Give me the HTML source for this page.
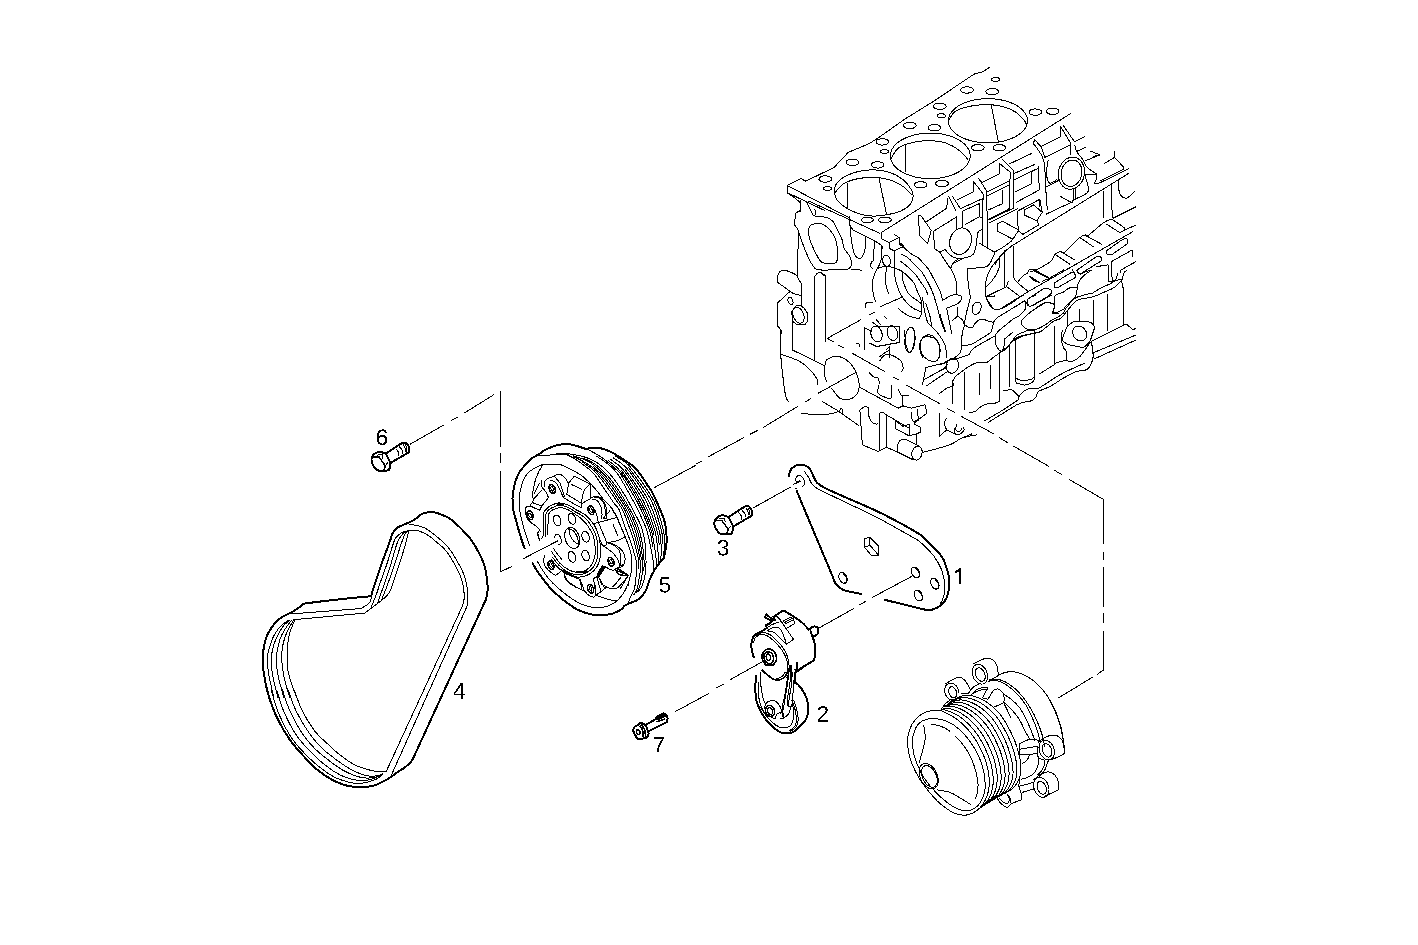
<!DOCTYPE html>
<html><head><meta charset="utf-8"><title>Diagram</title>
<style>html,body{margin:0;padding:0;background:#fff}body{width:1418px;height:945px;overflow:hidden}svg{display:block}text{font-family:"Liberation Sans",sans-serif;fill:#000}</style>
</head><body>
<svg width="1418" height="945" viewBox="0 0 1418 945" shape-rendering="crispEdges">
<rect width="1418" height="945" fill="#fff"/>
<g fill="none" stroke="#000" stroke-width="1" stroke-linecap="round" stroke-linejoin="round">
<path d="M410.1 444.2L443.7 425.1"/>
<path d="M451.1 420.6L457.8 417.1"/>
<path d="M464.8 412.7L493.7 394.8"/>
<path d="M500.5 391.2L500.5 446.2"/>
<path d="M500.5 453.7L500.5 462.4"/>
<path d="M500.5 471.1L500.5 571.8L511.2 566.8"/>
<path d="M523.7 558.5L557.4 541"/>
<path d="M753.4 507.8L790.9 486.9"/>
<path d="M795.1 483.6L800.8 481.1"/>
<path d="M912.1 576.2L872.2 597.5"/>
<path d="M865.9 601.2L859.7 604.9"/>
<path d="M853.4 608.7L819.2 627.9"/>
<path d="M763.5 661.1L729.8 679.9"/>
<path d="M723.6 684.1L716.1 688.1"/>
<path d="M708.6 693.6L674.9 711.8"/>
<path d="M1103.6 499.4L1103.6 543.5"/>
<path d="M1103.6 552.3L1103.6 559.8"/>
<path d="M1103.6 567.3L1103.6 606.2"/>
<path d="M1103.6 613.7L1103.6 622.5"/>
<path d="M1103.6 631.2L1103.6 669.9L1097.2 674.4"/>
<path d="M1092.2 677.4L1058.5 697.9"/>
<path d="M1103.4 499.4L1069.2 479.4"/>
<path d="M1062.2 474.9L1054.7 470.4"/>
<path d="M1048.4 466.1L1013.5 446.2"/>
<path d="M1007.2 442.4L999.8 437.9"/>
<path d="M993.5 433.7L961 416.2"/>
<path d="M954.8 412.5L947.3 408.7"/>
<path d="M939.8 403.7L906.1 385"/>
<path d="M899 379.9L893.2 377.4"/>
<path d="M884.8 371.6L852.4 353.3"/>
<path d="M844.1 348L838.2 345"/>
<path d="M833.2 341.7L827.4 338.3L860.7 319.8"/>
<path d="M869 314.8L874.9 312.3"/>
<path d="M880.7 306.5L901.5 297.4"/>
<path d="M654.8 487.4L695.2 465.6"/>
<path d="M696.7 463.9L702.2 460.9"/>
<path d="M708.5 456.7L743.4 437.9"/>
<path d="M750.2 434.2L757.2 430.7"/>
<path d="M763.4 427.4L797.5 406.6"/>
<path d="M805.8 401.6L810.8 398.6"/>
<path d="M818.3 393.2L854.9 372.9"/>
<path d="M409.3 524.3C410.6 524.6 414.8 525 417.4 525.6C420 526.2 422.4 526.8 424.9 528.1C427.4 529.3 429.9 531.2 432.4 533.1C434.9 535 437.6 537.3 439.9 539.3C442.2 541.3 444 542.7 446.1 544.9C448.2 547.2 450.3 549.9 452.4 553.1C454.4 556.2 456.7 560.2 458.6 563.7C460.5 567.1 462.3 570.5 463.6 573.7C464.8 576.8 465.4 579.5 466.1 582.4C466.8 585.3 467.3 588.2 467.6 591.1C467.9 594 468 597.4 468 599.9C467.9 602.4 467.2 605.1 467.1 606.1"/>
<path d="M408 530.6C409.2 530.5 412.7 530 414.9 530.2C417.1 530.4 418.9 530.9 421.1 531.8C423.4 532.7 426.1 533.9 428.6 535.6C431.1 537.2 433.6 539.7 436.1 541.8C438.6 543.9 441.3 545.7 443.6 548.1C445.9 550.5 448 553.4 449.9 556.2C451.7 559 453.2 561.8 454.9 564.9C456.5 568 458.5 571.6 459.9 574.9C461.2 578.2 462.2 581.6 463 584.9C463.7 588.2 464.1 592.2 464.2 594.9C464.4 597.6 464.2 599.3 463.8 601.1C463.5 603 462.6 605.3 462.3 606.1"/>
<path d="M404.9 531.2C404.3 531.5 402.6 532 401.2 533.1C399.7 534.1 397.4 535.9 396.2 537.5C394.9 539 395.1 538.3 393.7 542.4C392.2 546.6 389.5 556.2 387.4 562.4C385.4 568.7 383.1 574.5 381.2 579.9C379.3 585.3 377.5 591.3 376.2 594.9C375 598.4 374.5 599 373.7 601.1C372.9 603.2 371.6 606.3 371.2 607.4"/>
<path d="M406.2 531.2C405.6 531.6 404.5 531.6 403 533.5C401.6 535.3 399.6 536.8 397.4 542.4C395.2 548.1 392.3 559.9 389.9 567.4C387.5 574.9 385.2 581.4 383.1 587.4C381 593.4 378.4 600.9 377.5 603.6"/>
<path d="M407.4 531C407 531.4 406.2 531.6 405.2 533.7C404.1 535.8 403.1 538.1 401.2 543.7C399.3 549.3 396 560.5 393.7 567.4C391.4 574.3 389.5 579.3 387.4 584.9C385.4 590.5 382.2 598.4 381.2 601.1"/>
<path d="M408.7 531.2C408 533.7 406.6 540.4 404.9 546.2C403.3 552 400.8 559.7 398.7 566.2C396.6 572.6 394 580.5 392.4 584.9C390.9 589.3 390.8 590.1 389.3 592.4C387.9 594.7 385.7 596.8 383.7 598.6C381.7 600.5 379.3 602.2 377.5 603.6C375.6 605.1 374.5 605.8 372.5 607.4C370.4 608.9 366.2 612 365 613"/>
<path d="M371.2 596.4C371.2 596.8 371.6 597.4 371.2 598.6C370.8 599.8 370.2 602.1 368.7 603.6C367.3 605.1 363.5 606.9 362.5 607.6"/>
<path d="M289.9 614L361.7 608.5"/>
<path d="M293.7 619.7L364.8 613.1"/>
<path d="M288.1 620.6C286.9 621.4 283.4 623.4 281.2 625.6C279 627.8 276.7 630.7 275 633.7C273.2 636.7 271.8 640.1 270.6 643.7C269.4 647.2 268.2 651.2 267.7 654.9C267.2 658.7 267.4 662.4 267.7 666.1C268 669.9 268.7 673.6 269.3 677.4C270 681.1 271.1 685.2 271.8 688.6C272.6 692 273.4 696.4 273.7 698"/>
<path d="M289.9 620.2C288.9 621.1 285.7 623.1 283.7 625.6C281.7 628 279.7 631.7 278.1 634.9C276.4 638.2 274.8 641.4 273.7 644.9C272.6 648.5 271.8 652.6 271.5 656.2C271.1 659.7 271.2 662.6 271.5 666.1C271.7 669.7 272.4 673.6 273.1 677.4C273.8 681.1 274.7 685.2 275.6 688.6C276.4 692 277.7 696.4 278.1 698"/>
<path d="M291.8 620C290.9 621.2 288 624.7 286.2 627.4C284.4 630.1 282.6 633.1 281.2 636.2C279.8 639.3 278.8 642.8 278.1 646.2C277.3 649.5 276.8 652.6 276.6 656.2C276.4 659.7 276.5 663.6 276.8 667.4C277.2 671.1 277.9 674.9 278.7 678.6C279.5 682.4 281 686.6 281.8 689.9C282.7 693.1 283.4 696.6 283.7 698"/>
<path d="M293.7 620C292.9 621.4 290.1 625.8 288.7 628.7C287.2 631.6 286 634.3 284.9 637.4C283.9 640.5 283 644.1 282.4 647.4C281.9 650.7 281.8 654.1 281.8 657.4C281.8 660.7 282 663.9 282.4 667.4C282.9 670.9 283.5 674.9 284.3 678.6C285.2 682.4 286.5 686.6 287.4 689.9C288.4 693.1 289.5 696.6 289.9 698"/>
<path d="M294.9 620.2C294.3 621.6 292.2 625.8 291.2 628.7C290.1 631.6 289.3 634.3 288.7 637.4C288.1 640.5 287.7 644.1 287.4 647.4C287.2 650.7 287.2 654.1 287.2 657.4C287.2 660.7 287 663.9 287.4 667.4C287.9 670.9 288.9 674.9 289.9 678.6C291 682.4 292.5 686.6 293.7 689.9C294.8 693.1 296.3 696.6 296.8 698"/>
<path d="M271.2 690C272.5 694 275.4 705.8 278.7 713.7C282 721.6 286.8 730.8 291.2 737.4C295.6 744.1 300.1 748.7 304.9 753.7C309.7 758.7 314.9 763.4 319.9 767.4C324.9 771.4 330.3 775 334.9 777.4C339.5 779.8 343.4 780.7 347.4 781.8C351.3 782.8 355.1 783.6 358.6 783.6C362.2 783.6 365.7 782.5 368.6 781.8C371.5 781 373.8 780.4 376.1 779.3C378.4 778.1 381.3 775.6 382.3 774.9"/>
<path d="M276.8 690C278 693.5 280.5 703.7 283.7 711.2C286.9 718.7 291.8 728.3 296.2 734.9C300.6 741.6 305.1 746.2 309.9 751.2C314.7 756.2 319.9 761 324.9 764.9C329.9 768.9 335.3 772.5 339.9 774.9C344.5 777.3 348.6 778.3 352.4 779.3C356.1 780.2 359.2 780.5 362.4 780.5C365.5 780.5 368.4 780 371.1 779.3C373.8 778.5 377.3 776.7 378.6 776.1"/>
<path d="M282.5 690C283.7 693.5 286.6 703.9 290 711.2C293.3 718.5 298.3 727.5 302.4 733.7C306.6 739.9 310.3 744.1 314.9 748.7C319.5 753.3 325.3 757.6 329.9 761.2C334.5 764.7 338 767.4 342.4 769.9C346.8 772.4 352.2 774.8 356.1 776.1C360.1 777.5 363 777.8 366.1 778C369.2 778.2 372.3 777.9 374.8 777.4C377.3 776.9 380 775.3 381.1 774.9"/>
<path d="M288.1 690C289.4 693.5 292.8 704.1 296.2 711.2C299.6 718.3 304.5 726.4 308.7 732.4C312.8 738.5 316.8 743.1 321.2 747.4C325.5 751.8 330.5 755.3 334.9 758.7C339.3 762 343.2 764.9 347.4 767.4C351.5 769.9 356.1 772.2 359.9 773.6C363.6 775.1 366.7 775.8 369.9 776.1C373 776.5 376.4 775.9 378.6 775.5C380.8 775.1 382.2 774 383 773.6"/>
<path d="M294.3 690C295.7 693.5 299 704.4 302.4 711.2C305.9 718.1 310.8 725.8 314.9 731.2C319.1 736.6 323.2 739.7 327.4 743.7C331.6 747.6 335.5 751.5 339.9 754.9C344.3 758.4 349.5 762 353.6 764.3C357.8 766.6 361.3 767.5 364.9 768.7C368.4 769.8 371.4 770.7 374.8 771.1C378.3 771.6 383.7 771.4 385.5 771.4"/>
<path d="M462.4 606.1L386.3 771.3"/>
<path d="M467.1 606.1L391 776"/>
<path d="M529.6 545.5C529 543.8 527.1 538.8 525.9 535.1C524.7 531.4 523.6 527.5 522.5 523.4C521.5 519.2 520.2 513 519.6 510C519.1 507 519.3 507.4 519.2 505.2C519.1 503 518.9 499.6 519.2 496.8C519.5 494 520.2 491.2 520.9 488.4C521.6 485.7 522.3 482.6 523.4 480.1C524.5 477.6 525.7 475.4 527.5 473.4C529.3 471.5 531.7 469.9 534.2 468.4C536.8 466.9 541.5 465.1 543 464.4C545.7 464.4 555 463.7 559.3 464.4C563.5 465.1 564.9 466.6 568.5 468.4C572.1 470.2 577.4 472.6 581 475.1C584.6 477.6 587.4 480.7 590.2 483.4C593 486.2 595.6 489.3 597.7 491.8C599.8 494.3 600.4 495.7 602.7 498.5C605.1 501.2 609.4 505.3 611.8 508.3C614.1 511.4 615.2 513.6 616.8 516.7C618.3 519.7 619.6 523.4 621 526.7C622.4 530.1 623.6 532.8 625.1 536.7C626.7 540.6 629 546.2 630.1 550.1C631.3 554 631.5 557.1 631.8 560.1C632.1 563.2 632.1 565.7 631.8 568.5C631.5 571.3 630.8 574 630.1 576.8C629.5 579.6 628.3 584.2 628.1 585.2C627.8 586.2 629.2 581.5 628.6 582.6C628 583.7 626.1 589 624.4 591.8C622.7 594.6 620.6 597.2 618.5 599.3C616.5 601.4 614.4 603 611.9 604.3C609.4 605.6 606.3 606.7 603.5 607.2C600.7 607.8 597.9 607.7 595.2 607.5C592.4 607.3 589.9 606.9 586.8 606C583.7 605 580.1 603.6 576.8 601.8C573.4 600 570 597.5 566.8 595.1C563.6 592.8 560.5 590.3 557.6 587.6C554.6 585 551.7 582.2 549.2 579.2C546.7 576.3 544.5 573.1 542.5 570.1C540.5 567 538 562.4 537.1 560.9"/>
<path d="M566 454.5C567.2 455.1 570.7 456.3 573.5 458C576.3 459.7 579.7 461.9 583 464.5C586.3 467.1 590.5 470.1 593.5 473.4C596.5 476.6 598.5 480.4 601 484C603.5 487.6 606.1 491.6 608.4 494.9C610.6 498.2 612.7 501.4 614.5 503.9C616.3 506.4 617.5 506.1 619.3 510C621.1 513.9 623.1 521.5 625.1 527C627.1 532.5 629.2 537.5 631 543C632.8 548.5 635 555.8 636 560C637 564.2 636.8 565.7 636.8 568.5C636.8 571.3 636.4 573.6 636 577C635.6 580.4 635.3 585.5 634.3 589C633.3 592.5 631 595.7 630 598C629 600.3 628.8 602.2 628.5 603"/>
<path d="M583 462.5C584.8 463.8 590.4 467.3 593.5 470.2C596.6 473.1 599.1 476.6 601.8 480C604.5 483.4 607.3 487.3 609.8 490.9C612.3 494.5 614.9 498.4 617 501.6C619.1 504.8 620.7 505.8 622.7 510C624.7 514.2 627.2 521.5 629.2 527C631.2 532.5 633 537.5 634.5 543C636 548.5 637.8 555.7 638.5 560C639.2 564.3 638.9 567.5 639 569"/>
<path d="M573.5 456.6C575.1 457.4 579.7 459.4 583 461.3C586.3 463.2 590.3 465.5 593.5 468.2C596.7 470.9 599.4 474.2 602.2 477.6C605.1 481 607.9 484.7 610.6 488.5C613.3 492.3 616.1 496.7 618.5 500.3C620.9 503.9 622.6 505.6 624.8 510C627 514.5 629.6 521.5 631.6 527C633.6 532.5 635.2 537.5 636.6 543C638 548.5 639.4 555.6 640 560C640.6 564.4 640.5 566.4 640.4 569.4C640.3 572.4 639.7 574.9 639.2 578C638.7 581.1 638.2 585.2 637.3 588C636.4 590.8 634.4 593.7 633.8 594.8"/>
<path d="M593.5 466.4C595 467.9 599.6 472.1 602.6 475.4C605.6 478.7 608.5 482.4 611.4 486.3C614.3 490.2 617.5 495.1 620 499C622.5 502.9 624.4 505.3 626.7 510C629 514.7 631.9 521.5 633.9 527C635.9 532.5 637.4 537.5 638.6 543C639.9 548.5 640.9 557.2 641.4 560"/>
<path d="M573.5 455.7C575.1 456.3 579.7 457.6 583 459.1C586.3 460.6 590.2 462.4 593.5 464.8C596.8 467.2 599.9 470.1 603 473.3C606.1 476.5 609.2 480.1 612.2 484.2C615.2 488.3 618.6 493.6 621.3 497.9C624 502.2 626 505.1 628.5 510C631 514.9 634 521.5 636 527C638 532.5 639.3 537.5 640.4 543C641.5 548.5 642.3 555.5 642.7 560C643.1 564.5 643 566.9 642.8 570C642.6 573.1 642 575.7 641.4 578.6C640.8 581.5 640.1 585.1 639.3 587.4C638.5 589.7 636.9 591.7 636.4 592.6"/>
<path d="M583 458.1C584.8 458.9 590.1 460.9 593.5 463.1C596.9 465.3 600.2 468 603.4 471.2C606.6 474.4 609.7 477.9 612.9 482.2C616.1 486.4 619.7 492.1 622.6 496.7C625.5 501.3 627.7 504.9 630.3 510C632.9 515 636.1 521.5 638.1 527C640.1 532.5 641.2 537.5 642.2 543C643.2 548.5 643.7 555.5 644 560C644.3 564.5 643.9 568.6 643.9 570.3"/>
<path d="M566 453.5C567.2 453.7 570.7 454.1 573.5 454.6C576.3 455.1 579.7 455.5 583 456.5C586.3 457.5 590 458.6 593.5 460.5C597 462.4 600.6 464.9 604 468C607.4 471.1 610.6 474.5 614 479C617.4 483.5 621.4 489.7 624.6 494.9C627.8 500.1 630.2 504.6 633 510C635.8 515.4 639.4 521.5 641.4 527C643.4 532.5 644.2 537.5 645 543C645.8 548.5 645.9 555.4 646 560C646.1 564.6 646 567.5 645.7 570.7C645.4 573.9 644.8 576.8 644.1 579.4C643.4 582 642.5 584.8 641.7 586.6C640.9 588.4 640.1 589.1 639.5 590C638.9 590.9 638.1 591.8 637.8 592.1"/>
<path d="M596 456C597.7 457.1 602.5 459.7 606 462.5C609.5 465.3 613 467.6 617 473C621 478.4 626.4 488.7 629.9 494.9C633.4 501.1 635.4 504.6 638 510C640.6 515.4 643.9 522.8 645.6 527C647.3 531.2 647.3 531.7 648.1 535C648.9 538.3 649.7 542.9 650.5 546.9C651.3 550.9 652.3 555 652.9 558.8C653.5 562.6 653.8 568 654 569.9"/>
<path d="M619.1 471.9C621.5 475.7 629.6 488.5 633.3 494.9C637 501.2 638.7 504.6 641.2 510C643.7 515.4 646.8 522.8 648.4 527C650 531.2 650.1 531.8 650.8 535C651.5 538.2 652.5 544.4 652.8 546.3"/>
<path d="M608.7 460.9C610.7 462.6 616 465.6 620.5 471.3C625 477 631.6 488.4 635.4 494.9C639.2 501.3 640.8 504.6 643.2 510C645.7 515.4 648.6 522.8 650.1 527C651.6 531.2 651.7 531.9 652.4 535C653.1 538.1 653.7 542.3 654.3 545.9C654.9 549.5 655.5 553.3 655.9 556.7C656.3 560.1 656.4 564.7 656.5 566.3"/>
<path d="M621.8 470.6C624.4 474.7 633.6 488.3 637.5 494.9C641.4 501.5 642.8 504.6 645.2 510C647.6 515.4 650.3 522.8 651.8 527C653.3 531.2 653.6 533.7 654 535"/>
<path d="M610.9 459.6C613 461.3 618.5 463.9 623.3 469.8C628.1 475.7 635.9 488.2 639.9 494.9C643.9 501.6 645.2 504.6 647.5 510C649.8 515.4 652.4 522.8 653.8 527C655.2 531.2 655.3 532 655.9 535C656.5 538 656.9 541.7 657.3 545C657.7 548.3 658.1 551.9 658.3 555C658.5 558.1 658.5 562 658.5 563.4"/>
<path d="M625 469C627.9 473.3 638.4 488.1 642.6 494.9C646.8 501.7 647.8 504.6 650 510C652.2 515.4 654.7 522.8 656 527C657.3 531.2 657.5 532.1 658 535C658.5 537.9 659 542.9 659.2 544.5"/>
<path d="M613.4 458C615.6 459.7 621.4 462.1 626.7 468.2C632 474.3 640.9 487.9 645.2 494.9C649.5 501.9 650.3 504.6 652.5 510C654.7 515.4 656.9 522.8 658.2 527C659.5 531.2 659.6 532.2 660.1 535C660.6 537.8 660.8 541 661 544C661.2 547 661.1 550.2 661.1 552.9C661.1 555.5 660.9 558.7 660.9 559.9"/>
<path d="M628.5 467.3C631.8 471.9 643.6 487.8 648.1 494.9C652.6 502 653.1 504.6 655.2 510C657.3 515.4 659.3 522.8 660.5 527C661.7 531.2 661.9 532.2 662.3 535C662.7 537.8 662.9 542.1 663 543.5"/>
<path d="M616 456.5C618.3 458.2 624.2 460.1 630 466.5C635.8 472.9 645.9 487.6 650.5 494.9C655.1 502.1 655.5 504.6 657.5 510C659.5 515.4 661.4 522.8 662.5 527C663.6 531.2 663.9 532.3 664.2 535C664.6 537.7 664.6 540.4 664.6 543C664.6 545.6 664.2 548.7 664 550.9C663.8 553.1 663.4 555.5 663.3 556.4"/>
<path d="M538.4 455C539.2 455 541.5 455 543.4 455C545.4 455 547.9 455.1 550.1 455C552.3 454.9 554.8 454.6 556.8 454.4C558.7 454.1 559.8 453.6 561.8 453.5C563.7 453.4 566.5 453.5 568.5 453.8C570.4 454 572.7 454.8 573.5 455"/>
<path d="M543 464.6C542.4 465.7 540.4 468.6 539.2 470.9C538.1 473.2 536.8 475.8 535.9 478.4C535 481.1 534.4 484 533.8 486.8C533.3 489.6 532.6 492.9 532.6 495.1C532.5 497.4 533.3 499.3 533.4 500.2"/>
<path d="M587.3 449.2C588.3 449.7 591.1 451.1 593.5 452.5C596 453.9 599.1 455.6 601.9 457.5C604.7 459.5 607.5 461.9 610.3 464.2C613 466.6 615.7 469.1 618.6 471.7C621.6 474.4 626.4 478.7 628 480.1"/>
<path d="M541.7 480.9L541.7 486.8L543.8 489.3"/>
<path d="M539.7 483L534.2 493.5"/>
<path d="M534.2 498.5L541.7 490.1"/>
<path d="M543.8 489.3C544.3 490 546 492.1 546.8 493.5C547.5 494.9 548.2 496.9 548.4 497.6C547.5 498.9 544 503.1 542.6 505.2C541.1 507.3 540.1 509.3 539.7 510.2C538.2 509.5 532.1 507.3 530.9 506C529.7 504.7 532.3 503.2 532.6 502.7"/>
<path d="M532.6 502.7L533.4 500.2L534.2 498.5"/>
<path d="M532.6 502.7L541.7 506"/>
<path d="M530.9 506C530.2 506.1 527.6 506.3 526.7 506.8C525.8 507.4 525.5 507.9 525.5 509.3C525.4 510.7 525.8 513.6 526.3 515.2C526.8 516.8 528 518.3 528.4 518.9"/>
<path d="M544.3 486.8C544.3 486.2 544.2 484.3 544.3 483.4C544.3 482.5 544.2 482.1 544.7 481.4C545.2 480.6 546.8 479.3 547.2 478.8C548.4 478.4 552.5 476.7 554.3 475.9C556.1 475.2 556.8 474.4 558 474.3C559.3 474.1 560.6 474.5 561.8 475.1C563 475.7 564.2 476.9 565.1 478C566.1 479.1 567.1 480.9 567.6 481.8C568.2 482.7 568.3 483.2 568.5 483.4"/>
<path d="M554.3 475.9C554.7 476.5 555.8 478 556.8 479.3C557.8 480.5 559.3 481.9 560.1 483.4C561 485 561.2 486.8 561.8 488.5C562.4 490.1 563 492.1 563.5 493.5C564 494.9 564.5 496.3 564.7 496.8"/>
<path d="M550.1 480.1C550.9 480.4 553.7 480.7 555.1 481.8C556.5 482.9 557.5 485.1 558.5 486.8C559.4 488.5 560.3 490.3 561 491.8C561.7 493.3 562.1 494.9 562.6 496C563.2 497 564 497.7 564.3 498.1C566.8 499.5 576.4 505.4 579.3 506.8C582.3 508.3 581.4 506.8 581.8 506.8"/>
<path d="M568.5 483.4L574.3 476.3L590.2 483.9L590.6 498.5L581.8 503.5L581.8 506.8"/>
<path d="M568.5 483.4L566.8 494.3L581.8 503.5"/>
<path d="M590.2 483.9C589.2 484.9 585.7 488 584.4 490.1C583 492.3 582.7 494.6 582.3 496.8C581.8 499 581.9 502.4 581.8 503.5"/>
<path d="M571 484.3L581.8 489.3"/>
<path d="M590.6 498.5C591.1 498.2 592.2 497.1 593.5 496.8C594.9 496.5 597 496.3 598.6 496.8C600.1 497.4 601.5 498.5 602.7 500.2C604 501.8 605.4 504.6 606.1 506.8C606.8 509.1 606.9 511.5 606.9 513.5C606.9 515.5 606.2 518 606.1 518.9"/>
<path d="M592.3 499.3C593.1 499.5 595.6 499.2 596.9 500.2C598.2 501.1 599.4 503.2 600.2 505.2C601.1 507.1 601.6 509.5 601.9 511.8C602.2 514.1 601.9 517.8 601.9 518.9"/>
<path d="M594 497.6C595 497.8 598.5 497.2 600.2 498.5C602 499.7 603.6 502.7 604.4 505.2C605.2 507.7 605.2 511.2 605.2 513.5C605.2 515.8 604.5 518 604.4 518.9"/>
<path d="M543.4 518.9C543.4 518 542.9 515.3 543.4 513.5C544 511.8 545.4 509.9 546.8 508.5C548.2 507.1 550 506.1 551.8 505.2C553.6 504.3 555.7 503.4 557.6 503.1C559.6 502.8 561.4 503 563.5 503.5C565.6 504 567.9 504.9 570.2 506C572.4 507.1 575.7 509.5 576.8 510.2"/>
<path d="M545.8 518.9C545.8 518.1 545.4 515.5 545.9 513.9C546.4 512.4 547.6 510.9 548.8 509.8C550.1 508.6 551.8 507.8 553.4 507.1C555 506.4 556.8 505.6 558.5 505.4C560.1 505.2 561.7 505.4 563.5 505.8C565.3 506.3 567.4 507.1 569.3 508.1C571.3 509.1 574.2 511.2 575.2 511.8"/>
<path d="M548.1 518.9C548.2 518.3 548 516.1 548.4 514.8C548.9 513.4 549.8 512 550.9 511C552 510 553.7 509.5 555.1 508.9C556.5 508.4 557.9 507.8 559.3 507.7C560.7 507.5 561.9 507.7 563.5 508.1C565 508.5 566.7 509.1 568.5 510C570.2 510.9 573 512.9 573.9 513.5"/>
<path d="M553.3 488.5C553.3 488.6 553.4 488.7 553.4 488.9C553.4 489 553.5 489.1 553.5 489.2C553.5 489.4 553.5 489.5 553.5 489.6C553.5 489.7 553.6 489.9 553.5 490C553.5 490.1 553.5 490.2 553.5 490.3C553.5 490.4 553.5 490.5 553.4 490.6C553.4 490.7 553.4 490.7 553.3 490.8C553.3 490.9 553.2 490.9 553.2 491C553.1 491 553.1 491 553 491.1C552.9 491.1 552.9 491.1 552.8 491.1C552.7 491.1 552.6 491.1 552.6 491.1C552.5 491.1 552.4 491 552.3 491C552.3 490.9 552.2 490.9 552.1 490.8C552 490.7 551.9 490.7 551.9 490.6C551.8 490.5 551.7 490.4 551.6 490.3C551.6 490.2 551.5 490.1 551.4 490C551.4 489.9 551.3 489.8 551.2 489.6C551.2 489.5 551.1 489.4 551.1 489.3C551 489.1 551 489 551 488.9C550.9 488.8 550.9 488.6 550.9 488.5C550.9 488.4 550.8 488.2 550.8 488.1C550.8 488 550.8 487.9 550.8 487.8C550.8 487.7 550.9 487.5 550.9 487.4C550.9 487.3 550.9 487.3 550.9 487.2C551 487.1 551 487 551.1 486.9C551.1 486.9 551.2 486.8 551.2 486.8C551.3 486.7 551.3 486.7 551.4 486.7C551.5 486.7 551.5 486.6 551.6 486.6C551.7 486.6 551.7 486.6 551.8 486.7C551.9 486.7 552 486.7 552 486.8C552.1 486.8 552.2 486.9 552.3 486.9C552.4 487 552.4 487.1 552.5 487.2C552.6 487.2 552.7 487.3 552.7 487.4C552.8 487.5 552.9 487.6 552.9 487.7C553 487.9 553.1 488 553.1 488.1C553.2 488.2 553.2 488.3 553.3 488.5Z"/>
<path d="M531.1 514.8C531.2 514.9 531.2 515 531.3 515.2C531.3 515.3 531.3 515.4 531.4 515.6C531.4 515.7 531.4 515.8 531.4 515.9C531.4 516.1 531.4 516.2 531.4 516.3C531.4 516.4 531.4 516.5 531.4 516.6C531.4 516.7 531.3 516.8 531.3 516.9C531.3 517 531.2 517.1 531.2 517.1C531.1 517.2 531.1 517.2 531 517.3C531 517.3 530.9 517.4 530.9 517.4C530.8 517.4 530.7 517.4 530.6 517.4C530.6 517.4 530.5 517.4 530.4 517.4C530.4 517.4 530.3 517.3 530.2 517.3C530.1 517.2 530 517.2 530 517.1C529.9 517.1 529.8 517 529.7 516.9C529.6 516.8 529.6 516.7 529.5 516.6C529.4 516.5 529.4 516.4 529.3 516.3C529.2 516.2 529.2 516.1 529.1 516C529.1 515.8 529 515.7 529 515.6C528.9 515.5 528.9 515.3 528.8 515.2C528.8 515.1 528.8 514.9 528.7 514.8C528.7 514.7 528.7 514.6 528.7 514.4C528.7 514.3 528.7 514.2 528.7 514.1C528.7 514 528.7 513.9 528.7 513.8C528.7 513.7 528.8 513.6 528.8 513.5C528.8 513.4 528.9 513.3 528.9 513.3C529 513.2 529 513.1 529.1 513.1C529.1 513 529.2 513 529.3 513C529.3 513 529.4 513 529.5 513C529.5 513 529.6 513 529.7 513C529.7 513 529.8 513 529.9 513.1C530 513.1 530.1 513.2 530.1 513.2C530.2 513.3 530.3 513.4 530.4 513.5C530.5 513.6 530.5 513.6 530.6 513.7C530.7 513.8 530.7 513.9 530.8 514.1C530.9 514.2 530.9 514.3 531 514.4C531.1 514.5 531.1 514.7 531.1 514.8Z"/>
<path d="M592.1 509.8C592.2 509.9 592.2 510 592.3 510.2C592.3 510.3 592.3 510.4 592.3 510.6C592.4 510.7 592.4 510.8 592.4 510.9C592.4 511 592.4 511.2 592.4 511.3C592.4 511.4 592.4 511.5 592.4 511.6C592.3 511.7 592.3 511.8 592.3 511.9C592.2 512 592.2 512 592.2 512.1C592.1 512.2 592.1 512.2 592 512.3C592 512.3 591.9 512.4 591.8 512.4C591.8 512.4 591.7 512.4 591.6 512.4C591.6 512.4 591.5 512.4 591.4 512.4C591.3 512.4 591.3 512.3 591.2 512.3C591.1 512.2 591 512.2 590.9 512.1C590.9 512.1 590.8 512 590.7 511.9C590.6 511.8 590.6 511.7 590.5 511.6C590.4 511.5 590.3 511.4 590.3 511.3C590.2 511.2 590.1 511.1 590.1 511C590 510.8 590 510.7 589.9 510.6C589.9 510.4 589.8 510.3 589.8 510.2C589.8 510.1 589.8 509.9 589.7 509.8C589.7 509.7 589.7 509.5 589.7 509.4C589.7 509.3 589.7 509.2 589.7 509.1C589.7 509 589.7 508.8 589.7 508.7C589.7 508.6 589.8 508.6 589.8 508.5C589.8 508.4 589.9 508.3 589.9 508.2C590 508.2 590 508.1 590.1 508.1C590.1 508 590.2 508 590.2 508C590.3 508 590.4 507.9 590.4 507.9C590.5 507.9 590.6 508 590.7 508C590.7 508 590.8 508 590.9 508.1C591 508.1 591.1 508.2 591.1 508.2C591.2 508.3 591.3 508.4 591.4 508.5C591.4 508.5 591.5 508.6 591.6 508.7C591.7 508.8 591.7 508.9 591.8 509C591.9 509.2 591.9 509.3 592 509.4C592 509.5 592.1 509.6 592.1 509.8Z"/>
<path d="M612.2 561.4C612.2 561.5 612.3 561.7 612.3 561.8C612.3 561.9 612.4 562 612.4 562.2C612.4 562.3 612.4 562.4 612.4 562.5C612.4 562.7 612.4 562.8 612.4 562.9C612.4 563 612.4 563.1 612.4 563.2C612.4 563.3 612.4 563.4 612.3 563.5C612.3 563.6 612.3 563.7 612.2 563.7C612.2 563.8 612.1 563.8 612.1 563.9C612 563.9 611.9 564 611.9 564C611.8 564 611.8 564 611.7 564C611.6 564 611.5 564 611.5 564C611.4 564 611.3 563.9 611.2 563.9C611.2 563.9 611.1 563.8 611 563.7C610.9 563.7 610.8 563.6 610.8 563.5C610.7 563.4 610.6 563.3 610.5 563.2C610.5 563.1 610.4 563 610.3 562.9C610.3 562.8 610.2 562.7 610.1 562.6C610.1 562.5 610 562.3 610 562.2C609.9 562.1 609.9 561.9 609.9 561.8C609.8 561.7 609.8 561.5 609.8 561.4C609.8 561.3 609.7 561.2 609.7 561C609.7 560.9 609.7 560.8 609.7 560.7C609.7 560.6 609.7 560.5 609.8 560.4C609.8 560.3 609.8 560.2 609.8 560.1C609.9 560 609.9 559.9 610 559.9C610 559.8 610.1 559.7 610.1 559.7C610.2 559.7 610.2 559.6 610.3 559.6C610.3 559.6 610.4 559.6 610.5 559.6C610.6 559.6 610.6 559.6 610.7 559.6C610.8 559.6 610.9 559.6 610.9 559.7C611 559.7 611.1 559.8 611.2 559.9C611.3 559.9 611.3 560 611.4 560.1C611.5 560.2 611.6 560.3 611.6 560.4C611.7 560.4 611.8 560.6 611.8 560.7C611.9 560.8 612 560.9 612 561C612.1 561.1 612.1 561.3 612.2 561.4Z"/>
<path d="M552 564.7C552.1 564.9 552.1 565 552.2 565.1C552.2 565.3 552.2 565.4 552.2 565.5C552.3 565.6 552.3 565.8 552.3 565.9C552.3 566 552.3 566.1 552.3 566.2C552.3 566.4 552.3 566.5 552.3 566.6C552.2 566.7 552.2 566.8 552.2 566.8C552.1 566.9 552.1 567 552.1 567.1C552 567.1 552 567.2 551.9 567.2C551.9 567.3 551.8 567.3 551.7 567.3C551.7 567.4 551.6 567.4 551.5 567.4C551.5 567.4 551.4 567.4 551.3 567.3C551.2 567.3 551.2 567.3 551.1 567.2C551 567.2 550.9 567.1 550.8 567.1C550.8 567 550.7 566.9 550.6 566.9C550.5 566.8 550.5 566.7 550.4 566.6C550.3 566.5 550.2 566.4 550.2 566.3C550.1 566.2 550 566 550 565.9C549.9 565.8 549.9 565.7 549.8 565.5C549.8 565.4 549.7 565.3 549.7 565.2C549.7 565 549.7 564.9 549.6 564.8C549.6 564.6 549.6 564.5 549.6 564.4C549.6 564.3 549.6 564.1 549.6 564C549.6 563.9 549.6 563.8 549.6 563.7C549.6 563.6 549.7 563.5 549.7 563.4C549.7 563.4 549.8 563.3 549.8 563.2C549.9 563.1 549.9 563.1 550 563C550 563 550.1 563 550.1 562.9C550.2 562.9 550.3 562.9 550.3 562.9C550.4 562.9 550.5 562.9 550.6 562.9C550.6 563 550.7 563 550.8 563C550.9 563.1 551 563.1 551 563.2C551.1 563.3 551.2 563.3 551.3 563.4C551.3 563.5 551.4 563.6 551.5 563.7C551.6 563.8 551.6 563.9 551.7 564C551.8 564.1 551.8 564.2 551.9 564.4C551.9 564.5 552 564.6 552 564.7Z"/>
<path d="M591.7 588.5C591.7 588.6 591.8 588.7 591.8 588.8C591.8 589 591.9 589.1 591.9 589.2C591.9 589.4 591.9 589.5 591.9 589.6C591.9 589.7 591.9 589.9 591.9 590C591.9 590.1 591.9 590.2 591.9 590.3C591.9 590.4 591.8 590.5 591.8 590.6C591.8 590.6 591.7 590.7 591.7 590.8C591.7 590.9 591.6 590.9 591.5 591C591.5 591 591.4 591 591.4 591.1C591.3 591.1 591.2 591.1 591.2 591.1C591.1 591.1 591 591.1 590.9 591.1C590.9 591 590.8 591 590.7 591C590.6 590.9 590.6 590.9 590.5 590.8C590.4 590.7 590.3 590.7 590.2 590.6C590.2 590.5 590.1 590.4 590 590.3C589.9 590.2 589.9 590.1 589.8 590C589.7 589.9 589.7 589.8 589.6 589.6C589.6 589.5 589.5 589.4 589.5 589.3C589.4 589.1 589.4 589 589.3 588.9C589.3 588.7 589.3 588.6 589.3 588.5C589.2 588.4 589.2 588.2 589.2 588.1C589.2 588 589.2 587.9 589.2 587.8C589.2 587.6 589.2 587.5 589.2 587.4C589.3 587.3 589.3 587.2 589.3 587.2C589.4 587.1 589.4 587 589.4 586.9C589.5 586.9 589.5 586.8 589.6 586.8C589.6 586.7 589.7 586.7 589.8 586.7C589.8 586.6 589.9 586.6 590 586.6C590 586.6 590.1 586.6 590.2 586.7C590.3 586.7 590.3 586.7 590.4 586.8C590.5 586.8 590.6 586.9 590.7 586.9C590.7 587 590.8 587.1 590.9 587.1C591 587.2 591 587.3 591.1 587.4C591.2 587.5 591.3 587.6 591.3 587.7C591.4 587.8 591.5 588 591.5 588.1C591.6 588.2 591.6 588.3 591.7 588.5Z"/>
<path d="M560.5 519.4C560.6 519.7 560.7 520 560.8 520.3C560.8 520.6 560.9 520.9 560.9 521.2C560.9 521.5 561 521.8 560.9 522.1C560.9 522.4 560.9 522.7 560.9 523C560.8 523.3 560.7 523.5 560.7 523.8C560.6 524 560.5 524.2 560.3 524.4C560.2 524.6 560.1 524.8 559.9 525C559.8 525.2 559.6 525.3 559.5 525.4C559.3 525.5 559.1 525.6 558.9 525.7C558.7 525.7 558.5 525.8 558.3 525.8C558.1 525.8 557.9 525.8 557.7 525.7C557.4 525.7 557.2 525.6 557 525.5C556.8 525.4 556.6 525.3 556.4 525.2C556.2 525 555.9 524.8 555.7 524.6C555.5 524.5 555.3 524.2 555.2 524C555 523.8 554.8 523.5 554.6 523.3C554.5 523 554.3 522.7 554.2 522.4C554.1 522.1 554 521.8 553.9 521.5C553.8 521.2 553.7 520.9 553.6 520.6C553.6 520.3 553.5 520 553.5 519.7C553.5 519.4 553.4 519.1 553.5 518.8C553.5 518.5 553.5 518.2 553.5 517.9C553.6 517.6 553.7 517.4 553.8 517.1C553.8 516.9 553.9 516.6 554.1 516.4C554.2 516.2 554.3 516 554.5 515.9C554.6 515.7 554.8 515.6 554.9 515.5C555.1 515.4 555.3 515.3 555.5 515.2C555.7 515.1 555.9 515.1 556.1 515.1C556.3 515.1 556.5 515.1 556.7 515.1C557 515.2 557.2 515.3 557.4 515.4C557.6 515.5 557.8 515.6 558 515.7C558.3 515.9 558.5 516 558.7 516.2C558.9 516.4 559.1 516.7 559.2 516.9C559.4 517.1 559.6 517.4 559.8 517.6C559.9 517.9 560.1 518.2 560.2 518.5C560.3 518.8 560.4 519.1 560.5 519.4Z"/>
<path d="M575.2 517.7C575.3 518 575.3 518.3 575.4 518.6C575.5 518.9 575.5 519.2 575.5 519.5C575.6 519.9 575.6 520.2 575.6 520.5C575.6 520.7 575.5 521 575.5 521.3C575.4 521.6 575.4 521.8 575.3 522.1C575.2 522.3 575.1 522.6 575 522.8C574.8 523 574.7 523.2 574.6 523.3C574.4 523.5 574.3 523.6 574.1 523.7C573.9 523.9 573.7 524 573.5 524C573.3 524.1 573.1 524.1 572.9 524.1C572.7 524.1 572.5 524.1 572.3 524.1C572.1 524 571.8 524 571.6 523.9C571.4 523.8 571.2 523.6 571 523.5C570.8 523.3 570.6 523.2 570.4 523C570.2 522.8 570 522.6 569.8 522.3C569.6 522.1 569.4 521.8 569.3 521.6C569.1 521.3 569 521 568.8 520.8C568.7 520.5 568.6 520.2 568.5 519.9C568.4 519.6 568.3 519.2 568.2 518.9C568.2 518.6 568.1 518.3 568.1 518C568.1 517.7 568.1 517.4 568.1 517.1C568.1 516.8 568.1 516.5 568.2 516.2C568.2 516 568.3 515.7 568.4 515.5C568.5 515.2 568.6 515 568.7 514.8C568.8 514.6 568.9 514.4 569.1 514.2C569.2 514.1 569.4 513.9 569.6 513.8C569.7 513.7 569.9 513.6 570.1 513.5C570.3 513.5 570.5 513.4 570.7 513.4C570.9 513.4 571.1 513.4 571.4 513.5C571.6 513.5 571.8 513.6 572 513.7C572.2 513.8 572.4 513.9 572.7 514.1C572.9 514.2 573.1 514.4 573.3 514.6C573.5 514.8 573.7 515 573.9 515.2C574 515.4 574.2 515.7 574.4 516C574.5 516.2 574.7 516.5 574.8 516.8C574.9 517.1 575.1 517.4 575.2 517.7Z"/>
<path d="M588.9 535.6C589 536 589.1 536.3 589.2 536.6C589.3 536.9 589.3 537.2 589.3 537.5C589.4 537.8 589.4 538.1 589.3 538.4C589.3 538.7 589.3 539 589.3 539.3C589.2 539.5 589.1 539.8 589.1 540.1C589 540.3 588.9 540.5 588.7 540.7C588.6 540.9 588.5 541.1 588.3 541.3C588.2 541.5 588 541.6 587.9 541.7C587.7 541.8 587.5 541.9 587.3 542C587.1 542 586.9 542.1 586.7 542.1C586.5 542.1 586.3 542.1 586.1 542C585.9 542 585.6 541.9 585.4 541.8C585.2 541.7 585 541.6 584.8 541.4C584.6 541.3 584.3 541.1 584.1 540.9C583.9 540.7 583.7 540.5 583.6 540.3C583.4 540.1 583.2 539.8 583.1 539.5C582.9 539.3 582.7 539 582.6 538.7C582.5 538.4 582.4 538.1 582.3 537.8C582.2 537.5 582.1 537.2 582 536.9C582 536.6 581.9 536.3 581.9 536C581.9 535.7 581.9 535.3 581.9 535.1C581.9 534.8 581.9 534.5 582 534.2C582 533.9 582.1 533.7 582.2 533.4C582.2 533.2 582.3 532.9 582.5 532.7C582.6 532.5 582.7 532.3 582.9 532.2C583 532 583.2 531.9 583.3 531.8C583.5 531.6 583.7 531.6 583.9 531.5C584.1 531.4 584.3 531.4 584.5 531.4C584.7 531.4 584.9 531.4 585.1 531.4C585.4 531.5 585.6 531.6 585.8 531.6C586 531.7 586.2 531.9 586.4 532C586.7 532.2 586.9 532.3 587.1 532.5C587.3 532.7 587.5 532.9 587.6 533.2C587.8 533.4 588 533.7 588.2 533.9C588.3 534.2 588.5 534.5 588.6 534.8C588.7 535 588.8 535.3 588.9 535.6Z"/>
<path d="M588.9 554.4C589 554.7 589.1 555.1 589.2 555.4C589.3 555.7 589.3 556 589.3 556.3C589.4 556.6 589.4 556.9 589.3 557.2C589.3 557.5 589.3 557.8 589.3 558.1C589.2 558.3 589.1 558.6 589.1 558.9C589 559.1 588.9 559.3 588.7 559.5C588.6 559.7 588.5 559.9 588.3 560.1C588.2 560.3 588 560.4 587.9 560.5C587.7 560.6 587.5 560.7 587.3 560.8C587.1 560.8 586.9 560.9 586.7 560.9C586.5 560.9 586.3 560.9 586.1 560.8C585.9 560.8 585.6 560.7 585.4 560.6C585.2 560.5 585 560.4 584.8 560.2C584.6 560.1 584.3 559.9 584.1 559.7C583.9 559.5 583.7 559.3 583.6 559.1C583.4 558.9 583.2 558.6 583.1 558.3C582.9 558.1 582.7 557.8 582.6 557.5C582.5 557.2 582.4 556.9 582.3 556.6C582.2 556.3 582.1 556 582 555.7C582 555.4 581.9 555.1 581.9 554.8C581.9 554.4 581.9 554.1 581.9 553.8C581.9 553.6 581.9 553.3 582 553C582 552.7 582.1 552.5 582.2 552.2C582.2 552 582.3 551.7 582.5 551.5C582.6 551.3 582.7 551.1 582.9 551C583 550.8 583.2 550.7 583.3 550.6C583.5 550.4 583.7 550.3 583.9 550.3C584.1 550.2 584.3 550.2 584.5 550.2C584.7 550.2 584.9 550.2 585.1 550.2C585.4 550.3 585.6 550.3 585.8 550.4C586 550.5 586.2 550.7 586.4 550.8C586.7 551 586.9 551.1 587.1 551.3C587.3 551.5 587.5 551.7 587.6 552C587.8 552.2 588 552.5 588.2 552.7C588.3 553 588.5 553.3 588.6 553.6C588.7 553.8 588.8 554.1 588.9 554.4Z"/>
<path d="M575.2 555.7C575.3 556 575.3 556.3 575.4 556.6C575.5 556.9 575.5 557.3 575.5 557.6C575.6 557.9 575.6 558.2 575.6 558.5C575.6 558.8 575.5 559.1 575.5 559.3C575.4 559.6 575.4 559.9 575.3 560.1C575.2 560.3 575.1 560.6 575 560.8C574.8 561 574.7 561.2 574.6 561.3C574.4 561.5 574.3 561.6 574.1 561.8C573.9 561.9 573.7 562 573.5 562C573.3 562.1 573.1 562.1 572.9 562.1C572.7 562.1 572.5 562.1 572.3 562.1C572.1 562 571.8 562 571.6 561.9C571.4 561.8 571.2 561.6 571 561.5C570.8 561.4 570.6 561.2 570.4 561C570.2 560.8 570 560.6 569.8 560.3C569.6 560.1 569.4 559.9 569.3 559.6C569.1 559.3 569 559.1 568.8 558.8C568.7 558.5 568.6 558.2 568.5 557.9C568.4 557.6 568.3 557.3 568.2 556.9C568.2 556.6 568.1 556.3 568.1 556C568.1 555.7 568.1 555.4 568.1 555.1C568.1 554.8 568.1 554.5 568.2 554.2C568.2 554 568.3 553.7 568.4 553.5C568.5 553.2 568.6 553 568.7 552.8C568.8 552.6 568.9 552.4 569.1 552.2C569.2 552.1 569.4 551.9 569.6 551.8C569.7 551.7 569.9 551.6 570.1 551.5C570.3 551.5 570.5 551.4 570.7 551.4C570.9 551.4 571.1 551.4 571.4 551.5C571.6 551.5 571.8 551.6 572 551.7C572.2 551.8 572.4 551.9 572.7 552.1C572.9 552.2 573.1 552.4 573.3 552.6C573.5 552.8 573.7 553 573.9 553.2C574 553.5 574.2 553.7 574.4 554C574.5 554.2 574.7 554.5 574.8 554.8C574.9 555.1 575.1 555.4 575.2 555.7Z"/>
<path d="M554.8 537.6C554.8 537.4 554.8 537 554.9 536.8C554.9 536.5 555 536.3 555 536C555.1 535.8 555.2 535.6 555.3 535.4C555.4 535.2 555.5 535.1 555.6 534.9C555.7 534.8 555.8 534.6 556 534.5C556.1 534.4 556.3 534.4 556.4 534.3C556.6 534.3 556.8 534.2 556.9 534.2C557.1 534.2 557.3 534.3 557.5 534.3C557.7 534.4 557.9 534.4 558 534.5C558.2 534.6 558.4 534.7 558.6 534.9C558.8 535 559 535.2 559.1 535.4C559.3 535.6 559.5 535.8 559.6 536C559.8 536.2 560 536.5 560.1 536.7C560.2 537 560.4 537.2 560.5 537.5C560.6 537.8 560.7 538.1 560.8 538.3C560.9 538.6 561 538.9 561.1 539.2C561.1 539.5 561.2 539.8 561.2 540.1C561.2 540.4 561.2 540.6 561.2 540.9C561.2 541.2 561.2 541.5 561.2 541.7C561.2 542 561.1 542.2 561.1 542.4C561 542.7 560.9 542.9 560.8 543.1C560.7 543.2 560.6 543.4 560.5 543.6C560.4 543.7 560.2 543.8 560.1 543.9C560 544 559.8 544.1 559.6 544.2C559.5 544.2 559.3 544.2 559.1 544.2C559 544.2 558.8 544.2 558.6 544.2C558.4 544.1 558.1 544 558 544"/>
<path d="M579 535.8C579.2 536.4 579.3 537 579.5 537.6C579.6 538.2 579.7 538.9 579.7 539.5C579.8 540.1 579.8 540.7 579.8 541.3C579.7 541.8 579.7 542.4 579.6 542.9C579.5 543.5 579.3 544 579.2 544.5C579 545 578.8 545.4 578.5 545.8C578.3 546.2 578 546.6 577.7 546.9C577.4 547.3 577.1 547.5 576.7 547.8C576.4 548 576 548.2 575.6 548.3C575.2 548.4 574.8 548.5 574.4 548.5C574 548.6 573.5 548.5 573.1 548.4C572.6 548.4 572.2 548.2 571.8 548C571.3 547.8 570.9 547.6 570.5 547.3C570 547 569.6 546.7 569.2 546.3C568.8 545.9 568.4 545.5 568.1 545.1C567.7 544.6 567.4 544.1 567 543.6C566.7 543.1 566.4 542.5 566.2 541.9C565.9 541.4 565.7 540.8 565.5 540.2C565.3 539.6 565.1 539 565 538.4C564.9 537.7 564.8 537.1 564.7 536.5C564.7 535.9 564.7 535.3 564.7 534.7C564.7 534.1 564.8 533.6 564.9 533C565 532.5 565.2 532 565.3 531.5C565.5 531 565.7 530.5 566 530.1C566.2 529.7 566.5 529.4 566.8 529C567.1 528.7 567.4 528.4 567.8 528.2C568.1 528 568.5 527.8 568.9 527.7C569.3 527.5 569.7 527.5 570.1 527.4C570.5 527.4 571 527.4 571.4 527.5C571.8 527.6 572.3 527.8 572.7 527.9C573.1 528.1 573.6 528.4 574 528.7C574.4 529 574.9 529.3 575.3 529.7C575.7 530 576 530.5 576.4 530.9C576.8 531.4 577.1 531.9 577.4 532.4C577.8 532.9 578 533.5 578.3 534C578.6 534.6 578.8 535.2 579 535.8Z"/>
<path d="M568.9 528.8C569 529.7 569.2 532.5 569.7 534.2C570.3 536 571.2 537.8 572.2 539.2C573.3 540.7 574.9 542.2 576 543C577.1 543.8 578.4 544 578.9 544.3"/>
<path d="M568.9 528.8C569.7 529.1 572.2 529.7 573.5 530.9C574.8 532.1 575.9 533.7 576.8 535.9C577.7 538.1 578.6 542.9 578.9 544.3"/>
<path d="M543.4 518.9C543.4 520.2 543.2 524 543.2 526.7C543.2 529.4 543.4 533.7 543.4 535.1"/>
<path d="M545.8 518.9L545.5 535.9"/>
<path d="M548.1 518.9L547.8 535.1"/>
<path d="M543.4 535.1L541.7 538.4"/>
<path d="M539.2 530.9C539 531.4 537.5 532.7 537.6 534.2C537.6 535.8 539.3 539.1 539.7 540.1"/>
<path d="M545.5 535.9L545.8 536.7"/>
<path d="M525.5 510C525.7 511.3 525.8 515.4 526.7 517.5C527.6 519.6 529.4 521.1 530.9 522.5C532.4 523.9 534.5 524.8 535.9 525.9C537.3 527 538.5 528.2 539.2 529.2C539.9 530.2 539.9 531.3 540.1 531.7"/>
<path d="M537.6 532.6L538.8 537.6"/>
<path d="M573.9 513.5C574.8 514.1 577.5 515.6 579.3 517.1C581.2 518.6 583.5 520.7 585.2 522.5C586.9 524.4 588 526.3 589.4 528.4C590.7 530.5 592.2 532.6 593.1 535.1C594 537.6 594.4 540.4 594.8 543.4C595.1 546.5 595.4 550.5 595.2 553.4C595 556.4 594.5 558.6 593.5 561C592.6 563.3 591 565.9 589.4 567.6C587.7 569.4 585.6 570.6 583.5 571.4C581.4 572.2 579.3 572.8 576.8 572.5C574.3 572.2 571.3 571.2 568.5 569.7C565.7 568.2 562.5 565.8 560.1 563.5C557.8 561.1 555.7 557.5 554.3 555.5C552.9 553.6 552.2 552.4 551.8 551.8"/>
<path d="M575.2 511.8C576.3 512.4 579.8 513.9 581.8 515.4C583.9 516.9 586 518.9 587.7 520.9C589.4 522.8 590.5 524.9 591.9 527.1C593.2 529.4 594.7 531.5 595.6 534.2C596.6 536.9 597.1 540.1 597.5 543.4C597.8 546.7 598.1 550.7 597.9 553.9C597.6 557 597.1 559.6 596 562.2C595 564.8 593.3 567.4 591.5 569.3C589.6 571.2 587.2 572.6 584.8 573.5C582.3 574.4 579.7 575 576.8 574.7C574 574.5 570.6 573.6 567.6 572C564.7 570.4 561.4 567.8 558.9 565.3C556.4 562.8 553.7 558.6 552.6 557.2"/>
<path d="M576.8 510.2C578.1 510.8 582.1 512.6 584.4 514.2C586.6 515.8 588.5 517.7 590.2 519.6C591.9 521.6 593.1 523.5 594.4 525.9C595.7 528.2 597.2 530.9 598.1 533.8C599.1 536.7 599.7 540 600.1 543.4C600.4 546.8 600.7 550.9 600.5 554.3C600.2 557.6 599.7 560.7 598.6 563.5C597.4 566.3 595.6 568.9 593.5 571C591.5 573 588.8 574.7 586 575.7C583.2 576.8 580 577.3 576.8 577.1C573.6 576.8 570 575.8 566.8 574.2C563.6 572.5 560.2 569.7 557.6 567.2C555 564.7 552.4 560.6 551.4 559.3"/>
<path d="M553.4 548.4C554 549.3 555.4 551.6 556.8 553.4C558.2 555.3 561 558.3 561.8 559.3"/>
<path d="M544.7 555.9C544.5 556.6 543.3 558.5 543.4 560.1C543.5 561.8 544.3 564.3 545.1 566C545.9 567.6 547 568.8 548.4 570.2C549.8 571.5 552.3 573.5 553.4 574.3C554.6 575.2 555.2 575 555.5 575.2C556.2 574.7 558.2 573.6 559.3 572.7C560.3 571.8 561.4 570.2 561.8 569.7L563.5 571"/>
<path d="M564.3 571.4C564.4 572.3 564.4 575.1 565.1 576.8C565.8 578.6 567.1 580.5 568.5 581.8C569.9 583.2 571.7 584 573.5 585.2C575.3 586.4 578.4 588.3 579.3 588.9"/>
<path d="M564.3 571.4C565 571.8 566.5 572.6 568.5 573.5C570.4 574.4 574.2 575.9 576 576.8C577.8 577.8 578.4 577.3 579.3 579.3C580.3 581.4 581.4 587.3 581.8 588.9"/>
<path d="M606.8 542.6C607.6 542.7 610.1 542.9 611.8 543.4C613.4 544 615.1 544.8 616.8 545.9C618.5 547 620.5 548.7 621.8 550.1C623 551.5 623.7 552.9 624.3 554.3C624.9 555.7 625.1 556.9 625.1 558.5C625.1 560 625.1 562.2 624.3 563.5C623.5 564.7 620.8 565.6 620.1 566"/>
<path d="M603.4 545.9C604.3 546.5 606.8 548 608.4 549.3C610.1 550.5 611.9 551.8 613.4 553.4C615 555.1 616.5 557.2 617.6 559.3C618.7 561.4 619.7 564.9 620.1 566C619.6 566.4 617.9 567.8 616.8 568.5C615.7 569.2 614.7 570 613.4 570.2C612.2 570.3 610.4 569.7 609.3 569.3C608.2 568.9 607.6 568.1 606.8 567.6C605.9 567.2 604.7 566.9 604.3 566.8"/>
<path d="M606.8 542.6C607.9 543 611.5 544 613.4 545.1C615.4 546.2 617.3 547.9 618.5 549.3C619.6 550.7 619.7 551.8 620.1 553.4C620.5 555.1 621 557.2 621 559.3C621 561.4 620.3 564.9 620.1 566"/>
<path d="M603.4 545.9C603.8 545.8 605.4 545.6 605.9 545.1C606.5 544.5 606.6 543 606.8 542.6"/>
<path d="M594.2 523.4L598.4 522.5L616.8 517.5"/>
<path d="M603.4 518.4C604.5 518.5 607.9 519.3 610.1 519.2C612.3 519.1 615.7 517.8 616.8 517.5"/>
<path d="M603.4 518.4L605.9 515L609.3 511.7L610.1 510"/>
<path d="M616.8 517.5L612.6 510"/>
<path d="M594.2 523.4L601.7 544.3L603.4 545.9"/>
<path d="M598.4 522.5L606.8 542.6"/>
<path d="M606.8 542.6C608.4 542.3 613.7 541.9 616.8 540.9C619.8 539.9 623.7 537.4 625.1 536.7"/>
<path d="M613 524.2L618 536.3"/>
<path d="M616.8 517.5L625.1 536.7"/>
<path d="M595.1 510L596.7 515L598.4 522.5"/>
<path d="M604.3 566.8L597.6 575.2L593.4 579.3L595.9 588.9"/>
<path d="M597.6 575.2L605.1 588.9"/>
<path d="M615.9 568.5L628.5 575.2L620.1 588.9"/>
<path d="M615.9 571C616.6 571.7 618 574.5 620.1 575.2C622.2 575.9 627.1 575.2 628.5 575.2"/>
<path d="M621 576.8L613.4 586.9"/>
<path d="M616.8 568.5C617.3 568.3 619 568.2 620.1 567.6C621.2 567.1 622.9 565.6 623.5 565.1"/>
<path d="M593.5 578.4L596 595.1"/>
<path d="M596.8 576.7L601 591.8"/>
<path d="M598.5 576.7L601.8 584.3L606.9 586.8"/>
<path d="M606.9 586.8C607.7 587.1 610.1 588.7 611.9 588.9C613.7 589 616.2 588.4 617.7 587.6C619.3 586.8 619.3 586.3 621.1 584.3C622.9 582.2 627.3 577 628.6 575.5"/>
<path d="M621.1 577.2L612.7 586.8"/>
<path d="M601 591.8L606.9 586.8"/>
<path d="M596 595.1L601 591.8"/>
<path d="M596 595.1C597.5 595.7 602.3 597.6 605.2 598.5C608.1 599.4 611.5 600.3 613.5 600.6C615.6 600.8 617 600.2 617.7 600.1"/>
<path d="M615.2 570.1L628.6 575.5L618.6 568.8"/>
<path d="M616 570.9C616.5 571.5 616.5 573.5 618.6 574.2C620.6 575 626.9 575.3 628.6 575.5"/>
<path d="M563.8 571.7C564 572.8 564.2 576.5 565.1 578.4C566 580.4 567.3 581.9 569.3 583.4C571.2 585 574.4 586.4 576.8 587.6C579.2 588.8 582.4 590 583.5 590.5"/>
<path d="M563.8 571.7C564.9 572.3 567.9 574 570.1 575.1C572.3 576.2 575.7 577.9 576.8 578.4L580.1 579.3C580.5 580.2 581.5 583.2 582.2 585.1C582.9 587 584 589.6 584.3 590.5"/>
<path d="M584.3 590.5C585 591.3 586.9 594 588.5 595.1C590 596.2 592.2 597.2 593.5 597.2C594.7 597.2 595.6 595.5 596 595.1"/>
<path d="M804.2 471.2C805 472.3 807.4 475.4 808.6 477.5C809.9 479.6 810.3 481.8 811.7 483.7C813.2 485.6 815.2 487.3 817.4 488.7C819.5 490.2 823.6 491.8 824.8 492.4C829 494.4 841.1 500.1 849.8 504.3C858.5 508.5 865.6 511.4 877 517.4C888.5 523.5 911.7 536.7 918.6 540.6C920 541.9 924.6 545.9 927.3 548.7C930 551.5 932.5 554.1 934.8 557.4C937.1 560.8 939.5 564.9 941.1 568.7C942.6 572.4 943.6 576.4 944.2 579.9C944.8 583.4 945 586.8 944.8 589.9C944.6 593 943.7 596.3 942.9 598.6C942.2 600.9 940.9 602.8 940.4 603.6"/>
<path d="M796.3 481.7C796.2 481.6 796.1 481.1 796 480.8C796 480.4 795.9 480.1 795.9 479.8C795.9 479.5 795.9 479.2 795.9 478.9C796 478.6 796 478.3 796.1 478C796.2 477.7 796.3 477.5 796.4 477.2C796.5 477 796.6 476.8 796.8 476.6C796.9 476.4 797.1 476.2 797.3 476.1C797.5 475.9 797.7 475.8 797.9 475.7C798.1 475.6 798.4 475.6 798.6 475.5C798.8 475.5 799.1 475.5 799.4 475.5C799.6 475.5 799.9 475.6 800.1 475.7C800.4 475.7 800.6 475.8 800.9 476C801.1 476.1 801.4 476.3 801.6 476.5C801.9 476.6 802.1 476.9 802.4 477.1C802.6 477.3 802.8 477.6 803 477.8C803.2 478.1 803.4 478.4 803.6 478.7C803.7 479 803.9 479.3 804 479.6C804.1 479.9 804.2 480.2 804.3 480.5C804.4 480.9 804.5 481.2 804.5 481.5C804.6 481.8 804.6 482.2 804.6 482.5C804.6 482.8 804.6 483.1 804.5 483.4C804.5 483.7 804.4 483.9 804.3 484.2C804.2 484.5 804.1 484.7 804 484.9C803.9 485.2 803.7 485.4 803.6 485.5C803.4 485.7 803.2 485.9 803 486C802.8 486.1 802.5 486.2 802.4 486.3"/>
<path d="M793.6 484.3L799.9 480.6"/>
<path d="M795.9 488.5L796.4 489"/>
<path d="M846.5 576.4C846.6 576.7 846.7 577.1 846.8 577.4C846.9 577.7 847 578 847.1 578.3C847.1 578.6 847.2 579 847.2 579.3C847.2 579.6 847.2 579.9 847.2 580.2C847.2 580.5 847.2 580.7 847.1 581C847 581.3 847 581.5 846.9 581.7C846.8 582 846.6 582.2 846.5 582.4C846.4 582.6 846.2 582.7 846 582.9C845.9 583 845.7 583.1 845.5 583.2C845.3 583.3 845.1 583.4 844.9 583.4C844.6 583.5 844.4 583.5 844.2 583.5C843.9 583.4 843.7 583.4 843.5 583.3C843.2 583.3 843 583.2 842.7 583C842.5 582.9 842.3 582.8 842 582.6C841.8 582.4 841.6 582.2 841.3 582C841.1 581.8 840.9 581.5 840.7 581.3C840.5 581 840.3 580.8 840.1 580.5C840 580.2 839.8 579.9 839.7 579.6C839.5 579.3 839.4 579 839.3 578.7C839.2 578.4 839.1 578 839 577.7C839 577.4 838.9 577.1 838.9 576.8C838.9 576.5 838.9 576.2 838.9 575.9C838.9 575.6 839 575.3 839 575.1C839.1 574.8 839.2 574.5 839.3 574.3C839.4 574.1 839.5 573.9 839.6 573.7C839.8 573.5 839.9 573.3 840.1 573.2C840.2 573 840.4 572.9 840.6 572.8C840.8 572.7 841 572.7 841.3 572.6C841.5 572.6 841.7 572.6 841.9 572.6C842.2 572.6 842.4 572.7 842.7 572.7C842.9 572.8 843.1 572.9 843.4 573C843.6 573.1 843.9 573.3 844.1 573.5C844.3 573.6 844.6 573.8 844.8 574.1C845 574.3 845.2 574.5 845.4 574.8C845.6 575 845.8 575.3 846 575.6C846.2 575.8 846.3 576.1 846.5 576.4Z"/>
<path d="M843.3 574.2C843.4 574.3 843.7 574.4 843.9 574.5C844.1 574.6 844.2 574.7 844.4 574.9C844.6 575 844.8 575.2 845 575.4C845.1 575.6 845.3 575.8 845.5 576C845.6 576.2 845.8 576.4 845.9 576.6C846.1 576.9 846.2 577.1 846.3 577.4C846.4 577.6 846.5 577.9 846.6 578.1C846.7 578.4 846.8 578.6 846.8 578.9C846.9 579.2 846.9 579.4 847 579.7C847 579.9 847 580.2 847 580.4C847 580.6 847 580.9 846.9 581.1C846.9 581.3 846.9 581.5 846.8 581.7C846.7 581.9 846.6 582 846.5 582.2C846.4 582.3 846.3 582.5 846.2 582.6C846.1 582.7 846 582.8 845.8 582.8C845.7 582.9 845.5 582.9 845.3 583C845.2 583 845 583 844.8 583C844.7 582.9 844.4 582.9 844.3 582.8"/>
<path d="M918.9 570.8C919 571.1 919.1 571.4 919.2 571.8C919.3 572.1 919.4 572.4 919.5 572.7C919.6 573 919.6 573.3 919.6 573.6C919.6 573.9 919.6 574.3 919.6 574.5C919.6 574.8 919.6 575.1 919.5 575.4C919.4 575.6 919.4 575.9 919.3 576.1C919.2 576.4 919 576.6 918.9 576.8C918.8 576.9 918.6 577.1 918.4 577.3C918.3 577.4 918.1 577.5 917.9 577.6C917.7 577.7 917.5 577.8 917.3 577.8C917.1 577.8 916.8 577.9 916.6 577.8C916.4 577.8 916.1 577.8 915.9 577.7C915.6 577.6 915.4 577.5 915.1 577.4C914.9 577.3 914.7 577.1 914.4 577C914.2 576.8 914 576.6 913.7 576.4C913.5 576.2 913.3 575.9 913.1 575.7C912.9 575.4 912.7 575.2 912.5 574.9C912.4 574.6 912.2 574.3 912.1 574C911.9 573.7 911.8 573.4 911.7 573.1C911.6 572.8 911.5 572.4 911.4 572.1C911.4 571.8 911.3 571.5 911.3 571.2C911.3 570.9 911.3 570.6 911.3 570.3C911.3 570 911.4 569.7 911.4 569.4C911.5 569.2 911.6 568.9 911.7 568.7C911.8 568.5 911.9 568.2 912 568.1C912.2 567.9 912.3 567.7 912.5 567.6C912.7 567.4 912.8 567.3 913 567.2C913.2 567.1 913.4 567 913.7 567C913.9 567 914.1 567 914.3 567C914.6 567 914.8 567 915.1 567.1C915.3 567.2 915.6 567.3 915.8 567.4C916 567.5 916.3 567.7 916.5 567.9C916.7 568 917 568.2 917.2 568.4C917.4 568.7 917.6 568.9 917.8 569.1C918 569.4 918.2 569.7 918.4 569.9C918.6 570.2 918.7 570.5 918.9 570.8Z"/>
<path d="M915.7 568.6C915.8 568.6 916.1 568.8 916.3 568.9C916.5 569 916.7 569.1 916.8 569.3C917 569.4 917.2 569.6 917.4 569.8C917.5 569.9 917.7 570.1 917.9 570.3C918 570.6 918.2 570.8 918.3 571C918.5 571.3 918.6 571.5 918.7 571.7C918.8 572 918.9 572.3 919 572.5C919.1 572.8 919.2 573 919.2 573.3C919.3 573.5 919.3 573.8 919.4 574.1C919.4 574.3 919.4 574.5 919.4 574.8C919.4 575 919.4 575.2 919.4 575.5C919.3 575.7 919.3 575.9 919.2 576.1C919.1 576.2 919 576.4 919 576.6C918.9 576.7 918.7 576.8 918.6 576.9C918.5 577.1 918.4 577.1 918.2 577.2C918.1 577.3 917.9 577.3 917.8 577.3C917.6 577.4 917.4 577.4 917.2 577.3C917.1 577.3 916.8 577.2 916.7 577.2"/>
<path d="M938.2 582.1C938.4 582.4 938.5 582.7 938.6 583C938.7 583.3 938.8 583.6 938.8 583.9C938.9 584.3 938.9 584.6 939 584.9C939 585.2 939 585.5 939 585.8C939 586.1 938.9 586.4 938.9 586.6C938.8 586.9 938.7 587.1 938.6 587.4C938.5 587.6 938.4 587.8 938.3 588C938.1 588.2 938 588.4 937.8 588.5C937.6 588.6 937.4 588.8 937.2 588.9C937 588.9 936.8 589 936.6 589C936.4 589.1 936.2 589.1 935.9 589.1C935.7 589.1 935.5 589 935.2 588.9C935 588.9 934.7 588.8 934.5 588.6C934.3 588.5 934 588.4 933.8 588.2C933.5 588 933.3 587.8 933.1 587.6C932.9 587.4 932.7 587.2 932.5 586.9C932.3 586.7 932.1 586.4 931.9 586.1C931.7 585.8 931.6 585.5 931.4 585.2C931.3 584.9 931.2 584.6 931.1 584.3C931 584 930.9 583.7 930.8 583.4C930.7 583 930.7 582.7 930.7 582.4C930.6 582.1 930.6 581.8 930.7 581.5C930.7 581.2 930.7 580.9 930.8 580.7C930.8 580.4 930.9 580.2 931 579.9C931.1 579.7 931.2 579.5 931.4 579.3C931.5 579.1 931.7 578.9 931.8 578.8C932 578.7 932.2 578.5 932.4 578.4C932.6 578.3 932.8 578.3 933 578.2C933.2 578.2 933.5 578.2 933.7 578.2C933.9 578.2 934.2 578.3 934.4 578.3C934.7 578.4 934.9 578.5 935.1 578.6C935.4 578.8 935.6 578.9 935.9 579.1C936.1 579.3 936.3 579.5 936.5 579.7C936.8 579.9 937 580.1 937.2 580.4C937.4 580.6 937.6 580.9 937.7 581.2C937.9 581.5 938.1 581.8 938.2 582.1Z"/>
<path d="M935.1 579.8C935.2 579.9 935.4 580 935.6 580.1C935.8 580.2 936 580.3 936.2 580.5C936.4 580.6 936.5 580.8 936.7 581C936.9 581.2 937.1 581.4 937.2 581.6C937.4 581.8 937.5 582 937.7 582.3C937.8 582.5 937.9 582.7 938.1 583C938.2 583.2 938.3 583.5 938.4 583.7C938.5 584 938.5 584.3 938.6 584.5C938.7 584.8 938.7 585 938.7 585.3C938.8 585.5 938.8 585.8 938.8 586C938.8 586.3 938.7 586.5 938.7 586.7C938.7 586.9 938.6 587.1 938.5 587.3C938.5 587.5 938.4 587.6 938.3 587.8C938.2 587.9 938.1 588.1 938 588.2C937.9 588.3 937.7 588.4 937.6 588.4C937.4 588.5 937.3 588.6 937.1 588.6C936.9 588.6 936.8 588.6 936.6 588.6C936.4 588.6 936.1 588.5 936.1 588.4"/>
<path d="M921.7 593.9C921.9 594.2 922 594.5 922.1 594.9C922.2 595.2 922.3 595.5 922.4 595.8C922.4 596.1 922.5 596.4 922.5 596.7C922.5 597 922.5 597.3 922.5 597.6C922.5 597.9 922.4 598.2 922.4 598.5C922.3 598.7 922.2 599 922.1 599.2C922 599.5 921.9 599.7 921.8 599.9C921.6 600 921.5 600.2 921.3 600.4C921.2 600.5 921 600.6 920.8 600.7C920.6 600.8 920.4 600.9 920.1 600.9C919.9 600.9 919.7 601 919.5 600.9C919.2 600.9 919 600.9 918.7 600.8C918.5 600.7 918.3 600.6 918 600.5C917.8 600.4 917.5 600.2 917.3 600.1C917.1 599.9 916.8 599.7 916.6 599.5C916.4 599.3 916.2 599 916 598.8C915.8 598.5 915.6 598.2 915.4 598C915.2 597.7 915.1 597.4 914.9 597.1C914.8 596.8 914.7 596.5 914.6 596.2C914.5 595.8 914.4 595.5 914.3 595.2C914.3 594.9 914.2 594.6 914.2 594.3C914.2 594 914.2 593.7 914.2 593.4C914.2 593.1 914.2 592.8 914.3 592.5C914.4 592.3 914.4 592 914.5 591.8C914.6 591.6 914.8 591.3 914.9 591.2C915 591 915.2 590.8 915.4 590.7C915.5 590.5 915.7 590.4 915.9 590.3C916.1 590.2 916.3 590.1 916.5 590.1C916.8 590.1 917 590.1 917.2 590.1C917.5 590.1 917.7 590.1 917.9 590.2C918.2 590.3 918.4 590.4 918.7 590.5C918.9 590.6 919.1 590.8 919.4 590.9C919.6 591.1 919.8 591.3 920.1 591.5C920.3 591.7 920.5 592 920.7 592.2C920.9 592.5 921.1 592.8 921.3 593C921.4 593.3 921.6 593.6 921.7 593.9Z"/>
<path d="M918.6 591.7C918.7 591.7 919 591.9 919.2 592C919.3 592.1 919.5 592.2 919.7 592.4C919.9 592.5 920.1 592.7 920.2 592.8C920.4 593 920.6 593.2 920.7 593.4C920.9 593.7 921.1 593.9 921.2 594.1C921.3 594.3 921.5 594.6 921.6 594.8C921.7 595.1 921.8 595.4 921.9 595.6C922 595.9 922.1 596.1 922.1 596.4C922.2 596.6 922.2 596.9 922.2 597.1C922.3 597.4 922.3 597.6 922.3 597.9C922.3 598.1 922.3 598.3 922.2 598.6C922.2 598.8 922.1 599 922.1 599.1C922 599.3 921.9 599.5 921.8 599.6C921.7 599.8 921.6 599.9 921.5 600C921.4 600.1 921.2 600.2 921.1 600.3C920.9 600.4 920.8 600.4 920.6 600.4C920.5 600.5 920.3 600.5 920.1 600.4C919.9 600.4 919.7 600.3 919.6 600.3"/>
<path d="M864.5 538.7L869.9 537.2L878.9 546.4L878.9 555.6L871.8 555.8L864.5 547.2Z"/>
<path d="M864.5 547.2L869.9 545.2L878.9 555.6"/>
<path d="M869.9 537.2L869.9 545.2"/>
<path d="M719.8 518.6L724.9 518.2"/>
<path d="M724.9 518.6L725.1 522"/>
<path d="M730.4 526.2L728.7 528.8L727 533"/>
<path d="M738.9 512.7C739.3 513.3 741 515 741.4 516.1C741.9 517.2 741.4 518.9 741.4 519.5"/>
<path d="M741.9 510.2C742.3 510.7 744.3 512.4 744.8 513.5C745.4 514.7 745.2 516.4 745.2 516.9"/>
<path d="M746.1 508C746.4 508.5 747.4 509.9 747.8 511C748.1 512.1 748.1 514.2 748.2 514.8"/>
<path d="M747.8 508C748.1 508.6 749.4 510.3 749.7 511.4C750 512.6 749.7 514.2 749.7 514.8"/>
<path d="M377 455.1L382.1 454.7"/>
<path d="M382.1 455.1L382.3 458.5"/>
<path d="M387.6 462.7L385.9 465.3L384.2 469.5"/>
<path d="M396.1 449.2C396.5 449.8 398.2 451.5 398.6 452.6C399.1 453.7 398.6 455.4 398.6 456"/>
<path d="M399.1 446.7C399.5 447.2 401.5 448.9 402 450C402.6 451.2 402.4 452.9 402.4 453.4"/>
<path d="M403.3 444.5C403.6 445 404.6 446.4 405 447.5C405.3 448.6 405.3 450.7 405.4 451.3"/>
<path d="M405 444.5C405.3 445.1 406.6 446.8 406.9 447.9C407.2 449.1 406.9 450.7 406.9 451.3"/>
<path d="M753.8 642.3C753.9 641.7 754.1 639.9 754.6 638.9C755.1 637.9 755.5 637.2 756.7 636.4C757.9 635.7 759.9 634.4 761.7 634.3C763.5 634.3 765.8 635.1 767.6 636C769.4 636.9 770.9 638.3 772.6 639.8C774.3 641.2 776.1 643.1 777.6 644.8C779.1 646.4 780.5 648 781.8 649.8C783 651.6 784.2 653.7 785.1 655.6C786 657.6 786.8 659.4 787.2 661.5C787.6 663.6 787.7 666.1 787.6 668.2C787.6 670.3 787.4 672.5 786.8 674C786.2 675.5 785.4 676.4 784.3 677.4C783.2 678.3 780.8 679.1 780.1 679.4"/>
<path d="M756.7 635.2C757.7 634.7 760.5 632.8 762.6 632.7C764.7 632.5 767.3 633.4 769.3 634.3C771.2 635.2 772.6 636.6 774.3 638.1C775.9 639.5 777.7 641.4 779.3 643.1C780.8 644.8 782.2 646.6 783.5 648.5C784.7 650.5 786 652.6 786.8 654.8C787.6 657 788 659.3 788.5 661.5C788.9 663.7 789.3 666.1 789.3 668.2C789.3 670.3 789 672.3 788.5 674C787.9 675.7 786.4 677.5 786 678.2"/>
<path d="M767.6 630.6C768.3 630.2 770.2 628.6 771.8 628.1C773.3 627.5 775.4 627.1 776.8 627.2C778.2 627.4 779.1 627.9 780.1 628.9C781.1 629.9 781.8 631.3 782.6 633.1C783.5 634.9 784.5 637.9 785.1 639.8C785.8 641.6 786.2 643.6 786.4 644.4"/>
<path d="M768.4 631C769.4 631.3 772.3 631.5 774.3 632.7C776.2 633.8 778.1 636.1 780.1 638.1C782.1 640 785.3 643.3 786.4 644.4"/>
<path d="M778.4 618L781.8 622.2L793.5 639.3L786.4 644.4"/>
<path d="M783.5 621L790.1 617.2L793.5 618.9L794.7 623.5L787.2 628.1"/>
<path d="M784.3 622.6L791.8 618.5"/>
<path d="M785.1 623.9L792.6 620.1"/>
<path d="M766.7 628.1L771.8 624.7L778.4 622.2"/>
<path d="M790.1 665.2L789.7 669.8L790.6 674.8L790.1 681.9"/>
<path d="M791.8 665.2L791.4 674.8L791.8 681.9"/>
<path d="M760.1 672.5C760.3 675.3 760.7 684.5 761.3 689.2C761.9 694 763.1 698.4 763.8 700.9C764.6 703.4 765.6 703.7 765.9 704.3"/>
<path d="M758 681.7C758 683.7 758 689.8 758.4 693.4C758.7 697 759.2 700.4 760.1 703.4C761 706.5 762.2 709 763.8 711.8C765.5 714.6 767.7 717.6 770.1 720.2C772.5 722.7 775.9 725.6 778.4 726.8C780.9 728.1 783.2 727.8 785.1 727.7C787.1 727.5 788.9 727 790.1 726C791.4 725 792.1 723.8 792.6 721.8C793.2 719.9 793.5 717.4 793.5 714.3C793.5 711.2 792.9 705.8 792.6 703.4C792.4 701.1 791.9 700.7 791.8 700.1"/>
<path d="M760.9 707.6C761.6 708.7 763.3 711.9 765.1 714.3C766.9 716.7 769.5 719.8 771.8 721.8C774 723.8 777.3 725.7 778.4 726.4"/>
<path d="M789.3 665C789.2 667 789 672 788.5 676.7C787.9 681.4 786.7 689 786 693.4C785.3 697.9 784.7 700.8 784.3 703.4C783.9 706.1 783.6 708.3 783.5 709.3"/>
<path d="M791 665C790.8 667.7 790.7 675.5 790.1 680.9C789.6 686.3 788.1 693.6 787.6 697.6C787.1 701.6 787.3 703.9 787.2 705.1C787.7 705.4 789.4 706.8 790.1 706.8C790.9 706.8 791.4 706.2 791.8 705.1C792.2 704 792.4 703.4 792.6 700.1C792.9 696.8 793.1 689.9 793.5 685.1C793.9 680.2 794.9 673.2 795.2 670.9"/>
<path d="M787.6 676.7C787.2 679.5 785.9 689 785.1 693.4C784.4 697.9 783.5 700.7 783 703.4C782.6 706.2 782.6 707.9 782.6 710.1C782.6 712.4 783 715.7 783 716.8"/>
<path d="M792.2 672.5C792.1 674.6 791.9 680.9 791.4 685.1C790.9 689.2 789.8 694.3 789.3 697.6C788.8 700.9 788.6 703.9 788.5 705.1"/>
<path d="M785.1 672.5C784.6 673.2 783.2 675.7 781.8 676.7C780.4 677.8 777.6 678.4 776.8 678.8"/>
<path d="M764.7 708.5C764.9 707.6 764.9 704.8 765.9 703.4C767 702.1 769.3 700.9 770.9 700.5C772.6 700.2 774.5 700.6 775.9 701.4C777.3 702.1 778.4 703.7 779.3 705.1C780.2 706.6 781.1 708.7 781.4 710.1C781.6 711.5 781 712.9 780.9 713.5"/>
<path d="M775.1 718.5C775.4 717.8 775.8 715.3 776.8 714.3C777.7 713.3 779.8 712.8 780.9 712.6C782.1 712.5 783.1 712.5 783.5 713.5C783.8 714.4 783.6 717.6 783 718.5C782.5 719.3 780.6 718.5 780.1 718.5"/>
<path d="M775.1 718.5C774.5 718.3 772.9 718.3 771.8 717.6C770.6 716.9 769 714.9 768.4 714.3"/>
<path d="M783.5 717.6C784.2 717.2 786.5 716.4 787.6 715.1C788.7 713.9 789.7 711.5 790.1 710.1C790.6 708.7 790.5 707.3 790.6 706.8"/>
<path d="M793.5 700.1C793.9 701.2 795.3 704.4 796 706.8C796.7 709.2 797.3 712.1 797.7 714.3C798 716.5 798.2 718.2 798.1 720.2C797.9 722.1 797.6 724.5 796.8 726C796.1 727.5 794.6 728.4 793.5 729.3C792.4 730.2 790.7 731.1 790.1 731.4"/>
<path d="M792.6 701.8C793.1 703.2 794.5 707.3 795.2 710.1C795.8 712.9 796.3 716 796.4 718.5C796.5 721 796.2 723.5 795.6 725.2C794.9 726.8 793.6 727.6 792.6 728.5C791.7 729.4 790.2 730.2 789.7 730.6"/>
<path d="M997.4 676.1C998.4 675.6 1001.1 673.7 1003.6 673C1006.1 672.2 1009.2 671.5 1012.4 671.7C1015.5 671.9 1019 672.9 1022.3 674.2C1025.7 675.6 1029.2 677.5 1032.3 679.8C1035.4 682.1 1038.4 684.9 1041.1 688C1043.8 691 1046.3 694.2 1048.6 697.9C1050.8 701.7 1052.9 706.1 1054.8 710.4C1056.7 714.8 1058.4 719.6 1059.8 724.2C1061.1 728.7 1062.2 733.9 1062.9 737.9C1063.6 741.8 1063.6 746.2 1063.8 747.9"/>
<path d="M973 664.2C974.2 663.6 977.5 661.5 979.9 660.5C982.3 659.4 985.1 658 987.4 658C989.7 658 992 659 993.6 660.5C995.3 661.9 996.6 664.6 997.4 666.7C998.1 668.8 998 671.4 998 673C998 674.5 998.7 674.8 997.4 676.1C996 677.3 991.1 679.7 989.9 680.5"/>
<path d="M986.6 671.5C986.8 672.1 987 672.6 987.2 673.2C987.3 673.8 987.4 674.3 987.5 674.9C987.6 675.5 987.6 676.1 987.6 676.6C987.6 677.2 987.6 677.7 987.5 678.2C987.4 678.8 987.3 679.3 987.1 679.7C987 680.2 986.8 680.7 986.6 681.1C986.3 681.5 986.1 681.9 985.8 682.2C985.5 682.5 985.2 682.8 984.8 683.1C984.5 683.3 984.1 683.6 983.7 683.7C983.3 683.9 982.9 684 982.5 684C982.1 684.1 981.6 684.1 981.2 684.1C980.8 684 980.3 683.9 979.9 683.8C979.4 683.7 979 683.5 978.5 683.2C978.1 683 977.6 682.7 977.2 682.4C976.8 682.1 976.4 681.7 976 681.3C975.6 680.9 975.2 680.5 974.9 680C974.6 679.5 974.2 679.1 973.9 678.5C973.7 678 973.4 677.5 973.2 676.9C973 676.4 972.8 675.8 972.6 675.2C972.5 674.7 972.3 674.1 972.3 673.5C972.2 672.9 972.2 672.4 972.2 671.8C972.2 671.3 972.2 670.7 972.3 670.2C972.4 669.7 972.5 669.2 972.6 668.7C972.8 668.2 973 667.8 973.2 667.4C973.4 666.9 973.7 666.6 974 666.2C974.3 665.9 974.6 665.6 975 665.3C975.3 665.1 975.7 664.9 976.1 664.7C976.4 664.6 976.9 664.5 977.3 664.4C977.7 664.3 978.1 664.3 978.6 664.4C979 664.4 979.5 664.5 979.9 664.6C980.4 664.8 980.8 665 981.3 665.2C981.7 665.4 982.2 665.7 982.6 666C983 666.4 983.4 666.7 983.8 667.1C984.2 667.5 984.5 668 984.9 668.4C985.2 668.9 985.6 669.4 985.8 669.9C986.1 670.4 986.4 671 986.6 671.5Z"/>
<path d="M984.4 672.9C984.6 673.3 984.7 673.7 984.8 674.1C984.9 674.4 985 674.8 985.1 675.2C985.1 675.6 985.2 676 985.2 676.4C985.2 676.7 985.2 677.1 985.1 677.5C985.1 677.8 985 678.2 985 678.5C984.9 678.8 984.8 679.1 984.6 679.4C984.5 679.6 984.3 679.9 984.2 680.1C984 680.3 983.8 680.5 983.6 680.7C983.4 680.8 983.1 681 982.9 681.1C982.6 681.2 982.4 681.2 982.1 681.3C981.9 681.3 981.6 681.3 981.3 681.3C981 681.2 980.7 681.2 980.5 681C980.2 680.9 979.9 680.8 979.6 680.6C979.3 680.5 979 680.3 978.8 680C978.5 679.8 978.2 679.6 978 679.3C977.7 679 977.5 678.7 977.2 678.4C977 678.1 976.8 677.7 976.6 677.4C976.4 677 976.3 676.7 976.1 676.3C975.9 675.9 975.8 675.5 975.7 675.1C975.6 674.7 975.5 674.3 975.5 674C975.4 673.6 975.4 673.2 975.4 672.8C975.3 672.4 975.4 672.1 975.4 671.7C975.4 671.4 975.5 671 975.6 670.7C975.7 670.4 975.8 670.1 975.9 669.8C976 669.5 976.2 669.3 976.4 669.1C976.6 668.9 976.8 668.7 977 668.5C977.2 668.3 977.4 668.2 977.6 668.1C977.9 668 978.1 667.9 978.4 667.9C978.7 667.9 979 667.9 979.2 667.9C979.5 668 979.8 668 980.1 668.1C980.4 668.2 980.7 668.4 980.9 668.5C981.2 668.7 981.5 668.9 981.8 669.1C982 669.4 982.3 669.6 982.6 669.9C982.8 670.2 983.1 670.5 983.3 670.8C983.5 671.1 983.7 671.5 983.9 671.8C984.1 672.2 984.3 672.5 984.4 672.9Z"/>
<path d="M944.9 684.2C946 683.6 948.9 681.6 951.2 680.5C953.5 679.3 956.6 677.5 958.7 677.3C960.8 677.1 962.1 678 963.7 679.2C965.2 680.5 967 683.2 968 684.8C969.1 686.5 969.6 688.5 969.9 689.2"/>
<path d="M954.5 700C954.3 700 953.7 700.2 953.3 700.2C952.9 700.2 952.5 700.2 952.1 700.1C951.7 700.1 951.2 700 950.8 699.8C950.4 699.7 950 699.5 949.6 699.2C949.2 699 948.8 698.7 948.5 698.4C948.1 698.2 947.7 697.8 947.4 697.5C947.1 697.1 946.8 696.7 946.5 696.3C946.2 695.9 946 695.4 945.7 695C945.5 694.5 945.3 694 945.2 693.6C945 693.1 944.9 692.6 944.8 692.1C944.7 691.6 944.7 691.1 944.7 690.6C944.6 690.1 944.7 689.6 944.7 689.2C944.8 688.7 944.9 688.2 945 687.8C945.1 687.3 945.3 686.9 945.5 686.5C945.7 686.1 945.9 685.8 946.1 685.4C946.4 685.1 946.7 684.8 947 684.5C947.3 684.3 947.6 684 948 683.8C948.3 683.7 948.7 683.5 949.1 683.4C949.5 683.3 949.9 683.2 950.3 683.2C950.7 683.2 951.1 683.2 951.5 683.3C951.9 683.3 952.4 683.4 952.8 683.6C953.2 683.7 953.6 683.9 954 684.1C954.4 684.4 954.8 684.6 955.1 684.9C955.5 685.2 955.9 685.6 956.2 685.9C956.5 686.3 956.8 686.7 957.1 687.1C957.4 687.5 957.6 688 957.9 688.4C958.1 688.9 958.3 689.4 958.4 689.8C958.6 690.3 958.7 690.8 958.8 691.3C958.9 691.8 958.9 692.5 959 692.8"/>
<path d="M956.2 690.9C956.3 691.2 956.4 691.5 956.5 691.9C956.6 692.2 956.6 692.5 956.7 692.8C956.7 693.1 956.8 693.5 956.8 693.8C956.8 694.1 956.8 694.4 956.7 694.7C956.7 695 956.6 695.2 956.6 695.5C956.5 695.8 956.4 696 956.3 696.2C956.2 696.5 956 696.7 955.9 696.8C955.7 697 955.6 697.2 955.4 697.3C955.2 697.5 955 697.6 954.8 697.6C954.6 697.7 954.4 697.8 954.2 697.8C954 697.8 953.7 697.8 953.5 697.8C953.3 697.8 953 697.7 952.8 697.6C952.6 697.5 952.3 697.4 952.1 697.3C951.9 697.2 951.6 697 951.4 696.8C951.2 696.6 951 696.4 950.7 696.2C950.5 696 950.3 695.7 950.2 695.5C950 695.2 949.8 694.9 949.6 694.6C949.5 694.3 949.3 694 949.2 693.7C949.1 693.4 949 693.1 948.9 692.8C948.8 692.5 948.7 692.1 948.7 691.8C948.6 691.5 948.6 691.2 948.6 690.9C948.6 690.6 948.6 690.3 948.6 690C948.7 689.7 948.7 689.4 948.8 689.1C948.9 688.9 949 688.6 949.1 688.4C949.2 688.2 949.3 688 949.5 687.8C949.6 687.6 949.8 687.5 950 687.3C950.1 687.2 950.3 687.1 950.5 687C950.7 686.9 950.9 686.9 951.2 686.8C951.4 686.8 951.6 686.8 951.8 686.8C952.1 686.9 952.3 686.9 952.6 687C952.8 687.1 953 687.2 953.3 687.3C953.5 687.5 953.7 687.6 954 687.8C954.2 688 954.4 688.2 954.6 688.4C954.8 688.7 955 688.9 955.2 689.2C955.4 689.4 955.6 689.7 955.7 690C955.9 690.3 956 690.6 956.2 690.9Z"/>
<path d="M961.2 693.6L969.9 692.9"/>
<path d="M968.7 692.3C969.5 691.4 971.8 688.2 973.7 686.7C975.5 685.2 978.9 684.1 979.9 683.6"/>
<path d="M988 681.1C989.8 681.1 995.4 680.4 998.6 681.1C1001.8 681.8 1004.2 683.3 1007.4 685.5C1010.5 687.6 1014.2 690.9 1017.3 694.2C1020.5 697.5 1023.6 701.5 1026.1 705.4C1028.6 709.4 1030.5 713.8 1032.3 717.9C1034.2 722.1 1036 726.2 1037.3 730.4C1038.7 734.6 1039.9 740.8 1040.4 742.9"/>
<path d="M989.9 679.8C991.1 679.7 994.7 678.8 997.4 679.2C1000.1 679.6 1003.2 680.8 1006.1 682.3C1009 683.9 1011.9 686 1014.9 688.6C1017.8 691.2 1020.9 694.5 1023.6 697.9C1026.3 701.4 1028.8 705.2 1031.1 709.2C1033.4 713.1 1035.4 717.3 1037.3 721.7C1039.2 726 1041.1 731.2 1042.3 735.4C1043.6 739.6 1044.4 744.8 1044.8 746.6"/>
<path d="M1003.6 694.2C1004.9 695 1008.4 696.9 1011.1 699.2C1013.8 701.5 1017.3 704.6 1019.8 707.9C1022.3 711.3 1024.2 715.4 1026.1 719.2C1028 722.9 1029.6 726.9 1031.1 730.4C1032.5 733.9 1034.2 738.7 1034.8 740.4"/>
<path d="M1003.6 701.7C1005.1 703.1 1009.6 707.3 1012.4 710.4C1015.1 713.5 1017.8 717.1 1019.8 720.4C1021.9 723.7 1023.3 727.4 1024.8 730.4C1026.4 733.4 1028.5 737.2 1029.2 738.5"/>
<path d="M971.8 694.2C972.9 693.3 975.9 689.7 978.6 688.6C981.4 687.5 986.4 687.8 988 687.7L982.4 697.9"/>
<path d="M972.4 693.6C973.2 693.2 975.7 691.7 977.4 691.1C979.1 690.4 980.8 690.1 982.4 689.8C984 689.5 986 689.3 986.8 689.2"/>
<path d="M988 699.2C988.9 697.7 991.9 692.1 993.6 690.4C995.4 688.8 997 688.7 998.6 689.2C1000.3 689.7 1002.8 692.8 1003.6 693.6C1003.6 695 1005.1 700.1 1003.6 702.3C1002.2 704.5 996.3 705.9 994.9 706.7"/>
<path d="M1003.6 702.3C1004.2 703.7 1006.1 707.8 1007.4 710.4C1008.6 713 1010.5 716.7 1011.1 717.9"/>
<path d="M982.4 697.9L988 699.2"/>
<path d="M940.6 710.4C941.3 709.4 943.2 706.1 944.9 704.2C946.7 702.3 950.1 700 951.2 699.2"/>
<path d="M940.6 710.6C937.9 710.1 934.2 710.1 931.2 710.6C928.2 711.1 925.2 712.2 922.5 713.7C919.8 715.3 917.1 717.5 915 720C912.9 722.5 911.2 725.4 910 728.7C908.7 732 907.7 736 907.5 740C907.3 743.9 907.9 748.3 908.7 752.4C909.6 756.6 910.8 760.8 912.5 764.9C914.1 769.1 916.2 773.2 918.7 777.4C921.2 781.6 924.3 785.9 927.5 789.9C930.6 793.8 934.1 797.9 937.4 801.1C940.8 804.3 944.1 807.1 947.4 809.2C950.8 811.4 954.1 813.3 957.4 814.2C960.8 815.2 964.3 815.4 967.4 814.9C970.5 814.3 973.7 812.8 976.1 811.1C978.6 809.4 980.5 807.6 982.4 804.9C984.3 802.2 986.2 798.2 987.4 794.9C988.5 791.6 989 788.4 989.3 784.9C989.5 781.4 989.2 777.4 988.6 773.7C988.1 769.9 987.4 766.4 986.1 762.4C984.9 758.5 983 753.9 981.1 749.9C979.3 746 977.4 742.4 974.9 738.7C972.4 735 969.3 730.8 966.2 727.5C963 724.1 959.3 721 956.2 718.7C953.1 716.4 950 715.1 947.4 713.7C944.8 712.4 943.3 711.1 940.6 710.6Z"/>
<path d="M936.2 718.7C933.1 718.5 929.1 718.5 926.2 719.4C923.3 720.2 920.7 721.7 918.7 723.7C916.7 725.7 915.4 728.3 914.4 731.2C913.3 734.1 912.6 737.5 912.5 741.2C912.4 744.9 912.9 749.7 913.7 753.7C914.6 757.6 915.8 761 917.5 764.9C919.1 768.9 921.2 773.4 923.7 777.4C926.2 781.4 929.3 785.1 932.5 788.6C935.6 792.2 939.1 795.7 942.4 798.6C945.8 801.5 949.1 804.1 952.4 806.1C955.8 808.1 959.3 809.9 962.4 810.5C965.5 811.1 968.7 810.6 971.2 809.9C973.7 809.1 975.5 808 977.4 806.1C979.3 804.2 981.1 801.3 982.4 798.6C983.6 795.9 984.5 793 984.9 789.9C985.3 786.8 985.2 783.4 984.9 779.9C984.6 776.4 984.1 772.6 983 768.7C982 764.7 980.4 760.1 978.6 756.2C976.9 752.2 974.9 748.7 972.4 744.9C969.9 741.2 966.8 737 963.7 733.7C960.5 730.4 956.8 727.2 953.7 725C950.6 722.8 947.9 721.6 944.9 720.6C942 719.6 939.3 718.9 936.2 718.7Z"/>
<path d="M931.2 724.3C932.5 724.6 936.4 725 938.7 725.6C941 726.2 943.1 727.2 944.9 728.1C946.8 729 949.1 730.7 949.9 731.2"/>
<path d="M954.9 736.2C956 737.2 959.1 740 961.2 742.4C963.2 744.9 965.5 748.1 967.4 751.2C969.3 754.3 970.9 757.6 972.4 761.2C973.9 764.7 975.2 768.7 976.1 772.4C977.1 776.2 977.8 780.3 978 783.6C978.2 787 977.8 789.9 977.4 792.4C977 794.9 975.8 797.6 975.5 798.6"/>
<path d="M923.7 725C923.9 727.5 925.7 733.7 925 740C924.2 746.2 920.3 758.7 919.3 762.4"/>
<path d="M937.4 789.9C939.5 790.3 946 790.9 949.9 792.4C953.9 793.8 957.6 796.5 961.2 798.6C964.7 800.7 969.5 803.8 971.2 804.9"/>
<path d="M936.4 772.6C936.7 773.3 937 774 937.3 774.7C937.5 775.5 937.7 776.2 937.9 777C938 777.7 938.2 778.4 938.2 779.2C938.3 779.9 938.3 780.6 938.3 781.3C938.2 781.9 938.1 782.6 938 783.2C937.9 783.8 937.7 784.4 937.5 784.9C937.3 785.5 937 786 936.7 786.4C936.4 786.8 936 787.2 935.7 787.6C935.3 787.9 934.9 788.2 934.4 788.4C934 788.6 933.5 788.7 933 788.8C932.5 788.9 932 788.9 931.4 788.9C930.9 788.8 930.3 788.7 929.8 788.5C929.2 788.4 928.7 788.1 928.1 787.8C927.6 787.5 927 787.2 926.5 786.8C925.9 786.3 925.4 785.9 924.9 785.4C924.4 784.9 923.9 784.3 923.4 783.7C923 783.1 922.5 782.5 922.1 781.8C921.7 781.1 921.3 780.4 921 779.7C920.7 779 920.4 778.3 920.1 777.6C919.9 776.8 919.7 776.1 919.5 775.3C919.4 774.6 919.3 773.9 919.2 773.2C919.1 772.4 919.1 771.7 919.2 771C919.2 770.4 919.3 769.7 919.4 769.1C919.5 768.5 919.7 767.9 919.9 767.4C920.1 766.8 920.4 766.3 920.7 765.9C921 765.5 921.4 765.1 921.8 764.7C922.1 764.4 922.6 764.1 923 763.9C923.5 763.7 923.9 763.6 924.4 763.5C924.9 763.4 925.5 763.4 926 763.4C926.5 763.5 927.1 763.6 927.6 763.8C928.2 764 928.7 764.2 929.3 764.5C929.8 764.8 930.4 765.1 930.9 765.6C931.5 766 932 766.4 932.5 766.9C933 767.4 933.5 768 934 768.6C934.5 769.2 934.9 769.8 935.3 770.5C935.7 771.2 936.1 771.9 936.4 772.6Z"/>
<path d="M935.6 773.5C935.8 774.1 936.1 774.7 936.3 775.4C936.5 776 936.7 776.6 936.8 777.2C937 777.9 937.1 778.5 937.1 779.1C937.2 779.7 937.2 780.3 937.2 780.9C937.2 781.4 937.1 782 937.1 782.5C937 783 936.8 783.5 936.6 784C936.5 784.4 936.3 784.8 936 785.2C935.8 785.6 935.5 785.9 935.2 786.2C934.9 786.4 934.5 786.6 934.2 786.8C933.8 787 933.4 787.1 933 787.2C932.6 787.2 932.2 787.2 931.8 787.2C931.3 787.1 930.9 787 930.4 786.9C930 786.7 929.5 786.5 929.1 786.2C928.6 786 928.1 785.7 927.7 785.3C927.2 785 926.8 784.6 926.4 784.1C925.9 783.7 925.5 783.2 925.1 782.7C924.8 782.2 924.4 781.6 924 781.1C923.7 780.5 923.4 779.9 923.1 779.3C922.8 778.7 922.6 778.1 922.4 777.5C922.1 776.8 922 776.2 921.8 775.6C921.7 774.9 921.6 774.3 921.5 773.7C921.5 773.1 921.4 772.5 921.4 771.9C921.5 771.4 921.5 770.8 921.6 770.3C921.7 769.8 921.8 769.3 922 768.8C922.2 768.4 922.4 768 922.6 767.6C922.9 767.3 923.2 766.9 923.5 766.7C923.8 766.4 924.1 766.2 924.5 766C924.8 765.8 925.2 765.7 925.6 765.6C926 765.6 926.5 765.6 926.9 765.6C927.3 765.7 927.8 765.8 928.2 765.9C928.7 766.1 929.2 766.3 929.6 766.6C930.1 766.8 930.5 767.1 931 767.5C931.4 767.8 931.9 768.2 932.3 768.7C932.7 769.1 933.1 769.6 933.5 770.1C933.9 770.6 934.3 771.2 934.6 771.7C935 772.3 935.3 772.9 935.6 773.5Z"/>
<path d="M941.9 709.4C943.2 709.7 946.8 710.3 949.6 711.4C952.4 712.5 955.5 713.8 958.7 716C961.9 718.1 965.6 721.1 968.8 724.3C972 727.6 975.3 731.7 977.9 735.4C980.5 739.2 982.4 742.8 984.4 746.9C986.4 750.9 988.4 755.6 989.7 759.8C991.1 763.9 991.9 767.8 992.5 771.7C993.1 775.6 993.4 779.5 993.2 783C993 786.6 992.5 789.7 991.3 793C990.1 796.3 988.1 800.3 986 803C983.8 805.7 979.6 808.3 978.3 809.3"/>
<path d="M943.2 708.1C944.6 708.3 948.8 708.3 951.8 709.1C954.8 710 957.9 711.2 961.2 713.3C964.4 715.3 968.2 718.1 971.5 721.2C974.7 724.4 978.1 728.4 980.8 732.1C983.5 735.9 985.6 739.7 987.7 743.8C989.8 748 991.9 752.8 993.3 757.1C994.8 761.4 995.8 765.8 996.4 769.8C997.1 773.8 997.4 777.6 997.1 781.1C996.9 784.7 996.5 787.8 995.2 791.1C993.9 794.5 992 798.4 989.6 801.1C987.1 803.9 982 806.5 980.5 807.5"/>
<path d="M944.6 706.9C946.1 706.9 950.8 706.2 954 706.8C957.2 707.4 960.3 708.7 963.7 710.5C967 712.4 970.8 715 974.1 718.1C977.5 721.2 981 725.1 983.8 728.9C986.6 732.6 988.8 736.5 991 740.8C993.2 745.1 995.3 750 996.9 754.5C998.5 759 999.6 763.7 1000.3 767.8C1001 771.9 1001.3 775.7 1001.1 779.3C1000.9 782.9 1000.4 785.9 999.1 789.3C997.8 792.6 995.9 796.5 993.2 799.3C990.4 802 984.4 804.7 982.7 805.7"/>
<path d="M945.9 705.6C947.6 705.4 952.8 704.1 956.2 704.5C959.6 704.9 962.7 706.1 966.2 707.8C969.6 709.6 973.3 712 976.8 715C980.2 717.9 983.8 721.8 986.8 725.6C989.7 729.4 992 733.4 994.3 737.8C996.5 742.1 998.8 747.1 1000.5 751.8C1002.2 756.5 1003.5 761.6 1004.2 765.9C1005 770.1 1005.3 773.8 1005 777.4C1004.8 781 1004.4 784.1 1003 787.4C1001.6 790.7 999.8 794.6 996.7 797.4C993.7 800.1 986.9 802.8 984.9 803.9"/>
<path d="M947.2 704.4C949.1 704 954.8 702.1 958.4 702.2C961.9 702.3 965.1 703.5 968.7 705.1C972.2 706.7 975.9 709 979.4 711.9C982.9 714.7 986.7 718.5 989.7 722.3C992.7 726.1 995.1 730.2 997.5 734.7C999.9 739.2 1002.3 744.3 1004.1 749.2C1005.9 754 1007.3 759.5 1008.1 763.9C1009 768.3 1009.2 771.9 1009 775.5C1008.8 779.1 1008.3 782.2 1006.9 785.5C1005.4 788.8 1003.6 792.7 1000.3 795.5C997 798.3 989.3 801 987.1 802.1"/>
<path d="M948.5 703.1C950.5 702.6 956.8 700 960.5 699.9C964.3 699.7 967.6 700.9 971.2 702.3C974.7 703.8 978.5 706 982.1 708.7C985.7 711.5 989.6 715.2 992.7 719C995.8 722.9 998.3 727.1 1000.8 731.7C1003.3 736.3 1005.8 741.5 1007.7 746.5C1009.5 751.5 1011.2 757.4 1012 761.9C1012.9 766.5 1013.2 770 1013 773.7C1012.7 777.3 1012.3 780.3 1010.8 783.6C1009.3 787 1007.5 790.8 1003.9 793.6C1000.3 796.4 991.7 799.2 989.3 800.3"/>
<path d="M949.9 701.9C952 701.2 958.8 697.9 962.7 697.6C966.7 697.2 970 698.3 973.7 699.6C977.3 701 981.1 702.9 984.7 705.6C988.4 708.3 992.4 711.9 995.6 715.8C998.9 719.6 1001.5 724 1004.1 728.6C1006.7 733.3 1009.3 738.6 1011.3 743.8C1013.2 749.1 1015 755.3 1015.9 760C1016.9 764.7 1017.1 768.2 1016.9 771.8C1016.7 775.4 1016.3 778.4 1014.7 781.8C1013.1 785.1 1011.4 789 1007.5 791.8C1003.6 794.6 994.1 797.4 991.4 798.6"/>
<path d="M951.2 700.6C953.5 699.7 960.8 695.9 964.9 695.3C969.1 694.6 972.4 695.7 976.1 696.9C979.9 698.1 983.6 699.9 987.4 702.5C991.1 705.1 995.3 708.6 998.6 712.5C1001.9 716.3 1004.7 720.8 1007.4 725.6C1010.1 730.4 1012.8 735.8 1014.9 741.2C1016.9 746.6 1018.8 753.3 1019.8 758.1C1020.8 762.8 1021.1 766.3 1020.8 769.9C1020.6 773.6 1020.2 776.6 1018.6 779.9C1017 783.2 1015.3 787.1 1011.1 789.9C1006.9 792.7 996.5 795.6 993.6 796.8"/>
<path d="M976.1 811.1C977.6 809.9 982 806 984.9 803.6C987.8 801.2 992.2 797.9 993.6 796.8"/>
<path d="M1049.8 700C1050.8 702.1 1054.2 707.9 1056 712.5C1057.9 717.1 1059.8 722.7 1061 727.5C1062.3 732.3 1062.9 737 1063.5 741.2C1064.2 745.4 1064.6 750.6 1064.8 752.4"/>
<path d="M1038.6 742.4C1039.6 741.6 1042.3 738.7 1044.8 737.5C1047.3 736.2 1051.1 735 1053.6 735C1056 735 1058.1 736 1059.8 737.5C1061.5 738.9 1062.7 741.2 1063.5 743.7C1064.4 746.2 1064.6 751 1064.8 752.4C1064.4 752.9 1064.6 753.7 1062.3 754.9C1060 756.2 1052.9 759.1 1051.1 759.9"/>
<path d="M1053.4 747.2C1053.6 747.8 1053.8 748.3 1054 748.9C1054.1 749.5 1054.2 750.1 1054.3 750.6C1054.4 751.2 1054.4 751.8 1054.4 752.3C1054.4 752.9 1054.4 753.4 1054.3 754C1054.2 754.5 1054.1 755 1053.9 755.5C1053.8 755.9 1053.6 756.4 1053.4 756.8C1053.1 757.2 1052.9 757.6 1052.6 757.9C1052.3 758.3 1052 758.6 1051.6 758.8C1051.3 759.1 1050.9 759.3 1050.5 759.4C1050.1 759.6 1049.7 759.7 1049.3 759.8C1048.9 759.8 1048.4 759.8 1048 759.8C1047.6 759.7 1047.1 759.7 1046.6 759.5C1046.2 759.4 1045.7 759.2 1045.3 759C1044.9 758.7 1044.4 758.4 1044 758.1C1043.6 757.8 1043.2 757.4 1042.8 757C1042.4 756.6 1042 756.2 1041.7 755.7C1041.3 755.3 1041 754.8 1040.7 754.3C1040.5 753.7 1040.2 753.2 1040 752.7C1039.7 752.1 1039.6 751.5 1039.4 751C1039.3 750.4 1039.1 749.8 1039.1 749.2C1039 748.7 1039 748.1 1039 747.5C1039 747 1039 746.4 1039.1 745.9C1039.2 745.4 1039.3 744.9 1039.4 744.4C1039.6 743.9 1039.8 743.5 1040 743.1C1040.2 742.7 1040.5 742.3 1040.8 741.9C1041.1 741.6 1041.4 741.3 1041.7 741.1C1042.1 740.8 1042.5 740.6 1042.9 740.4C1043.2 740.3 1043.7 740.2 1044.1 740.1C1044.5 740.1 1044.9 740.1 1045.4 740.1C1045.8 740.1 1046.3 740.2 1046.7 740.4C1047.2 740.5 1047.6 740.7 1048.1 740.9C1048.5 741.2 1048.9 741.4 1049.4 741.8C1049.8 742.1 1050.2 742.4 1050.6 742.8C1051 743.2 1051.3 743.7 1051.7 744.1C1052 744.6 1052.3 745.1 1052.6 745.6C1052.9 746.1 1053.2 746.7 1053.4 747.2Z"/>
<path d="M1051.2 748.6C1051.4 749 1051.5 749.4 1051.6 749.8C1051.7 750.2 1051.8 750.6 1051.9 750.9C1051.9 751.3 1052 751.7 1052 752.1C1052 752.5 1052 752.8 1051.9 753.2C1051.9 753.5 1051.8 753.9 1051.7 754.2C1051.7 754.5 1051.5 754.8 1051.4 755.1C1051.3 755.4 1051.1 755.6 1050.9 755.8C1050.8 756 1050.6 756.2 1050.4 756.4C1050.2 756.6 1049.9 756.7 1049.7 756.8C1049.4 756.9 1049.2 757 1048.9 757C1048.7 757 1048.4 757 1048.1 757C1047.8 756.9 1047.5 756.9 1047.2 756.8C1047 756.7 1046.7 756.5 1046.4 756.4C1046.1 756.2 1045.8 756 1045.6 755.8C1045.3 755.5 1045 755.3 1044.8 755C1044.5 754.7 1044.3 754.4 1044 754.1C1043.8 753.8 1043.6 753.4 1043.4 753.1C1043.2 752.7 1043 752.4 1042.9 752C1042.7 751.6 1042.6 751.2 1042.5 750.8C1042.4 750.5 1042.3 750.1 1042.2 749.7C1042.2 749.3 1042.2 748.9 1042.1 748.5C1042.1 748.2 1042.1 747.8 1042.2 747.4C1042.2 747.1 1042.3 746.7 1042.4 746.4C1042.5 746.1 1042.6 745.8 1042.7 745.5C1042.8 745.3 1043 745 1043.2 744.8C1043.3 744.6 1043.5 744.4 1043.8 744.2C1044 744.1 1044.2 743.9 1044.4 743.8C1044.7 743.7 1044.9 743.7 1045.2 743.6C1045.5 743.6 1045.7 743.6 1046 743.6C1046.3 743.7 1046.6 743.8 1046.9 743.9C1047.2 744 1047.5 744.1 1047.7 744.3C1048 744.4 1048.3 744.6 1048.6 744.9C1048.8 745.1 1049.1 745.3 1049.4 745.6C1049.6 745.9 1049.9 746.2 1050.1 746.5C1050.3 746.8 1050.5 747.2 1050.7 747.5C1050.9 747.9 1051.1 748.3 1051.2 748.6Z"/>
<path d="M1033.6 779.9C1034.6 779.1 1037.3 776.3 1039.8 774.9C1042.3 773.6 1046.1 771.8 1048.6 771.8C1051.1 771.8 1053.1 773.1 1054.8 774.9C1056.5 776.7 1057.9 779.9 1058.5 782.4C1059.2 784.9 1058.5 788.6 1058.5 789.9L1044.8 796.1"/>
<path d="M1048 784.7C1048.3 785.2 1048.4 785.8 1048.6 786.4C1048.7 786.9 1048.9 787.5 1048.9 788.1C1049 788.7 1049.1 789.2 1049 789.8C1049 790.3 1049 790.9 1048.9 791.4C1048.8 791.9 1048.7 792.4 1048.6 792.9C1048.4 793.4 1048.2 793.8 1048 794.3C1047.8 794.7 1047.5 795 1047.2 795.4C1046.9 795.7 1046.6 796 1046.3 796.3C1045.9 796.5 1045.5 796.7 1045.2 796.9C1044.8 797 1044.3 797.2 1043.9 797.2C1043.5 797.3 1043.1 797.3 1042.6 797.2C1042.2 797.2 1041.7 797.1 1041.3 797C1040.8 796.8 1040.4 796.6 1039.9 796.4C1039.5 796.2 1039.1 795.9 1038.6 795.6C1038.2 795.2 1037.8 794.9 1037.4 794.5C1037 794.1 1036.7 793.6 1036.3 793.2C1036 792.7 1035.7 792.2 1035.4 791.7C1035.1 791.2 1034.8 790.7 1034.6 790.1C1034.4 789.6 1034.2 789 1034 788.4C1033.9 787.8 1033.8 787.3 1033.7 786.7C1033.6 786.1 1033.6 785.5 1033.6 785C1033.6 784.4 1033.6 783.9 1033.7 783.4C1033.8 782.8 1033.9 782.3 1034.1 781.9C1034.2 781.4 1034.4 780.9 1034.6 780.5C1034.9 780.1 1035.1 779.7 1035.4 779.4C1035.7 779.1 1036 778.8 1036.4 778.5C1036.7 778.3 1037.1 778.1 1037.5 777.9C1037.9 777.7 1038.3 777.6 1038.7 777.6C1039.1 777.5 1039.6 777.5 1040 777.5C1040.5 777.6 1040.9 777.7 1041.4 777.8C1041.8 778 1042.3 778.1 1042.7 778.4C1043.1 778.6 1043.6 778.9 1044 779.2C1044.4 779.5 1044.8 779.9 1045.2 780.3C1045.6 780.7 1046 781.1 1046.3 781.6C1046.7 782.1 1047 782.6 1047.3 783.1C1047.5 783.6 1047.8 784.1 1048 784.7Z"/>
<path d="M1045.6 786.2C1045.8 786.5 1045.9 786.9 1046 787.3C1046.1 787.7 1046.2 788 1046.3 788.4C1046.3 788.8 1046.4 789.2 1046.4 789.5C1046.4 789.9 1046.4 790.2 1046.3 790.6C1046.3 790.9 1046.2 791.2 1046.2 791.5C1046.1 791.8 1046 792.1 1045.8 792.4C1045.7 792.6 1045.6 792.9 1045.4 793.1C1045.2 793.3 1045.1 793.5 1044.9 793.6C1044.7 793.8 1044.4 793.9 1044.2 794C1044 794.1 1043.7 794.2 1043.5 794.2C1043.2 794.2 1043 794.2 1042.7 794.2C1042.5 794.1 1042.2 794.1 1041.9 794C1041.6 793.9 1041.4 793.7 1041.1 793.6C1040.8 793.4 1040.6 793.2 1040.3 793C1040 792.8 1039.8 792.5 1039.5 792.3C1039.3 792 1039.1 791.7 1038.9 791.4C1038.6 791.1 1038.4 790.8 1038.3 790.4C1038.1 790.1 1037.9 789.7 1037.8 789.4C1037.6 789 1037.5 788.6 1037.4 788.2C1037.3 787.9 1037.2 787.5 1037.1 787.1C1037.1 786.8 1037 786.4 1037 786C1037 785.7 1037 785.3 1037.1 785C1037.1 784.6 1037.1 784.3 1037.2 784C1037.3 783.7 1037.4 783.4 1037.5 783.1C1037.7 782.9 1037.8 782.6 1038 782.4C1038.1 782.2 1038.3 782 1038.5 781.9C1038.7 781.7 1038.9 781.6 1039.2 781.5C1039.4 781.4 1039.6 781.4 1039.9 781.3C1040.1 781.3 1040.4 781.3 1040.7 781.3C1040.9 781.4 1041.2 781.5 1041.5 781.6C1041.7 781.7 1042 781.8 1042.3 782C1042.6 782.1 1042.8 782.3 1043.1 782.5C1043.3 782.7 1043.6 783 1043.8 783.3C1044.1 783.5 1044.3 783.8 1044.5 784.1C1044.7 784.4 1044.9 784.8 1045.1 785.1C1045.3 785.5 1045.5 785.8 1045.6 786.2Z"/>
<path d="M997.4 798.6C998 799.5 999.5 802.2 1001.1 803.6C1002.8 805.1 1005.7 807.4 1007.4 807.4C1009 807.4 1010.5 804.2 1011.1 803.6L1021.1 799.9C1021.1 798.8 1021.5 795.9 1021.1 793.6C1020.7 791.3 1019 787.4 1018.6 786.1"/>
<path d="M999.9 798.6C1000.5 799.3 1002.3 801.6 1003.6 802.4C1005 803.1 1007 803.6 1008 803C1008.9 802.4 1009.3 800 1009.2 798.6C1009.1 797.3 1007.7 795.5 1007.4 794.9"/>
<path d="M1011.1 803.6C1011 802.8 1011 800 1010.5 798.6C1010 797.3 1008.4 796 1008 795.5"/>
<path d="M1019.2 743.7L1029.2 739.3C1030.6 739.4 1035.8 739.4 1037.3 740C1038.9 740.5 1038.4 742 1038.6 742.4"/>
<path d="M1019.2 749.3L1037.3 746.2"/>
<path d="M1019.2 743.7L1019.2 749.3L1019.8 754.9"/>
<path d="M1019.8 754.9L1037.3 753.7C1037.5 754.7 1038.6 757.6 1038.6 759.9C1038.6 762.2 1038.2 765.1 1037.3 767.4C1036.5 769.7 1035.2 772 1033.6 773.7C1031.9 775.3 1029.4 776.5 1027.3 777.4C1025.3 778.3 1022.1 779 1021.1 779.3"/>
<path d="M1022.3 763.7C1023.2 763 1026.2 761.4 1027.3 759.9C1028.5 758.5 1028.9 755.8 1029.2 754.9"/>
<path d="M1039.8 758.7C1040.7 759.1 1044.4 759.3 1044.8 761.2C1045.2 763 1043.6 767.6 1042.3 769.9C1041.1 772.2 1038.2 774.1 1037.3 774.9"/>
<path d="M1048.6 759.9C1047.9 761.6 1046.3 767.2 1044.8 769.9C1043.4 772.6 1040.7 775.1 1039.8 776.2"/>
<path d="M1019.8 786.1L1033.6 782.4"/>
<path d="M1022.3 792.4L1034.8 788.6"/>
<path d="M1037.3 746.2L1037.3 753.7"/>
<path d="M1019.8 779.9L1018.6 786.1"/>
<path d="M787.5 185.2L800.8 178.5L805.8 181.2L834.1 167.4L848.2 152.4L868.2 144.1L876.5 139.1L904.8 119.1L933.1 101.6L974.1 74.1L983.2 71.7L989.9 67"/>
<path d="M787.5 185.2L787.5 193.2C788.7 194 792.9 196.5 795 198.1C797 199.8 799.1 200.9 800 203.1C800.8 205.4 800 210.1 800 211.5C799.3 211.7 796.5 212.2 795.8 213.1C795.1 214.1 795.8 216.6 795.8 217.3"/>
<path d="M787.5 185.7L849.9 218.1"/>
<path d="M788.6 193.2L824.9 210.6"/>
<path d="M1070.6 113.6L881.5 232.4"/>
<path d="M834.1 191.5C834.5 190.1 834.8 185.7 836.6 183.2C838.4 180.7 841.3 178.5 844.9 176.5C848.5 174.6 853.5 172.6 858.2 171.5C862.9 170.4 867.9 169.7 873.2 169.9C878.5 170 884.8 170.7 889.8 172.4C894.8 174 899.5 176.9 903.2 179.8C906.8 182.8 909.8 187.1 911.5 189.8C913.1 192.6 913.4 194 913.1 196.5C912.9 199 912 202.3 909.8 204.8C907.6 207.3 903.7 209.8 899.8 211.5C895.9 213.1 890.9 214 886.5 214.8C882.1 215.6 877.6 216.3 873.2 216.1C868.8 216 864.3 215.3 859.9 214C855.4 212.6 850.3 210.4 846.6 208.1C842.8 205.9 839.5 203.4 837.4 200.6C835.3 197.9 834.6 193 834.1 191.5"/>
<path d="M834.6 193.2C836 191.6 839.6 186.4 843.2 184C846.9 181.6 851.6 180.1 856.6 179C861.5 177.9 867.6 177.2 873.2 177.3C878.7 177.5 884.8 178.3 889.8 179.8C894.8 181.4 899.5 184 903.2 186.5C906.8 189 910.1 193.4 911.5 194.8"/>
<path d="M847.1 183.2L847.1 209"/>
<path d="M879 178.5L886.5 214"/>
<path d="M970.2 155.9C970.2 157.2 970 158.5 969.6 159.8C969.2 161.1 968.6 162.4 967.8 163.7C967 164.9 966 166.1 964.9 167.3C963.7 168.4 962.4 169.5 960.9 170.5C959.4 171.5 957.7 172.5 956 173.3C954.2 174.2 952.3 175 950.3 175.6C948.3 176.3 946.1 176.8 943.9 177.3C941.8 177.8 939.5 178.1 937.2 178.3C934.9 178.6 932.6 178.7 930.3 178.7C928 178.7 925.6 178.6 923.3 178.3C921.1 178.1 918.8 177.8 916.6 177.3C914.5 176.8 912.3 176.3 910.3 175.6C908.3 175 906.4 174.2 904.6 173.3C902.8 172.5 901.2 171.5 899.7 170.5C898.2 169.5 896.8 168.4 895.7 167.3C894.5 166.1 893.5 164.9 892.7 163.7C892 162.4 891.3 161.1 890.9 159.8C890.5 158.5 890.3 157.2 890.3 155.9C890.3 154.6 890.5 153.2 890.9 151.9C891.3 150.6 892 149.3 892.7 148.1C893.5 146.8 894.5 145.6 895.7 144.5C896.8 143.3 898.2 142.2 899.7 141.2C901.2 140.2 902.8 139.3 904.6 138.4C906.4 137.6 908.3 136.8 910.3 136.1C912.3 135.5 914.5 134.9 916.6 134.4C918.8 134 921.1 133.6 923.3 133.4C925.6 133.2 928 133.1 930.3 133.1C932.6 133.1 934.9 133.2 937.2 133.4C939.5 133.6 941.8 134 943.9 134.4C946.1 134.9 948.3 135.5 950.3 136.1C952.3 136.8 954.2 137.6 956 138.4C957.7 139.3 959.4 140.2 960.9 141.2C962.4 142.2 963.7 143.3 964.9 144.5C966 145.6 967 146.8 967.8 148.1C968.6 149.3 969.2 150.6 969.6 151.9C970 153.2 970.2 154.6 970.2 155.9Z"/>
<path d="M891.5 158.2C892.6 156.5 894.6 150.9 898.2 148.2C901.8 145.6 907.9 143.6 913.1 142.4C918.4 141.1 924.2 140.6 929.8 140.7C935.3 140.9 941.4 141.6 946.4 143.2C951.4 144.9 956.1 147.9 959.7 150.7C963.4 153.5 966.7 158.3 968.1 159.9"/>
<path d="M905.3 145.7L905.3 171.9"/>
<path d="M973.2 90C973.2 90.1 973.2 90.3 973.1 90.5C973.1 90.7 973 90.9 972.8 91C972.7 91.2 972.6 91.4 972.4 91.5C972.2 91.7 972 91.9 971.7 92C971.5 92.1 971.3 92.3 971 92.4C970.7 92.5 970.4 92.6 970.1 92.7C969.7 92.8 969.4 92.9 969.1 92.9C968.7 93 968.4 93 968 93.1C967.6 93.1 967.3 93.1 966.9 93.1C966.5 93.1 966.2 93.1 965.8 93.1C965.4 93 965.1 93 964.7 92.9C964.4 92.9 964.1 92.8 963.7 92.7C963.4 92.6 963.1 92.5 962.8 92.4C962.6 92.3 962.3 92.1 962.1 92C961.8 91.9 961.6 91.7 961.4 91.5C961.2 91.4 961.1 91.2 961 91C960.8 90.9 960.7 90.7 960.7 90.5C960.6 90.3 960.6 90.1 960.6 90C960.6 89.8 960.6 89.6 960.7 89.4C960.7 89.2 960.8 89.1 961 88.9C961.1 88.7 961.2 88.5 961.4 88.4C961.6 88.2 961.8 88.1 962.1 87.9C962.3 87.8 962.6 87.7 962.8 87.5C963.1 87.4 963.4 87.3 963.7 87.2C964.1 87.1 964.4 87.1 964.7 87C965.1 86.9 965.4 86.9 965.8 86.8C966.2 86.8 966.5 86.8 966.9 86.8C967.3 86.8 967.6 86.8 968 86.8C968.4 86.9 968.7 86.9 969.1 87C969.4 87.1 969.7 87.1 970.1 87.2C970.4 87.3 970.7 87.4 971 87.5C971.3 87.7 971.5 87.8 971.7 87.9C972 88.1 972.2 88.2 972.4 88.4C972.6 88.5 972.7 88.7 972.8 88.9C973 89.1 973.1 89.2 973.1 89.4C973.2 89.6 973.2 89.8 973.2 90Z"/>
<path d="M998.5 91.6C998.5 91.8 998.5 92 998.4 92.2C998.4 92.4 998.3 92.5 998.1 92.7C998 92.9 997.9 93 997.7 93.2C997.5 93.4 997.3 93.5 997 93.7C996.8 93.8 996.5 93.9 996.3 94C996 94.2 995.7 94.3 995.4 94.4C995 94.5 994.7 94.5 994.4 94.6C994 94.7 993.7 94.7 993.3 94.7C992.9 94.8 992.6 94.8 992.2 94.8C991.8 94.8 991.5 94.8 991.1 94.7C990.7 94.7 990.4 94.7 990 94.6C989.7 94.5 989.4 94.5 989 94.4C988.7 94.3 988.4 94.2 988.1 94C987.9 93.9 987.6 93.8 987.4 93.7C987.1 93.5 986.9 93.4 986.7 93.2C986.5 93 986.4 92.9 986.3 92.7C986.1 92.5 986 92.4 986 92.2C985.9 92 985.9 91.8 985.9 91.6C985.9 91.4 985.9 91.3 986 91.1C986 90.9 986.1 90.7 986.3 90.5C986.4 90.4 986.5 90.2 986.7 90C986.9 89.9 987.1 89.7 987.4 89.6C987.6 89.5 987.9 89.3 988.1 89.2C988.4 89.1 988.7 89 989 88.9C989.4 88.8 989.7 88.7 990 88.7C990.4 88.6 990.7 88.5 991.1 88.5C991.5 88.5 991.8 88.5 992.2 88.5C992.6 88.5 992.9 88.5 993.3 88.5C993.7 88.5 994 88.6 994.4 88.7C994.7 88.7 995 88.8 995.4 88.9C995.7 89 996 89.1 996.3 89.2C996.5 89.3 996.8 89.5 997 89.6C997.3 89.7 997.5 89.9 997.7 90C997.9 90.2 998 90.4 998.1 90.5C998.3 90.7 998.4 90.9 998.4 91.1C998.5 91.3 998.5 91.4 998.5 91.6Z"/>
<path d="M946.1 106.3C946.1 106.5 946.1 106.6 946 106.8C945.9 107 945.8 107.2 945.7 107.4C945.6 107.5 945.4 107.7 945.3 107.9C945.1 108 944.9 108.2 944.6 108.3C944.4 108.4 944.1 108.6 943.8 108.7C943.6 108.8 943.3 108.9 942.9 109C942.6 109.1 942.3 109.2 941.9 109.2C941.6 109.3 941.2 109.4 940.9 109.4C940.5 109.4 940.1 109.4 939.8 109.4C939.4 109.4 939 109.4 938.7 109.4C938.3 109.4 938 109.3 937.6 109.2C937.3 109.2 936.9 109.1 936.6 109C936.3 108.9 936 108.8 935.7 108.7C935.4 108.6 935.2 108.4 934.9 108.3C934.7 108.2 934.5 108 934.3 107.9C934.1 107.7 934 107.5 933.8 107.4C933.7 107.2 933.6 107 933.5 106.8C933.5 106.6 933.4 106.5 933.4 106.3C933.4 106.1 933.5 105.9 933.5 105.7C933.6 105.5 933.7 105.4 933.8 105.2C934 105 934.1 104.8 934.3 104.7C934.5 104.5 934.7 104.4 934.9 104.2C935.2 104.1 935.4 104 935.7 103.8C936 103.7 936.3 103.6 936.6 103.5C936.9 103.4 937.3 103.4 937.6 103.3C938 103.2 938.3 103.2 938.7 103.2C939 103.1 939.4 103.1 939.8 103.1C940.1 103.1 940.5 103.1 940.9 103.2C941.2 103.2 941.6 103.2 941.9 103.3C942.3 103.4 942.6 103.4 942.9 103.5C943.3 103.6 943.6 103.7 943.8 103.8C944.1 104 944.4 104.1 944.6 104.2C944.9 104.4 945.1 104.5 945.3 104.7C945.4 104.8 945.6 105 945.7 105.2C945.8 105.4 945.9 105.5 946 105.7C946.1 105.9 946.1 106.1 946.1 106.3Z"/>
<path d="M916.1 125.4C916.1 125.6 916.1 125.8 916 126C916 126.1 915.9 126.3 915.8 126.5C915.6 126.7 915.5 126.8 915.3 127C915.1 127.2 914.9 127.3 914.7 127.4C914.4 127.6 914.2 127.7 913.9 127.8C913.6 128 913.3 128.1 913 128.2C912.7 128.2 912.3 128.3 912 128.4C911.6 128.4 911.3 128.5 910.9 128.5C910.6 128.6 910.2 128.6 909.8 128.6C909.4 128.6 909.1 128.6 908.7 128.5C908.4 128.5 908 128.4 907.7 128.4C907.3 128.3 907 128.2 906.7 128.2C906.3 128.1 906 128 905.7 127.8C905.5 127.7 905.2 127.6 905 127.4C904.7 127.3 904.5 127.2 904.3 127C904.2 126.8 904 126.7 903.9 126.5C903.7 126.3 903.6 126.1 903.6 126C903.5 125.8 903.5 125.6 903.5 125.4C903.5 125.2 903.5 125 903.6 124.9C903.6 124.7 903.7 124.5 903.9 124.3C904 124.2 904.2 124 904.3 123.8C904.5 123.7 904.7 123.5 905 123.4C905.2 123.2 905.5 123.1 905.7 123C906 122.9 906.3 122.8 906.7 122.7C907 122.6 907.3 122.5 907.7 122.4C908 122.4 908.4 122.3 908.7 122.3C909.1 122.3 909.4 122.3 909.8 122.3C910.2 122.3 910.6 122.3 910.9 122.3C911.3 122.3 911.6 122.4 912 122.4C912.3 122.5 912.7 122.6 913 122.7C913.3 122.8 913.6 122.9 913.9 123C914.2 123.1 914.4 123.2 914.7 123.4C914.9 123.5 915.1 123.7 915.3 123.8C915.5 124 915.6 124.2 915.8 124.3C915.9 124.5 916 124.7 916 124.9C916.1 125 916.1 125.2 916.1 125.4Z"/>
<path d="M940.8 127.7C940.8 127.9 940.7 128.1 940.7 128.3C940.6 128.5 940.5 128.7 940.4 128.8C940.3 129 940.1 129.2 939.9 129.3C939.7 129.5 939.5 129.6 939.3 129.8C939.1 129.9 938.8 130 938.5 130.2C938.2 130.3 937.9 130.4 937.6 130.5C937.3 130.6 937 130.7 936.6 130.7C936.3 130.8 935.9 130.8 935.5 130.9C935.2 130.9 934.8 130.9 934.4 130.9C934.1 130.9 933.7 130.9 933.3 130.9C933 130.8 932.6 130.8 932.3 130.7C931.9 130.7 931.6 130.6 931.3 130.5C931 130.4 930.7 130.3 930.4 130.2C930.1 130 929.8 129.9 929.6 129.8C929.4 129.6 929.2 129.5 929 129.3C928.8 129.2 928.6 129 928.5 128.8C928.4 128.7 928.3 128.5 928.2 128.3C928.2 128.1 928.1 127.9 928.1 127.7C928.1 127.6 928.2 127.4 928.2 127.2C928.3 127 928.4 126.8 928.5 126.7C928.6 126.5 928.8 126.3 929 126.2C929.2 126 929.4 125.9 929.6 125.7C929.8 125.6 930.1 125.4 930.4 125.3C930.7 125.2 931 125.1 931.3 125C931.6 124.9 931.9 124.8 932.3 124.8C932.6 124.7 933 124.7 933.3 124.6C933.7 124.6 934.1 124.6 934.4 124.6C934.8 124.6 935.2 124.6 935.5 124.6C935.9 124.7 936.3 124.7 936.6 124.8C937 124.8 937.3 124.9 937.6 125C937.9 125.1 938.2 125.2 938.5 125.3C938.8 125.4 939.1 125.6 939.3 125.7C939.5 125.9 939.7 126 939.9 126.2C940.1 126.3 940.3 126.5 940.4 126.7C940.5 126.8 940.6 127 940.7 127.2C940.7 127.4 940.8 127.6 940.8 127.7Z"/>
<path d="M888.7 141.9C888.7 142.1 888.6 142.3 888.6 142.4C888.5 142.6 888.4 142.8 888.3 143C888.2 143.1 888 143.3 887.8 143.5C887.6 143.6 887.4 143.8 887.2 143.9C887 144.1 886.7 144.2 886.4 144.3C886.1 144.4 885.8 144.5 885.5 144.6C885.2 144.7 884.9 144.8 884.5 144.9C884.2 144.9 883.8 145 883.4 145C883.1 145 882.7 145.1 882.4 145.1C882 145.1 881.6 145 881.3 145C880.9 145 880.5 144.9 880.2 144.9C879.8 144.8 879.5 144.7 879.2 144.6C878.9 144.5 878.6 144.4 878.3 144.3C878 144.2 877.7 144.1 877.5 143.9C877.3 143.8 877.1 143.6 876.9 143.5C876.7 143.3 876.5 143.1 876.4 143C876.3 142.8 876.2 142.6 876.1 142.4C876.1 142.3 876 142.1 876 141.9C876 141.7 876.1 141.5 876.1 141.3C876.2 141.2 876.3 141 876.4 140.8C876.5 140.6 876.7 140.5 876.9 140.3C877.1 140.2 877.3 140 877.5 139.9C877.7 139.7 878 139.6 878.3 139.5C878.6 139.4 878.9 139.2 879.2 139.2C879.5 139.1 879.8 139 880.2 138.9C880.5 138.9 880.9 138.8 881.3 138.8C881.6 138.7 882 138.7 882.4 138.7C882.7 138.7 883.1 138.7 883.4 138.8C883.8 138.8 884.2 138.9 884.5 138.9C884.9 139 885.2 139.1 885.5 139.2C885.8 139.2 886.1 139.4 886.4 139.5C886.7 139.6 887 139.7 887.2 139.9C887.4 140 887.6 140.2 887.8 140.3C888 140.5 888.2 140.6 888.3 140.8C888.4 141 888.5 141.2 888.6 141.3C888.6 141.5 888.7 141.7 888.7 141.9Z"/>
<path d="M858.7 162.4C858.7 162.5 858.7 162.7 858.6 162.9C858.6 163.1 858.5 163.3 858.3 163.4C858.2 163.6 858.1 163.8 857.9 163.9C857.7 164.1 857.5 164.3 857.2 164.4C857 164.5 856.7 164.7 856.5 164.8C856.2 164.9 855.9 165 855.6 165.1C855.2 165.2 854.9 165.3 854.6 165.3C854.2 165.4 853.8 165.4 853.5 165.5C853.1 165.5 852.8 165.5 852.4 165.5C852 165.5 851.7 165.5 851.3 165.5C850.9 165.4 850.6 165.4 850.2 165.3C849.9 165.3 849.5 165.2 849.2 165.1C848.9 165 848.6 164.9 848.3 164.8C848 164.7 847.8 164.5 847.5 164.4C847.3 164.3 847.1 164.1 846.9 163.9C846.7 163.8 846.6 163.6 846.4 163.4C846.3 163.3 846.2 163.1 846.2 162.9C846.1 162.7 846.1 162.5 846.1 162.4C846.1 162.2 846.1 162 846.2 161.8C846.2 161.6 846.3 161.5 846.4 161.3C846.6 161.1 846.7 160.9 846.9 160.8C847.1 160.6 847.3 160.5 847.5 160.3C847.8 160.2 848 160.1 848.3 159.9C848.6 159.8 848.9 159.7 849.2 159.6C849.5 159.5 849.9 159.5 850.2 159.4C850.6 159.3 850.9 159.3 851.3 159.2C851.7 159.2 852 159.2 852.4 159.2C852.8 159.2 853.1 159.2 853.5 159.2C853.8 159.3 854.2 159.3 854.6 159.4C854.9 159.5 855.2 159.5 855.6 159.6C855.9 159.7 856.2 159.8 856.5 159.9C856.7 160.1 857 160.2 857.2 160.3C857.5 160.5 857.7 160.6 857.9 160.8C858.1 160.9 858.2 161.1 858.3 161.3C858.5 161.5 858.6 161.6 858.6 161.8C858.7 162 858.7 162.2 858.7 162.4Z"/>
<path d="M884 164.9C884 165 884 165.2 883.9 165.4C883.9 165.6 883.8 165.8 883.6 165.9C883.5 166.1 883.4 166.3 883.2 166.4C883 166.6 882.8 166.8 882.5 166.9C882.3 167 882 167.2 881.8 167.3C881.5 167.4 881.2 167.5 880.9 167.6C880.5 167.7 880.2 167.8 879.9 167.8C879.5 167.9 879.1 167.9 878.8 168C878.4 168 878.1 168 877.7 168C877.3 168 877 168 876.6 168C876.2 167.9 875.9 167.9 875.5 167.8C875.2 167.8 874.8 167.7 874.5 167.6C874.2 167.5 873.9 167.4 873.6 167.3C873.3 167.2 873.1 167 872.8 166.9C872.6 166.8 872.4 166.6 872.2 166.4C872 166.3 871.9 166.1 871.7 165.9C871.6 165.8 871.5 165.6 871.5 165.4C871.4 165.2 871.4 165 871.4 164.9C871.4 164.7 871.4 164.5 871.5 164.3C871.5 164.1 871.6 164 871.7 163.8C871.9 163.6 872 163.4 872.2 163.3C872.4 163.1 872.6 163 872.8 162.8C873.1 162.7 873.3 162.6 873.6 162.4C873.9 162.3 874.2 162.2 874.5 162.1C874.8 162 875.2 162 875.5 161.9C875.9 161.8 876.2 161.8 876.6 161.7C877 161.7 877.3 161.7 877.7 161.7C878.1 161.7 878.4 161.7 878.8 161.7C879.1 161.8 879.5 161.8 879.9 161.9C880.2 162 880.5 162 880.9 162.1C881.2 162.2 881.5 162.3 881.8 162.4C882 162.6 882.3 162.7 882.5 162.8C882.8 163 883 163.1 883.2 163.3C883.4 163.4 883.5 163.6 883.6 163.8C883.8 164 883.9 164.1 883.9 164.3C884 164.5 884 164.7 884 164.9Z"/>
<path d="M831.6 179C831.6 179.2 831.6 179.4 831.5 179.6C831.4 179.7 831.3 179.9 831.2 180.1C831.1 180.3 830.9 180.4 830.7 180.6C830.6 180.7 830.3 180.9 830.1 181C829.9 181.2 829.6 181.3 829.3 181.4C829 181.5 828.7 181.7 828.4 181.7C828.1 181.8 827.8 181.9 827.4 182C827.1 182 826.7 182.1 826.4 182.1C826 182.2 825.6 182.2 825.3 182.2C824.9 182.2 824.5 182.2 824.2 182.1C823.8 182.1 823.4 182 823.1 182C822.8 181.9 822.4 181.8 822.1 181.7C821.8 181.7 821.5 181.5 821.2 181.4C820.9 181.3 820.6 181.2 820.4 181C820.2 180.9 820 180.7 819.8 180.6C819.6 180.4 819.4 180.3 819.3 180.1C819.2 179.9 819.1 179.7 819 179.6C819 179.4 818.9 179.2 818.9 179C818.9 178.8 819 178.6 819 178.5C819.1 178.3 819.2 178.1 819.3 177.9C819.4 177.8 819.6 177.6 819.8 177.4C820 177.3 820.2 177.1 820.4 177C820.6 176.8 820.9 176.7 821.2 176.6C821.5 176.5 821.8 176.4 822.1 176.3C822.4 176.2 822.8 176.1 823.1 176C823.4 176 823.8 175.9 824.2 175.9C824.5 175.9 824.9 175.8 825.3 175.8C825.6 175.8 826 175.9 826.4 175.9C826.7 175.9 827.1 176 827.4 176C827.8 176.1 828.1 176.2 828.4 176.3C828.7 176.4 829 176.5 829.3 176.6C829.6 176.7 829.9 176.8 830.1 177C830.3 177.1 830.6 177.3 830.7 177.4C830.9 177.6 831.1 177.8 831.2 177.9C831.3 178.1 831.4 178.3 831.5 178.5C831.6 178.6 831.6 178.8 831.6 179Z"/>
<path d="M927 184.8C927 185 926.9 185.2 926.9 185.4C926.8 185.6 926.7 185.7 926.6 185.9C926.5 186.1 926.3 186.3 926.1 186.4C925.9 186.6 925.7 186.7 925.5 186.9C925.2 187 925 187.1 924.7 187.3C924.4 187.4 924.1 187.5 923.8 187.6C923.5 187.7 923.1 187.7 922.8 187.8C922.5 187.9 922.1 187.9 921.7 187.9C921.4 188 921 188 920.6 188C920.3 188 919.9 188 919.5 187.9C919.2 187.9 918.8 187.9 918.5 187.8C918.1 187.7 917.8 187.7 917.5 187.6C917.2 187.5 916.8 187.4 916.6 187.3C916.3 187.1 916 187 915.8 186.9C915.6 186.7 915.3 186.6 915.2 186.4C915 186.3 914.8 186.1 914.7 185.9C914.6 185.7 914.5 185.6 914.4 185.4C914.3 185.2 914.3 185 914.3 184.8C914.3 184.7 914.3 184.5 914.4 184.3C914.5 184.1 914.6 183.9 914.7 183.8C914.8 183.6 915 183.4 915.2 183.3C915.3 183.1 915.6 182.9 915.8 182.8C916 182.7 916.3 182.5 916.6 182.4C916.8 182.3 917.2 182.2 917.5 182.1C917.8 182 918.1 181.9 918.5 181.9C918.8 181.8 919.2 181.8 919.5 181.7C919.9 181.7 920.3 181.7 920.6 181.7C921 181.7 921.4 181.7 921.7 181.7C922.1 181.8 922.5 181.8 922.8 181.9C923.1 181.9 923.5 182 923.8 182.1C924.1 182.2 924.4 182.3 924.7 182.4C925 182.5 925.2 182.7 925.5 182.8C925.7 182.9 925.9 183.1 926.1 183.3C926.3 183.4 926.5 183.6 926.6 183.8C926.7 183.9 926.8 184.1 926.9 184.3C926.9 184.5 927 184.7 927 184.8Z"/>
<path d="M948.3 183.5C948.3 183.7 948.2 183.9 948.2 184.1C948.1 184.2 948 184.4 947.9 184.6C947.8 184.8 947.6 184.9 947.4 185.1C947.2 185.2 947 185.4 946.8 185.5C946.5 185.7 946.3 185.8 946 185.9C945.7 186 945.4 186.1 945.1 186.2C944.8 186.3 944.4 186.4 944.1 186.5C943.8 186.5 943.4 186.6 943 186.6C942.7 186.6 942.3 186.7 941.9 186.7C941.6 186.7 941.2 186.6 940.8 186.6C940.5 186.6 940.1 186.5 939.8 186.5C939.4 186.4 939.1 186.3 938.8 186.2C938.5 186.1 938.2 186 937.9 185.9C937.6 185.8 937.3 185.7 937.1 185.5C936.9 185.4 936.6 185.2 936.5 185.1C936.3 184.9 936.1 184.8 936 184.6C935.9 184.4 935.8 184.2 935.7 184.1C935.6 183.9 935.6 183.7 935.6 183.5C935.6 183.3 935.6 183.1 935.7 183C935.8 182.8 935.9 182.6 936 182.4C936.1 182.2 936.3 182.1 936.5 181.9C936.6 181.8 936.9 181.6 937.1 181.5C937.3 181.3 937.6 181.2 937.9 181.1C938.2 181 938.5 180.9 938.8 180.8C939.1 180.7 939.4 180.6 939.8 180.5C940.1 180.5 940.5 180.4 940.8 180.4C941.2 180.4 941.6 180.3 941.9 180.3C942.3 180.3 942.7 180.4 943 180.4C943.4 180.4 943.8 180.5 944.1 180.5C944.4 180.6 944.8 180.7 945.1 180.8C945.4 180.9 945.7 181 946 181.1C946.3 181.2 946.5 181.3 946.8 181.5C947 181.6 947.2 181.8 947.4 181.9C947.6 182.1 947.8 182.2 947.9 182.4C948 182.6 948.1 182.8 948.2 183C948.2 183.1 948.3 183.3 948.3 183.5Z"/>
<path d="M984 147.7C984 147.9 984 148.1 984 148.3C983.9 148.4 983.8 148.6 983.7 148.8C983.5 149 983.4 149.1 983.2 149.3C983 149.5 982.8 149.6 982.6 149.7C982.3 149.9 982.1 150 981.8 150.1C981.5 150.3 981.2 150.4 980.9 150.5C980.6 150.5 980.2 150.6 979.9 150.7C979.5 150.8 979.2 150.8 978.8 150.8C978.5 150.9 978.1 150.9 977.7 150.9C977.4 150.9 977 150.9 976.6 150.8C976.3 150.8 975.9 150.8 975.6 150.7C975.2 150.6 974.9 150.5 974.6 150.5C974.2 150.4 973.9 150.3 973.7 150.1C973.4 150 973.1 149.9 972.9 149.7C972.6 149.6 972.4 149.5 972.2 149.3C972.1 149.1 971.9 149 971.8 148.8C971.7 148.6 971.6 148.4 971.5 148.3C971.4 148.1 971.4 147.9 971.4 147.7C971.4 147.5 971.4 147.3 971.5 147.2C971.6 147 971.7 146.8 971.8 146.6C971.9 146.5 972.1 146.3 972.2 146.1C972.4 146 972.6 145.8 972.9 145.7C973.1 145.5 973.4 145.4 973.7 145.3C973.9 145.2 974.2 145.1 974.6 145C974.9 144.9 975.2 144.8 975.6 144.7C975.9 144.7 976.3 144.6 976.6 144.6C977 144.6 977.4 144.6 977.7 144.6C978.1 144.6 978.5 144.6 978.8 144.6C979.2 144.6 979.5 144.7 979.9 144.7C980.2 144.8 980.6 144.9 980.9 145C981.2 145.1 981.5 145.2 981.8 145.3C982.1 145.4 982.3 145.5 982.6 145.7C982.8 145.8 983 146 983.2 146.1C983.4 146.3 983.5 146.5 983.7 146.6C983.8 146.8 983.9 147 984 147.2C984 147.3 984 147.5 984 147.7Z"/>
<path d="M1005.7 147.7C1005.7 147.9 1005.7 148.1 1005.6 148.3C1005.5 148.4 1005.4 148.6 1005.3 148.8C1005.2 149 1005 149.1 1004.8 149.3C1004.7 149.5 1004.4 149.6 1004.2 149.7C1004 149.9 1003.7 150 1003.4 150.1C1003.1 150.3 1002.8 150.4 1002.5 150.5C1002.2 150.5 1001.9 150.6 1001.5 150.7C1001.2 150.8 1000.8 150.8 1000.5 150.8C1000.1 150.9 999.7 150.9 999.4 150.9C999 150.9 998.6 150.9 998.3 150.8C997.9 150.8 997.5 150.8 997.2 150.7C996.9 150.6 996.5 150.5 996.2 150.5C995.9 150.4 995.6 150.3 995.3 150.1C995 150 994.8 149.9 994.5 149.7C994.3 149.6 994.1 149.5 993.9 149.3C993.7 149.1 993.5 149 993.4 148.8C993.3 148.6 993.2 148.4 993.1 148.3C993.1 148.1 993 147.9 993 147.7C993 147.5 993.1 147.3 993.1 147.2C993.2 147 993.3 146.8 993.4 146.6C993.5 146.5 993.7 146.3 993.9 146.1C994.1 146 994.3 145.8 994.5 145.7C994.8 145.5 995 145.4 995.3 145.3C995.6 145.2 995.9 145.1 996.2 145C996.5 144.9 996.9 144.8 997.2 144.7C997.5 144.7 997.9 144.6 998.3 144.6C998.6 144.6 999 144.6 999.4 144.6C999.7 144.6 1000.1 144.6 1000.5 144.6C1000.8 144.6 1001.2 144.7 1001.5 144.7C1001.9 144.8 1002.2 144.9 1002.5 145C1002.8 145.1 1003.1 145.2 1003.4 145.3C1003.7 145.4 1004 145.5 1004.2 145.7C1004.4 145.8 1004.7 146 1004.8 146.1C1005 146.3 1005.2 146.5 1005.3 146.6C1005.4 146.8 1005.5 147 1005.6 147.2C1005.7 147.3 1005.7 147.5 1005.7 147.7Z"/>
<path d="M999.7 79.5C999.7 79.6 999.7 79.7 999.6 79.8C999.6 79.9 999.5 80 999.4 80.2C999.4 80.3 999.3 80.4 999.1 80.5C999 80.6 998.9 80.7 998.7 80.8C998.6 80.8 998.4 80.9 998.2 81C998 81.1 997.8 81.1 997.6 81.2C997.4 81.3 997.2 81.3 997 81.4C996.7 81.4 996.5 81.4 996.3 81.4C996 81.5 995.8 81.5 995.5 81.5C995.3 81.5 995 81.5 994.8 81.4C994.6 81.4 994.3 81.4 994.1 81.4C993.9 81.3 993.7 81.3 993.5 81.2C993.2 81.1 993 81.1 992.9 81C992.7 80.9 992.5 80.8 992.3 80.8C992.2 80.7 992 80.6 991.9 80.5C991.8 80.4 991.7 80.3 991.6 80.2C991.5 80 991.5 79.9 991.4 79.8C991.4 79.7 991.4 79.6 991.4 79.5C991.4 79.4 991.4 79.2 991.4 79.1C991.5 79 991.5 78.9 991.6 78.8C991.7 78.7 991.8 78.6 991.9 78.5C992 78.4 992.2 78.3 992.3 78.2C992.5 78.1 992.7 78 992.9 77.9C993 77.9 993.2 77.8 993.5 77.7C993.7 77.7 993.9 77.6 994.1 77.6C994.3 77.6 994.6 77.5 994.8 77.5C995 77.5 995.3 77.5 995.5 77.5C995.8 77.5 996 77.5 996.3 77.5C996.5 77.5 996.7 77.6 997 77.6C997.2 77.6 997.4 77.7 997.6 77.7C997.8 77.8 998 77.9 998.2 77.9C998.4 78 998.6 78.1 998.7 78.2C998.9 78.3 999 78.4 999.1 78.5C999.3 78.6 999.4 78.7 999.4 78.8C999.5 78.9 999.6 79 999.6 79.1C999.7 79.2 999.7 79.4 999.7 79.5Z"/>
<path d="M945.6 115.8C945.6 115.9 945.6 116 945.5 116.1C945.5 116.2 945.4 116.3 945.3 116.4C945.3 116.6 945.2 116.7 945 116.8C944.9 116.9 944.8 117 944.6 117C944.5 117.1 944.3 117.2 944.1 117.3C943.9 117.4 943.7 117.4 943.5 117.5C943.3 117.5 943.1 117.6 942.9 117.6C942.6 117.7 942.4 117.7 942.2 117.7C941.9 117.7 941.7 117.8 941.4 117.8C941.2 117.8 941 117.7 940.7 117.7C940.5 117.7 940.2 117.7 940 117.6C939.8 117.6 939.6 117.5 939.4 117.5C939.1 117.4 938.9 117.4 938.8 117.3C938.6 117.2 938.4 117.1 938.3 117C938.1 117 938 116.9 937.8 116.8C937.7 116.7 937.6 116.6 937.5 116.4C937.4 116.3 937.4 116.2 937.3 116.1C937.3 116 937.3 115.9 937.3 115.8C937.3 115.6 937.3 115.5 937.3 115.4C937.4 115.3 937.4 115.2 937.5 115.1C937.6 115 937.7 114.9 937.8 114.8C938 114.7 938.1 114.6 938.3 114.5C938.4 114.4 938.6 114.3 938.8 114.2C938.9 114.2 939.1 114.1 939.4 114C939.6 114 939.8 113.9 940 113.9C940.2 113.8 940.5 113.8 940.7 113.8C941 113.8 941.2 113.8 941.4 113.8C941.7 113.8 941.9 113.8 942.2 113.8C942.4 113.8 942.6 113.8 942.9 113.9C943.1 113.9 943.3 114 943.5 114C943.7 114.1 943.9 114.2 944.1 114.2C944.3 114.3 944.5 114.4 944.6 114.5C944.8 114.6 944.9 114.7 945 114.8C945.2 114.9 945.3 115 945.3 115.1C945.4 115.2 945.5 115.3 945.5 115.4C945.6 115.5 945.6 115.6 945.6 115.8Z"/>
<path d="M888.7 151.5C888.7 151.7 888.7 151.8 888.6 151.9C888.6 152 888.5 152.1 888.4 152.2C888.3 152.3 888.2 152.4 888.1 152.5C888 152.6 887.9 152.7 887.7 152.8C887.5 152.9 887.4 153 887.2 153.1C887 153.1 886.8 153.2 886.6 153.3C886.4 153.3 886.2 153.4 885.9 153.4C885.7 153.5 885.5 153.5 885.2 153.5C885 153.5 884.8 153.5 884.5 153.5C884.3 153.5 884 153.5 883.8 153.5C883.6 153.5 883.3 153.5 883.1 153.4C882.9 153.4 882.6 153.3 882.4 153.3C882.2 153.2 882 153.1 881.8 153.1C881.7 153 881.5 152.9 881.3 152.8C881.2 152.7 881 152.6 880.9 152.5C880.8 152.4 880.7 152.3 880.6 152.2C880.5 152.1 880.5 152 880.4 151.9C880.4 151.8 880.4 151.7 880.4 151.5C880.4 151.4 880.4 151.3 880.4 151.2C880.5 151.1 880.5 151 880.6 150.9C880.7 150.8 880.8 150.6 880.9 150.5C881 150.4 881.2 150.3 881.3 150.3C881.5 150.2 881.7 150.1 881.8 150C882 149.9 882.2 149.9 882.4 149.8C882.6 149.8 882.9 149.7 883.1 149.7C883.3 149.6 883.6 149.6 883.8 149.6C884 149.6 884.3 149.5 884.5 149.5C884.8 149.5 885 149.6 885.2 149.6C885.5 149.6 885.7 149.6 885.9 149.7C886.2 149.7 886.4 149.8 886.6 149.8C886.8 149.9 887 149.9 887.2 150C887.4 150.1 887.5 150.2 887.7 150.3C887.9 150.3 888 150.4 888.1 150.5C888.2 150.6 888.3 150.8 888.4 150.9C888.5 151 888.6 151.1 888.6 151.2C888.7 151.3 888.7 151.4 888.7 151.5Z"/>
<path d="M831.6 188.5C831.6 188.6 831.6 188.7 831.5 188.8C831.5 189 831.4 189.1 831.3 189.2C831.3 189.3 831.1 189.4 831 189.5C830.9 189.6 830.8 189.7 830.6 189.8C830.5 189.9 830.3 190 830.1 190C829.9 190.1 829.7 190.2 829.5 190.2C829.3 190.3 829.1 190.3 828.8 190.4C828.6 190.4 828.4 190.4 828.1 190.5C827.9 190.5 827.7 190.5 827.4 190.5C827.2 190.5 826.9 190.5 826.7 190.5C826.5 190.4 826.2 190.4 826 190.4C825.8 190.3 825.6 190.3 825.3 190.2C825.1 190.2 824.9 190.1 824.7 190C824.6 190 824.4 189.9 824.2 189.8C824.1 189.7 823.9 189.6 823.8 189.5C823.7 189.4 823.6 189.3 823.5 189.2C823.4 189.1 823.4 189 823.3 188.8C823.3 188.7 823.3 188.6 823.3 188.5C823.3 188.4 823.3 188.3 823.3 188.1C823.4 188 823.4 187.9 823.5 187.8C823.6 187.7 823.7 187.6 823.8 187.5C823.9 187.4 824.1 187.3 824.2 187.2C824.4 187.1 824.6 187 824.7 187C824.9 186.9 825.1 186.8 825.3 186.8C825.6 186.7 825.8 186.7 826 186.6C826.2 186.6 826.5 186.5 826.7 186.5C826.9 186.5 827.2 186.5 827.4 186.5C827.7 186.5 827.9 186.5 828.1 186.5C828.4 186.5 828.6 186.6 828.8 186.6C829.1 186.7 829.3 186.7 829.5 186.8C829.7 186.8 829.9 186.9 830.1 187C830.3 187 830.5 187.1 830.6 187.2C830.8 187.3 830.9 187.4 831 187.5C831.1 187.6 831.3 187.7 831.3 187.8C831.4 187.9 831.5 188 831.5 188.1C831.6 188.3 831.6 188.4 831.6 188.5Z"/>
<path d="M1041.6 112.1C1041.6 112.3 1041.6 112.5 1041.5 112.6C1041.5 112.8 1041.4 113 1041.3 113.2C1041.1 113.4 1041 113.5 1040.8 113.7C1040.6 113.8 1040.4 114 1040.2 114.1C1039.9 114.3 1039.7 114.4 1039.4 114.5C1039.1 114.6 1038.8 114.7 1038.5 114.8C1038.2 114.9 1037.8 115 1037.5 115.1C1037.1 115.1 1036.8 115.2 1036.4 115.2C1036.1 115.2 1035.7 115.3 1035.3 115.3C1035 115.3 1034.6 115.2 1034.2 115.2C1033.9 115.2 1033.5 115.1 1033.2 115.1C1032.8 115 1032.5 114.9 1032.2 114.8C1031.8 114.7 1031.5 114.6 1031.3 114.5C1031 114.4 1030.7 114.3 1030.5 114.1C1030.2 114 1030 113.8 1029.8 113.7C1029.7 113.5 1029.5 113.4 1029.4 113.2C1029.3 113 1029.2 112.8 1029.1 112.6C1029 112.5 1029 112.3 1029 112.1C1029 111.9 1029 111.7 1029.1 111.5C1029.2 111.4 1029.3 111.2 1029.4 111C1029.5 110.8 1029.7 110.7 1029.8 110.5C1030 110.4 1030.2 110.2 1030.5 110.1C1030.7 109.9 1031 109.8 1031.3 109.7C1031.5 109.6 1031.8 109.4 1032.2 109.4C1032.5 109.3 1032.8 109.2 1033.2 109.1C1033.5 109.1 1033.9 109 1034.2 109C1034.6 109 1035 108.9 1035.3 108.9C1035.7 108.9 1036.1 109 1036.4 109C1036.8 109 1037.1 109.1 1037.5 109.1C1037.8 109.2 1038.2 109.3 1038.5 109.4C1038.8 109.4 1039.1 109.6 1039.4 109.7C1039.7 109.8 1039.9 109.9 1040.2 110.1C1040.4 110.2 1040.6 110.4 1040.8 110.5C1041 110.7 1041.1 110.8 1041.3 111C1041.4 111.2 1041.5 111.4 1041.5 111.5C1041.6 111.7 1041.6 111.9 1041.6 112.1Z"/>
<path d="M1059 111.3C1059 111.4 1058.9 111.6 1058.9 111.8C1058.8 112 1058.7 112.2 1058.6 112.3C1058.4 112.5 1058.3 112.7 1058.1 112.8C1057.9 113 1057.7 113.2 1057.5 113.3C1057.2 113.4 1057 113.6 1056.7 113.7C1056.4 113.8 1056.1 113.9 1055.8 114C1055.5 114.1 1055.1 114.2 1054.8 114.2C1054.4 114.3 1054.1 114.3 1053.7 114.4C1053.4 114.4 1053 114.4 1052.6 114.4C1052.3 114.4 1051.9 114.4 1051.5 114.4C1051.2 114.3 1050.8 114.3 1050.5 114.2C1050.1 114.2 1049.8 114.1 1049.5 114C1049.2 113.9 1048.8 113.8 1048.6 113.7C1048.3 113.6 1048 113.4 1047.8 113.3C1047.5 113.2 1047.3 113 1047.2 112.8C1047 112.7 1046.8 112.5 1046.7 112.3C1046.6 112.2 1046.5 112 1046.4 111.8C1046.3 111.6 1046.3 111.4 1046.3 111.3C1046.3 111.1 1046.3 110.9 1046.4 110.7C1046.5 110.5 1046.6 110.4 1046.7 110.2C1046.8 110 1047 109.8 1047.2 109.7C1047.3 109.5 1047.5 109.4 1047.8 109.2C1048 109.1 1048.3 109 1048.6 108.8C1048.8 108.7 1049.2 108.6 1049.5 108.5C1049.8 108.4 1050.1 108.4 1050.5 108.3C1050.8 108.2 1051.2 108.2 1051.5 108.2C1051.9 108.1 1052.3 108.1 1052.6 108.1C1053 108.1 1053.4 108.1 1053.7 108.2C1054.1 108.2 1054.4 108.2 1054.8 108.3C1055.1 108.4 1055.5 108.4 1055.8 108.5C1056.1 108.6 1056.4 108.7 1056.7 108.8C1057 109 1057.2 109.1 1057.5 109.2C1057.7 109.4 1057.9 109.5 1058.1 109.7C1058.3 109.8 1058.4 110 1058.6 110.2C1058.7 110.4 1058.8 110.5 1058.9 110.7C1058.9 110.9 1059 111.1 1059 111.3Z"/>
<path d="M1027.5 120.8C1027.5 122 1027.3 123.3 1026.9 124.6C1026.5 125.9 1025.9 127.1 1025.1 128.3C1024.3 129.5 1023.3 130.7 1022.2 131.8C1021 132.9 1019.7 134 1018.2 135C1016.8 136 1015.1 136.9 1013.3 137.7C1011.6 138.5 1009.7 139.3 1007.7 139.9C1005.7 140.6 1003.6 141.1 1001.4 141.6C999.3 142 997 142.3 994.8 142.6C992.5 142.8 990.2 142.9 987.9 142.9C985.6 142.9 983.3 142.8 981 142.6C978.7 142.3 976.5 142 974.3 141.6C972.2 141.1 970.1 140.6 968.1 139.9C966.1 139.3 964.2 138.5 962.4 137.7C960.7 136.9 959 136 957.5 135C956.1 134 954.7 132.9 953.6 131.8C952.4 130.7 951.4 129.5 950.7 128.3C949.9 127.1 949.3 125.9 948.9 124.6C948.5 123.3 948.3 122 948.3 120.8C948.3 119.5 948.5 118.2 948.9 116.9C949.3 115.6 949.9 114.4 950.7 113.2C951.4 112 952.4 110.8 953.6 109.7C954.7 108.6 956.1 107.5 957.5 106.5C959 105.5 960.7 104.6 962.4 103.8C964.2 103 966.1 102.2 968.1 101.6C970.1 100.9 972.2 100.4 974.3 100C976.5 99.5 978.7 99.2 981 99C983.3 98.7 985.6 98.6 987.9 98.6C990.2 98.6 992.5 98.7 994.8 99C997 99.2 999.3 99.5 1001.4 100C1003.6 100.4 1005.7 100.9 1007.7 101.6C1009.7 102.2 1011.6 103 1013.3 103.8C1015.1 104.6 1016.8 105.5 1018.2 106.5C1019.7 107.5 1021 108.6 1022.2 109.7C1023.3 110.8 1024.3 112 1025.1 113.2C1025.9 114.4 1026.5 115.6 1026.9 116.9C1027.3 118.2 1027.5 119.5 1027.5 120.8Z"/>
<path d="M949.1 119.9C950.1 118.5 951.7 113.8 954.9 111.6C958.1 109.4 963.2 107.8 968.2 106.6C973.2 105.4 979.3 104.7 984.9 104.6C990.4 104.6 996.5 105.1 1001.5 106.3C1006.5 107.4 1011.1 109.3 1014.8 111.6C1018.6 113.9 1022.1 117.7 1024 119.9C1025.9 122.1 1026.1 124.1 1026.5 124.9"/>
<path d="M991.2 104.9L998.5 142.4"/>
<path d="M899.3 242.5C900.1 243.4 902.2 246 904.3 247.9C906.4 249.9 909.5 252.5 911.8 254.2C914.2 255.9 916.7 256.6 918.5 258C920.3 259.4 921 260.7 922.7 262.6C924.4 264.4 926.9 266.9 928.5 269.2C930.2 271.6 931.3 274.1 932.7 276.8C934.1 279.4 935.6 282.6 936.9 285.1C938.1 287.6 939.3 289.3 940.2 291.8C941.2 294.3 942.3 298.8 942.7 300.2"/>
<path d="M901 254.2C902.1 254.8 905.4 255.9 907.6 257.5C909.9 259.2 912.1 262 914.3 264.2C916.6 266.5 919.2 268.7 921 270.9C922.8 273.1 923.8 275.2 925.2 277.6C926.6 280 928.1 282.6 929.4 285.1C930.6 287.6 931.7 290.1 932.7 292.6C933.7 295.1 934.4 297.5 935.2 300.2C936 302.8 936.9 305.4 937.7 308.5C938.6 311.6 939 315.1 940.2 318.9C941.4 322.8 944.2 329.4 945 331.5"/>
<path d="M900.1 260.9C901.5 262 905.8 265.2 908.5 267.6C911.1 269.9 913.9 272.6 916 275.1C918.1 277.6 919.5 280.4 921 282.6C922.5 284.8 924.1 286.5 925.2 288.5C926.3 290.4 927.3 293.3 927.7 294.3"/>
<path d="M875.1 272.6C875.5 271.9 876.2 269.4 877.6 268.4C879 267.4 881.3 267 883.4 266.7C885.5 266.5 887.9 266.4 890.1 266.7C892.3 267.1 894.7 268 896.8 268.8C898.9 269.7 900.5 270.3 902.6 271.7C904.7 273.2 907.4 275.6 909.3 277.6C911.3 279.5 913.1 281.4 914.3 283.4C915.6 285.5 915.9 287.8 916.8 290.1C917.8 292.5 919.3 295.4 920.2 297.6C921 299.9 921.6 300.8 921.8 303.5C922.1 306.1 921.8 310.9 921.4 313.5C921 316.1 919.7 318 919.3 318.9"/>
<path d="M902.6 271.7C902.6 273 902.2 276.8 902.6 279.3C903 281.8 904.2 284.4 905.1 286.8C906.1 289.2 907.4 291.8 908.5 293.5C909.6 295.1 910.4 295.7 911.8 296.8C913.2 297.9 915.3 299 916.8 300.2C918.4 301.3 920.3 302.9 921 303.5"/>
<path d="M894.3 268.4C894.4 269.9 894.6 274.5 895.1 277.6C895.7 280.7 896.6 283.9 897.6 286.8C898.6 289.7 899.4 292.5 901 295.1C902.5 297.8 904.7 300.4 906.8 302.7C908.9 304.9 911.1 307 913.5 308.5C915.9 310 920.1 311.3 921.4 311.8"/>
<path d="M886.3 266.7C886.3 267.8 886.1 270.9 885.9 273.4C885.8 275.9 885.4 279.3 885.5 281.8C885.6 284.3 886.3 286.5 886.8 288.5C887.2 290.4 888.2 292.6 888.4 293.5"/>
<path d="M875.1 272.6C874.7 273.7 873.4 276.9 873 279.3C872.5 281.6 872.3 284.3 872.4 286.8C872.5 289.3 872.9 291.9 873.4 294.3C873.9 296.7 875.1 300.2 875.5 301.4"/>
<path d="M898 308.1C898.9 308.9 901.4 311.3 903.5 312.7C905.5 314.1 907.9 315.5 910.2 316.4C912.4 317.3 915.2 317.8 916.8 318.1C918.5 318.4 919.6 318.1 920.2 318.1"/>
<path d="M890.2 260.2C890.3 260.6 890.3 260.9 890.3 261.2C890.3 261.5 890.3 261.9 890.3 262.2C890.3 262.5 890.3 262.8 890.2 263.1C890.1 263.4 890.1 263.7 890 264C889.9 264.3 889.8 264.5 889.6 264.8C889.5 265 889.4 265.2 889.2 265.4C889.1 265.6 888.9 265.8 888.7 265.9C888.5 266.1 888.3 266.2 888.1 266.3C887.9 266.4 887.7 266.4 887.5 266.5C887.3 266.5 887.1 266.5 886.8 266.5C886.6 266.5 886.4 266.4 886.2 266.4C885.9 266.3 885.7 266.2 885.5 266.1C885.3 265.9 885.1 265.8 884.9 265.6C884.7 265.4 884.5 265.2 884.3 265C884.1 264.8 884 264.5 883.8 264.2C883.6 264 883.5 263.7 883.4 263.4C883.2 263.1 883.1 262.8 883 262.5C882.9 262.2 882.9 261.9 882.8 261.5C882.7 261.2 882.7 260.9 882.7 260.6C882.7 260.2 882.7 259.9 882.7 259.6C882.7 259.3 882.8 259 882.8 258.7C882.9 258.4 882.9 258.1 883 257.8C883.1 257.5 883.2 257.3 883.4 257C883.5 256.8 883.6 256.6 883.8 256.4C884 256.2 884.1 256 884.3 255.9C884.5 255.7 884.7 255.6 884.9 255.5C885.1 255.4 885.3 255.3 885.5 255.3C885.7 255.3 886 255.2 886.2 255.3C886.4 255.3 886.6 255.3 886.8 255.4C887.1 255.5 887.3 255.6 887.5 255.7C887.7 255.8 887.9 256 888.1 256.2C888.3 256.4 888.5 256.6 888.7 256.8C888.9 257 889.1 257.3 889.2 257.5C889.4 257.8 889.5 258.1 889.6 258.4C889.8 258.7 889.9 259 890 259.3C890.1 259.6 890.2 259.9 890.2 260.2Z"/>
<path d="M874.2 240.4L881.7 245.4C881.7 247.2 882.1 252.7 881.7 255.9C881.4 259 880.8 261.4 879.7 264.2C878.5 267 875.8 271.2 875.1 272.6"/>
<path d="M874.2 240.4L873.8 260.1C873.4 260.5 871.8 261.4 871.3 262.6C870.8 263.7 870.7 265.8 870.9 266.7C871.1 267.7 872.3 268.1 872.6 268.4"/>
<path d="M865.5 307.7C865.5 307.1 865.1 305.2 865.5 304.3C865.8 303.4 866.3 302.6 867.5 302.2C868.8 301.9 872.1 302.2 873 302.2"/>
<path d="M883.8 316L886.8 318.9"/>
<path d="M797.2 275.5C796.4 275.1 794.4 273.8 792.6 273C790.7 272.1 787.7 270.9 785.9 270.5C784.1 270 783 269.9 781.7 270.5C780.5 271 779.1 272.5 778.4 273.8C777.6 275.1 777.2 276.9 777.1 278.4C777 279.9 777.8 281.9 777.9 282.6C780 284 787.5 289.5 790.1 291.3C792.6 293.2 791.6 292.7 793.4 293.4C795.2 294.1 799.7 295.2 800.9 295.5"/>
<path d="M797.6 255L797.2 275.5C797.4 276.1 797.7 277.9 798.4 279.2C799.1 280.5 800.9 282.7 801.3 283.4L801.3 306"/>
<path d="M790.1 291.3L784.2 296.8L777.5 303L777.5 326L781.3 330.2L781.7 333.9"/>
<path d="M792.7 300.1C792.8 300.4 792.8 300.6 792.9 300.8C792.9 301 793 301.3 793 301.5C793 301.7 793.1 301.9 793.1 302.1C793.1 302.4 793.1 302.6 793 302.8C793 303 793 303.1 792.9 303.3C792.9 303.5 792.8 303.7 792.8 303.8C792.7 304 792.6 304.1 792.5 304.2C792.4 304.3 792.3 304.4 792.2 304.5C792.1 304.6 792 304.7 791.9 304.7C791.7 304.8 791.6 304.8 791.4 304.8C791.3 304.8 791.2 304.8 791 304.8C790.9 304.7 790.7 304.7 790.6 304.6C790.4 304.5 790.3 304.5 790.1 304.3C790 304.2 789.8 304.1 789.7 304C789.5 303.8 789.4 303.7 789.3 303.5C789.1 303.4 789 303.2 788.9 303C788.8 302.8 788.7 302.6 788.6 302.4C788.5 302.2 788.4 302 788.3 301.7C788.2 301.5 788.1 301.3 788.1 301.1C788 300.9 788 300.6 787.9 300.4C787.9 300.2 787.9 300 787.9 299.8C787.9 299.5 787.9 299.3 787.9 299.1C787.9 298.9 788 298.8 788 298.6C788.1 298.4 788.1 298.2 788.2 298.1C788.3 297.9 788.3 297.8 788.4 297.7C788.5 297.6 788.6 297.5 788.7 297.4C788.9 297.3 789 297.2 789.1 297.2C789.2 297.1 789.4 297.1 789.5 297.1C789.7 297.1 789.8 297.1 789.9 297.1C790.1 297.2 790.2 297.2 790.4 297.3C790.5 297.4 790.7 297.4 790.8 297.5C791 297.7 791.1 297.8 791.3 297.9C791.4 298.1 791.6 298.2 791.7 298.4C791.8 298.5 792 298.7 792.1 298.9C792.2 299.1 792.3 299.3 792.4 299.5C792.5 299.7 792.6 299.9 792.7 300.1Z"/>
<path d="M791.7 311.8L795.9 306L800.1 305.1L804.3 308.5L807.6 313.5L807.6 321L805.1 324.3L796.7 324.3L792.6 321.4L792.6 333.9"/>
<path d="M803.2 313.2C803.4 313.7 803.6 314.1 803.7 314.6C803.8 315 803.9 315.5 804 316C804.1 316.4 804.1 316.9 804.1 317.3C804.2 317.8 804.1 318.2 804.1 318.6C804.1 319.1 804 319.5 803.9 319.8C803.8 320.2 803.7 320.6 803.5 320.9C803.4 321.2 803.2 321.5 803 321.8C802.8 322 802.6 322.3 802.3 322.4C802.1 322.6 801.8 322.8 801.5 322.9C801.3 323 801 323.1 800.7 323.1C800.4 323.1 800 323.1 799.7 323.1C799.4 323 799.1 323 798.7 322.8C798.4 322.7 798.1 322.5 797.7 322.3C797.4 322.1 797.1 321.9 796.7 321.6C796.4 321.3 796.1 321 795.8 320.7C795.5 320.4 795.2 320 795 319.6C794.7 319.2 794.5 318.8 794.2 318.4C794 318 793.8 317.5 793.6 317.1C793.4 316.6 793.3 316.2 793.1 315.7C793 315.3 792.9 314.8 792.8 314.3C792.8 313.9 792.7 313.4 792.7 313C792.7 312.5 792.7 312.1 792.7 311.7C792.8 311.2 792.8 310.8 792.9 310.5C793 310.1 793.2 309.7 793.3 309.4C793.5 309.1 793.6 308.8 793.8 308.5C794 308.3 794.3 308 794.5 307.9C794.7 307.7 795 307.5 795.3 307.4C795.6 307.3 795.9 307.2 796.2 307.2C796.5 307.2 796.8 307.2 797.1 307.2C797.4 307.3 797.8 307.3 798.1 307.5C798.4 307.6 798.8 307.8 799.1 308C799.4 308.2 799.8 308.4 800.1 308.7C800.4 309 800.7 309.3 801 309.6C801.3 309.9 801.6 310.3 801.9 310.7C802.1 311.1 802.4 311.5 802.6 311.9C802.8 312.3 803 312.8 803.2 313.2Z"/>
<path d="M791.7 311.8L792.6 321.4"/>
<path d="M814.7 333.9L814.3 277.6C814.7 276.9 815.8 274.7 816.8 273.8C817.8 272.9 819 271.9 820.1 272.1C821.3 272.3 822.9 274.6 823.5 275.1C823.8 276 825.2 271.1 825.6 280.9C825.9 290.7 825.6 325.1 825.6 333.9"/>
<path d="M800.8 200L800 210.8C799.3 211.2 796.7 211 795.8 213.3C794.9 215.7 794.8 223 794.6 225C795.3 226.2 798.1 227.5 798.6 232.5C799.1 237.5 797.8 251.2 797.6 254.9"/>
<path d="M825.6 334L825.8 341.5"/>
<path d="M806.6 202.5L813.3 215.8C815.5 216.1 823.3 216.5 826.6 217.5C829.9 218.4 832.1 220.9 833.2 221.6C834.6 224.4 839.8 233.8 841.6 238.3C843.4 242.7 842.7 245.2 844.1 248.3C845.5 251.3 848.6 253.8 849.9 256.6C851.1 259.4 851.8 262.8 851.6 264.9C851.3 267 848.8 268.4 848.2 269.1C843.5 269.2 825.9 270.6 819.9 269.9C814 269.2 814.8 268 812.4 264.9C810.1 261.9 807.7 256 805.8 251.6C803.8 247.2 801.9 241.3 800.8 238.3C799.7 235.2 799.4 234.1 799.1 233.3"/>
<path d="M810.8 225C812.3 224.7 817 222.7 819.9 223.3C822.8 223.9 825.6 225.5 828.3 228.3C830.9 231.1 834.2 235.2 835.7 239.9C837.3 244.7 837.5 252.7 837.4 256.6C837.3 260.5 837.3 262.2 834.9 263.2C832.6 264.3 825.9 263.6 823.3 262.9C820.6 262.2 820.5 261 819.1 259.1C817.7 257.2 816.5 254.8 814.9 251.6C813.4 248.4 811 243.6 809.9 239.9C808.9 236.3 808.5 232.5 808.6 230C808.8 227.5 810.4 225.8 810.8 225"/>
<path d="M806.6 202.5L809.1 201.3L879.9 233.3"/>
<path d="M849.1 216.6C849.2 218 849.2 222.7 849.9 225C850.6 227.2 852.7 229.1 853.2 230C857.7 232.3 875.1 240.8 879.9 244.1C884.6 247.4 881.2 249 881.5 249.9"/>
<path d="M814.9 209.2L815.8 215"/>
<path d="M873.2 220C873.2 220.1 873.2 220.3 873.1 220.5C873 220.6 873 220.8 872.8 220.9C872.7 221.1 872.6 221.2 872.4 221.4C872.2 221.5 872 221.7 871.8 221.8C871.6 221.9 871.4 222 871.1 222.1C870.9 222.2 870.6 222.3 870.3 222.4C870 222.5 869.7 222.6 869.4 222.6C869 222.7 868.7 222.7 868.4 222.8C868 222.8 867.7 222.8 867.4 222.8C867 222.8 866.7 222.8 866.4 222.8C866 222.7 865.7 222.7 865.4 222.6C865.1 222.6 864.7 222.5 864.5 222.4C864.2 222.3 863.9 222.2 863.6 222.1C863.4 222 863.1 221.9 862.9 221.8C862.7 221.7 862.5 221.5 862.3 221.4C862.2 221.2 862 221.1 861.9 220.9C861.8 220.8 861.7 220.6 861.6 220.5C861.6 220.3 861.5 220.1 861.5 220C861.5 219.8 861.6 219.6 861.6 219.5C861.7 219.3 861.8 219.2 861.9 219C862 218.9 862.2 218.7 862.3 218.6C862.5 218.4 862.7 218.3 862.9 218.2C863.1 218 863.4 217.9 863.6 217.8C863.9 217.7 864.2 217.6 864.5 217.5C864.7 217.4 865.1 217.4 865.4 217.3C865.7 217.3 866 217.2 866.4 217.2C866.7 217.2 867 217.1 867.4 217.1C867.7 217.1 868 217.2 868.4 217.2C868.7 217.2 869 217.3 869.4 217.3C869.7 217.4 870 217.4 870.3 217.5C870.6 217.6 870.9 217.7 871.1 217.8C871.4 217.9 871.6 218 871.8 218.2C872 218.3 872.2 218.4 872.4 218.6C872.6 218.7 872.7 218.9 872.8 219C873 219.2 873 219.3 873.1 219.5C873.2 219.6 873.2 219.8 873.2 220Z"/>
<path d="M891.2 220C891.2 220.1 891.1 220.3 891.1 220.5C891 220.6 890.9 220.8 890.8 220.9C890.7 221.1 890.5 221.2 890.3 221.4C890.1 221.5 889.9 221.7 889.7 221.8C889.5 221.9 889.2 222 888.9 222.1C888.6 222.2 888.3 222.3 888 222.4C887.7 222.5 887.4 222.6 887 222.6C886.7 222.7 886.3 222.7 885.9 222.8C885.6 222.8 885.2 222.8 884.8 222.8C884.5 222.8 884.1 222.8 883.7 222.8C883.4 222.7 883 222.7 882.7 222.6C882.3 222.6 882 222.5 881.7 222.4C881.4 222.3 881.1 222.2 880.8 222.1C880.5 222 880.2 221.9 880 221.8C879.8 221.7 879.6 221.5 879.4 221.4C879.2 221.2 879 221.1 878.9 220.9C878.8 220.8 878.7 220.6 878.6 220.5C878.6 220.3 878.5 220.1 878.5 220C878.5 219.8 878.6 219.6 878.6 219.5C878.7 219.3 878.8 219.2 878.9 219C879 218.9 879.2 218.7 879.4 218.6C879.6 218.4 879.8 218.3 880 218.2C880.2 218 880.5 217.9 880.8 217.8C881.1 217.7 881.4 217.6 881.7 217.5C882 217.4 882.3 217.4 882.7 217.3C883 217.3 883.4 217.2 883.7 217.2C884.1 217.2 884.5 217.1 884.8 217.1C885.2 217.1 885.6 217.2 885.9 217.2C886.3 217.2 886.7 217.3 887 217.3C887.4 217.4 887.7 217.4 888 217.5C888.3 217.6 888.6 217.7 888.9 217.8C889.2 217.9 889.5 218 889.7 218.2C889.9 218.3 890.1 218.4 890.3 218.6C890.5 218.7 890.7 218.9 890.8 219C890.9 219.2 891 219.3 891.1 219.5C891.1 219.6 891.2 219.8 891.2 220Z"/>
<path d="M849.9 225C850.2 227.7 850.7 236.6 851.6 241.6C852.4 246.6 853.4 252.2 854.9 254.9C856.4 257.7 859 259.1 860.7 258.3C862.4 257.4 864 253.5 864.9 249.9C865.7 246.3 865.6 238.8 865.7 236.6"/>
<path d="M881.2 232.5L881.2 238.6L889 242.4L889 248.3L894 250.8L903.2 246.6L899 244.1L899 237.5L894 234.1"/>
<path d="M889 242.4L899 237.5"/>
<path d="M894 250.8L894 266.6"/>
<path d="M851.6 269.1L861.5 270.2"/>
<path d="M881.8 332.6C881.9 333 882 333.5 882.1 333.9C882.2 334.4 882.2 334.8 882.2 335.3C882.2 335.7 882.2 336.2 882.2 336.6C882.1 337 882 337.5 881.9 337.9C881.8 338.3 881.7 338.6 881.5 339C881.4 339.3 881.2 339.7 881 340C880.8 340.3 880.5 340.5 880.3 340.8C880 341 879.8 341.2 879.5 341.3C879.2 341.5 878.9 341.6 878.6 341.7C878.3 341.8 878 341.8 877.6 341.8C877.3 341.8 877 341.8 876.7 341.7C876.3 341.7 876 341.5 875.7 341.4C875.3 341.2 875 341 874.7 340.8C874.4 340.6 874.1 340.3 873.8 340C873.5 339.7 873.2 339.4 873 339.1C872.7 338.7 872.5 338.4 872.2 338C872 337.6 871.8 337.2 871.7 336.7C871.5 336.3 871.3 335.9 871.2 335.4C871.1 335 871 334.5 870.9 334C870.9 333.6 870.8 333.1 870.8 332.7C870.8 332.2 870.8 331.8 870.9 331.4C870.9 330.9 871 330.5 871.1 330.1C871.2 329.7 871.4 329.3 871.5 329C871.7 328.6 871.9 328.3 872.1 328C872.3 327.7 872.5 327.5 872.8 327.2C873 327 873.3 326.8 873.6 326.6C873.8 326.5 874.1 326.4 874.5 326.3C874.8 326.2 875.1 326.1 875.4 326.1C875.7 326.1 876.1 326.2 876.4 326.3C876.7 326.3 877.1 326.4 877.4 326.6C877.7 326.7 878 326.9 878.4 327.2C878.7 327.4 879 327.6 879.3 327.9C879.5 328.2 879.8 328.6 880.1 328.9C880.3 329.2 880.6 329.6 880.8 330C881 330.4 881.2 330.8 881.4 331.2C881.6 331.7 881.7 332.1 881.8 332.6Z"/>
<path d="M897.2 331.9C897.3 332.3 897.4 332.7 897.4 333.1C897.5 333.6 897.5 334 897.5 334.4C897.5 334.8 897.5 335.3 897.5 335.7C897.4 336.1 897.4 336.4 897.3 336.8C897.2 337.2 897.1 337.5 896.9 337.9C896.8 338.2 896.6 338.5 896.4 338.8C896.2 339 896 339.3 895.8 339.5C895.6 339.7 895.3 339.9 895.1 340.1C894.8 340.2 894.6 340.3 894.3 340.4C894 340.5 893.7 340.5 893.4 340.5C893.1 340.5 892.8 340.5 892.5 340.4C892.2 340.3 891.9 340.2 891.6 340.1C891.3 339.9 891 339.7 890.7 339.5C890.4 339.3 890.2 339.1 889.9 338.8C889.6 338.5 889.4 338.2 889.1 337.9C888.9 337.6 888.7 337.2 888.5 336.8C888.3 336.5 888.1 336.1 887.9 335.7C887.8 335.3 887.6 334.9 887.5 334.4C887.4 334 887.3 333.6 887.3 333.2C887.2 332.7 887.2 332.3 887.1 331.9C887.1 331.5 887.1 331.1 887.2 330.7C887.2 330.3 887.3 329.9 887.4 329.5C887.5 329.1 887.6 328.8 887.8 328.4C887.9 328.1 888.1 327.8 888.2 327.5C888.4 327.3 888.6 327 888.9 326.8C889.1 326.6 889.3 326.4 889.6 326.3C889.8 326.1 890.1 326 890.4 325.9C890.7 325.8 891 325.8 891.3 325.8C891.6 325.8 891.9 325.8 892.2 325.9C892.5 326 892.8 326.1 893.1 326.2C893.4 326.4 893.7 326.6 894 326.8C894.2 327 894.5 327.2 894.8 327.5C895.1 327.8 895.3 328.1 895.5 328.4C895.8 328.7 896 329.1 896.2 329.5C896.4 329.8 896.6 330.2 896.8 330.6C896.9 331 897 331.4 897.2 331.9Z"/>
<path d="M864 327.3L864 349.8"/>
<path d="M864 327.3L871.5 331.5"/>
<path d="M899.8 326.5L899.8 342.3L876.5 346.5L869.9 343.1"/>
<path d="M879.9 326.5L899.8 326.5"/>
<path d="M876.5 319.8L880.7 324.8"/>
<path d="M872.4 322.3L878.2 326.5"/>
<path d="M886.5 349.8L889.8 346.5L889.8 357.3"/>
<path d="M856.6 343.1C857.1 343.4 859.5 344.1 859.9 344.8C860.3 345.5 859.2 346.9 859 347.3"/>
<path d="M1060.6 126.2L1060.6 136.9L1041.1 146.6"/>
<path d="M1063.1 125.2L1074.4 141.6"/>
<path d="M1074.4 141.6L1084.8 136.6"/>
<path d="M1060.6 126.6L1070.6 143.2"/>
<path d="M1034.8 139.9L1033.2 143.2C1034.9 146 1041.4 152.5 1043.5 159.9C1045.6 167.2 1045 179 1045.6 187.3C1046.3 195.7 1047 206.1 1047.3 209.8"/>
<path d="M1041.1 146.6L1044.8 157.4L1070.6 144.9L1070.6 154.9"/>
<path d="M1034.8 139.9L1041.1 146.6"/>
<path d="M1084.1 175.9C1083.9 176.8 1083.7 177.7 1083.4 178.6C1083 179.5 1082.7 180.3 1082.2 181.1C1081.8 181.9 1081.3 182.7 1080.8 183.4C1080.2 184.1 1079.6 184.8 1079 185.4C1078.4 186 1077.7 186.5 1077 187C1076.3 187.5 1075.6 187.9 1074.9 188.2C1074.1 188.5 1073.4 188.8 1072.6 188.9C1071.9 189.1 1071.1 189.2 1070.3 189.2C1069.6 189.2 1068.8 189.1 1068.1 189C1067.3 188.8 1066.6 188.6 1065.9 188.3C1065.2 188 1064.6 187.6 1063.9 187.1C1063.3 186.6 1062.7 186.1 1062.2 185.5C1061.6 184.9 1061.1 184.3 1060.7 183.5C1060.3 182.8 1059.9 182.1 1059.6 181.3C1059.2 180.5 1059 179.6 1058.8 178.7C1058.6 177.9 1058.4 177 1058.4 176C1058.3 175.1 1058.3 174.2 1058.3 173.3C1058.4 172.3 1058.5 171.4 1058.7 170.5C1058.9 169.6 1059.2 168.7 1059.5 167.8C1059.8 166.9 1060.2 166.1 1060.7 165.2C1061.1 164.4 1061.6 163.7 1062.1 162.9C1062.7 162.2 1063.2 161.6 1063.9 161C1064.5 160.4 1065.2 159.8 1065.8 159.3C1066.5 158.9 1067.3 158.5 1068 158.2C1068.7 157.8 1069.5 157.6 1070.2 157.4C1071 157.3 1071.8 157.2 1072.5 157.2C1073.3 157.2 1074.1 157.2 1074.8 157.4C1075.5 157.5 1076.3 157.8 1076.9 158.1C1077.6 158.4 1078.3 158.8 1078.9 159.3C1079.6 159.7 1080.2 160.3 1080.7 160.9C1081.2 161.4 1081.7 162.1 1082.2 162.8C1082.6 163.5 1083 164.3 1083.3 165.1C1083.6 165.9 1083.9 166.8 1084.1 167.6C1084.3 168.5 1084.5 169.4 1084.5 170.3C1084.6 171.2 1084.6 172.2 1084.5 173.1C1084.5 174 1084.3 175 1084.1 175.9Z"/>
<path d="M1081.5 175.3C1081.4 176.1 1081.2 176.8 1080.9 177.6C1080.6 178.3 1080.3 179 1080 179.7C1079.6 180.3 1079.2 181 1078.8 181.6C1078.4 182.1 1077.9 182.7 1077.4 183.2C1076.9 183.7 1076.4 184.1 1075.8 184.5C1075.3 184.9 1074.7 185.3 1074.1 185.5C1073.5 185.8 1072.9 186 1072.3 186.2C1071.7 186.3 1071.1 186.4 1070.5 186.4C1069.9 186.4 1069.3 186.3 1068.7 186.2C1068.1 186.1 1067.5 185.9 1067 185.6C1066.4 185.4 1065.9 185.1 1065.4 184.7C1064.9 184.3 1064.4 183.9 1064 183.4C1063.6 182.9 1063.2 182.4 1062.8 181.8C1062.5 181.2 1062.2 180.6 1061.9 179.9C1061.7 179.3 1061.5 178.6 1061.3 177.8C1061.2 177.1 1061.1 176.4 1061 175.6C1061 174.9 1061 174.1 1061 173.3C1061.1 172.6 1061.2 171.8 1061.3 171C1061.5 170.3 1061.7 169.5 1062 168.8C1062.2 168.1 1062.5 167.4 1062.9 166.7C1063.3 166 1063.6 165.4 1064.1 164.8C1064.5 164.2 1065 163.7 1065.5 163.2C1066 162.7 1066.5 162.2 1067.1 161.8C1067.6 161.4 1068.2 161.1 1068.8 160.8C1069.4 160.6 1070 160.4 1070.6 160.2C1071.2 160.1 1071.8 160 1072.4 160C1073 160 1073.6 160 1074.2 160.2C1074.8 160.3 1075.4 160.5 1075.9 160.7C1076.5 161 1077 161.3 1077.5 161.7C1078 162.1 1078.5 162.5 1078.9 163C1079.3 163.5 1079.7 164 1080 164.6C1080.4 165.2 1080.7 165.8 1081 166.5C1081.2 167.1 1081.4 167.8 1081.6 168.5C1081.7 169.2 1081.8 170 1081.9 170.7C1081.9 171.5 1081.9 172.3 1081.9 173C1081.8 173.8 1081.7 174.6 1081.5 175.3Z"/>
<path d="M1045.6 187.3L1059.8 179.8"/>
<path d="M1073.1 188.2L1073.1 199.8"/>
<path d="M1075.1 187.8L1075.1 199.5"/>
<path d="M1060.6 196.5C1062.4 197.5 1069.4 201.8 1071.4 202.3C1073.5 202.9 1072.8 200.2 1073.1 199.8C1075.6 198.4 1086.1 195.7 1088.1 191.5C1090 187.3 1085.3 177.6 1084.8 174.8C1086.7 174.8 1094.7 173.5 1096.4 174.8C1098.1 176.2 1095 181.8 1094.7 183.2C1095.6 183.1 1094 185.3 1099.7 182.8C1105.4 180.4 1124 170.9 1128.9 168.5"/>
<path d="M1074.8 144.9L1076.4 151.5L1085.6 147.4"/>
<path d="M1090.6 151.2L1098.9 154.5L1093.9 156.5"/>
<path d="M1076.4 151.5C1077.5 152.9 1081.4 157.4 1083.1 159.9C1084.8 162.4 1084.2 164.2 1086.4 166.5C1088.6 168.9 1094.7 172.8 1096.4 174"/>
<path d="M1085.6 160.7L1099.7 154.9"/>
<path d="M1104.7 163.2L1114.7 157.4L1123 166.5L1123.9 169L1100.6 180.7"/>
<path d="M1114.7 151.2L1114.7 157.4"/>
<path d="M1103.1 191.5L1103.1 217.3"/>
<path d="M1111.4 184.8L1112.2 217.3"/>
<path d="M1118 179.8C1118.3 182.1 1118.3 190.1 1119.7 193.2C1121.1 196.2 1123.9 198.4 1126.4 198.1C1128.9 197.9 1133.3 192.6 1134.7 191.5"/>
<path d="M1071.4 202.3L1046.5 214"/>
<path d="M1048.1 159.9C1047.9 162.1 1046.2 169.3 1046.5 173.2C1046.7 177.1 1048.1 182.1 1049.8 183.2C1051.5 184.3 1055.3 180.4 1056.5 179.8"/>
<path d="M1011.8 245.9L1128.6 173.4"/>
<path d="M1113 218.3L1136 206.7"/>
<path d="M1124.7 230L1136 225"/>
<path d="M952.4 196.2L960.5 208.7L982.4 198.7"/>
<path d="M948.7 196.4L955.9 211.2"/>
<path d="M973.7 181.8L973.7 191.8L956.8 199.9"/>
<path d="M973.7 181.8L983 193.7"/>
<path d="M978.7 178.7L986.8 191.2L987.4 248"/>
<path d="M983 193.7L983 199.9"/>
<path d="M982.4 199.9L982.4 244.9"/>
<path d="M962.4 211.2L979.3 203.7L979.3 216.8L965.5 224.3"/>
<path d="M962.4 211.2L962.4 226.2"/>
<path d="M979.3 216.8L982.4 218"/>
<path d="M947.4 198.1L946.8 208.1L926.2 221.8"/>
<path d="M956.8 216.8L956.8 228.7"/>
<path d="M933.7 231.1L956.8 216.8"/>
<path d="M918.1 216.2L920 236.1L927.5 243.4L931.2 230.5C929.5 228.1 923.4 218.6 921.2 216.2C919 213.8 918.6 216.2 918.1 216.2"/>
<path d="M933.7 231.1L934.3 248.6L940 252.4L944.9 249.3C945.8 250.2 948.1 253.4 949.9 254.9C951.8 256.3 953.3 257.6 956.2 258C959.1 258.4 964.5 258.1 967.4 257.4C970.3 256.6 972.2 255.7 973.7 253.6C975.1 251.5 975.4 248.4 976.2 244.9C976.9 241.3 977.1 234.9 978 232.4C979 229.9 981.1 230.3 981.8 229.9"/>
<path d="M970.6 244.4C970.4 245.2 970.1 245.9 969.8 246.6C969.4 247.3 969 248 968.6 248.6C968.2 249.2 967.7 249.8 967.2 250.4C966.7 250.9 966.2 251.4 965.6 251.9C965 252.3 964.4 252.7 963.8 253.1C963.2 253.4 962.6 253.7 962 253.9C961.4 254.1 960.7 254.2 960.1 254.3C959.5 254.4 958.8 254.4 958.2 254.3C957.6 254.3 957 254.1 956.4 254C955.8 253.8 955.2 253.5 954.7 253.2C954.2 252.9 953.6 252.5 953.2 252.1C952.7 251.6 952.3 251.1 951.9 250.6C951.5 250.1 951.2 249.5 950.9 248.9C950.6 248.2 950.3 247.6 950.1 246.9C949.9 246.2 949.8 245.4 949.7 244.7C949.6 244 949.6 243.2 949.6 242.4C949.7 241.7 949.8 240.9 949.9 240.1C950 239.4 950.2 238.6 950.5 237.9C950.7 237.1 951 236.4 951.3 235.7C951.7 235 952.1 234.3 952.5 233.7C952.9 233 953.4 232.4 953.9 231.9C954.4 231.3 954.9 230.8 955.5 230.4C956.1 229.9 956.7 229.5 957.3 229.2C957.9 228.9 958.5 228.6 959.1 228.4C959.7 228.2 960.4 228 961 228C961.6 227.9 962.3 227.9 962.9 227.9C963.5 228 964.1 228.1 964.7 228.3C965.3 228.5 965.9 228.8 966.4 229.1C966.9 229.4 967.4 229.8 967.9 230.2C968.4 230.6 968.8 231.1 969.2 231.7C969.6 232.2 969.9 232.8 970.2 233.4C970.5 234 970.8 234.7 971 235.4C971.1 236.1 971.3 236.8 971.4 237.6C971.5 238.3 971.5 239.1 971.5 239.8C971.4 240.6 971.3 241.4 971.2 242.1C971.1 242.9 970.9 243.7 970.6 244.4Z"/>
<path d="M979.3 243L987.4 248L994.9 252.4"/>
<path d="M940 252.4C940.6 253.4 942 256 943.7 258.6C945.4 261.2 948.9 266.4 949.9 268"/>
<path d="M958.7 258.6C957.6 259.4 953.6 262 952.4 263.6C951.3 265.2 951.9 267.2 951.8 268"/>
<path d="M999.9 163.7L999.9 173.7L982.4 182.5L978.7 178.7"/>
<path d="M999.9 163.7L1010.5 172.5L1009.9 180.6L987.4 191.8"/>
<path d="M1002.4 159.4L1013.6 170.6L1013.6 208.7"/>
<path d="M1009.9 180.6L1009.2 208.7L988.6 219.3"/>
<path d="M988 195.6L1009.2 185"/>
<path d="M1002.4 190L1002.4 203.7L988.6 209.9"/>
<path d="M989.9 219.3L1013.6 208.1"/>
<path d="M989.9 222.4L1017.4 208.7"/>
<path d="M1009.9 163.7L1031.1 153.7"/>
<path d="M1013.6 173.7L1034.8 164.4"/>
<path d="M1013.6 180L1038.6 168.1"/>
<path d="M1031.7 171.8L1031.7 183.7L1015.5 191.8"/>
<path d="M1038.6 166.9L1039.2 190L1016.1 202.4"/>
<path d="M1017.4 211.2L1018 226.2L1018.6 231.1L1023 234.3L1038.6 224.9L1037.3 219.9L1042.3 212.4L1039.8 199.3L1017.4 211.2"/>
<path d="M1024.8 209.9L1033.6 204.9L1042.3 212.4"/>
<path d="M1024.8 209.9L1024.2 214.9L1037.3 221.2"/>
<path d="M997.4 223.7L1002.4 221.2L1017.4 229.3"/>
<path d="M997.4 223.7L997.4 231.1L1013 239.3L1018 231.1"/>
<path d="M1039.8 199.3L1039.8 206.2"/>
<path d="M999.3 258.6L999.3 268"/>
<path d="M1003.6 253.6C1002.8 254.5 1000.1 256.7 998.6 258.6C997.2 260.5 995.5 263.8 994.9 264.9"/>
<path d="M900 243C900.6 243.5 903.7 245.3 903.7 246.1C903.7 247 900.6 247.7 900 248"/>
<path d="M1011.8 245.9C1010.7 246.8 1007.4 249.2 1005.1 251.3C1002.9 253.4 1000.7 255.8 998.5 258.4C996.2 261 993.6 264 991.8 266.8C990 269.5 988.6 272.3 987.6 275.1C986.5 277.9 985.9 280.1 985.5 283.5C985.2 286.8 985.2 292.2 985.5 295.2C985.9 298.1 986.8 299.2 987.6 301C988.4 302.8 989.3 304.7 990.1 306C990.9 307.3 992.2 308.5 992.6 308.9"/>
<path d="M999.7 258C999.7 259.2 1000.2 262.5 999.7 265.1C999.2 267.7 998.1 270.8 996.8 273.4C995.5 276.1 993.6 278.7 991.8 281C990 283.2 986.9 285.8 985.9 286.8"/>
<path d="M1011.8 240.9C1010.2 242 1004.7 246.1 1001.8 248C998.9 249.8 995.9 251.4 994.7 252.1"/>
<path d="M1027.7 299.3C1030.1 297.7 1038.8 291.6 1041.9 289.7C1045 287.9 1044.5 288 1046.1 288.1C1047.6 288.1 1050.2 289.4 1051.1 290.2C1052 290.9 1051.9 291.7 1051.5 292.7C1051.1 293.6 1049.1 295.4 1048.6 296C1046.1 297.5 1036.7 303 1033.5 304.8C1030.3 306.5 1030.3 306.6 1029.4 306.4C1028.4 306.2 1028 304.7 1027.7 303.5C1027.4 302.3 1027.7 300 1027.7 299.3"/>
<path d="M1018.5 281C1019.3 280.1 1022.1 276.8 1023.5 275.5C1025 274.3 1026.6 273.8 1027.3 273.4C1027.6 272.8 1028.2 270.4 1029.4 269.7C1030.5 269 1033.5 269.3 1034.4 269.3"/>
<path d="M1028.9 275.9C1029.7 276.6 1031.7 278.9 1033.5 280.1C1035.4 281.3 1039.1 282.6 1040.2 283"/>
<path d="M1011.4 308.9L1024.4 301"/>
<path d="M1025.6 301L1025.6 308.9"/>
<path d="M1054 283.2L1071.4 272.4C1072 272.5 1074.1 272.4 1074.8 273.2C1075.5 274.1 1075.5 276.7 1075.6 277.4L1058.1 287.4C1057.6 287.4 1055.5 288.1 1054.8 287.4C1054.1 286.7 1054.1 283.9 1054 283.2"/>
<path d="M1077.3 269.9L1096.4 256.6C1097.1 256.6 1099.7 255.9 1100.6 256.6C1101.4 257.3 1101.3 260.1 1101.4 260.8L1081.4 273.2C1080.9 273.2 1078.8 273.8 1078.1 273.2C1077.4 272.7 1077.4 270.5 1077.3 269.9"/>
<path d="M1106.4 250.8L1123 239.1C1123.7 239.1 1126.4 238.4 1127.2 239.1C1128 239.8 1127.9 242.6 1128 243.3L1111.4 254.9C1110.7 254.8 1108.1 254.8 1107.2 254.1C1106.4 253.4 1106.5 251.3 1106.4 250.8"/>
<path d="M1033.2 269.1L1036.5 269.9C1038.8 268.5 1047.6 264.2 1050.6 261.6C1053.7 258.9 1054.1 255.3 1054.8 254.1C1055.8 253.7 1059.1 251.7 1060.6 251.6C1062.1 251.5 1063.4 253 1063.9 253.3L1079.8 237.5C1080.6 237 1083.4 235.2 1084.8 235C1086.1 234.7 1087.5 235.6 1088.1 235.8C1090.7 233.6 1100 225.2 1103.9 222.5C1107.8 219.7 1110.1 219.7 1111.4 219.1C1113.6 220.7 1123.3 226.1 1124.7 228.3C1126.1 230.5 1120.5 231.8 1119.7 232.5"/>
<path d="M1033.2 269.1L1048.1 277.4"/>
<path d="M1054.8 254.1L1069.8 264.1"/>
<path d="M1060.6 251.6L1074.8 259.9"/>
<path d="M1079.8 237.5L1093.1 246.6"/>
<path d="M1084.8 235L1101.4 244.1"/>
<path d="M1106.4 224.1L1119.7 232.5"/>
<path d="M1000.1 309L1028.5 291.4L1133 231.6"/>
<path d="M1004 249.9L1004 286.6"/>
<path d="M1013.2 246.6L1013.2 276.6C1013.7 277.4 1014 279.1 1016.5 281.6C1019 284.1 1026.2 289.9 1028.2 291.5"/>
<path d="M1008.2 281.6L1006.5 286.6L1019.8 296.5"/>
<path d="M986.6 296.5L1006.5 286.6"/>
<path d="M944.1 259.9C945.4 261.6 949.5 266 951.6 269.9C953.7 273.8 955.8 279.3 956.6 283.2C957.4 287.1 956.6 291.5 956.6 293.2"/>
<path d="M953.3 263.2L963.2 258.3"/>
<path d="M967.4 268.2C970.6 268 982.3 268.5 986.6 266.6C990.9 264.6 991.8 259.1 993.2 256.6C994.6 254.1 994.6 252.4 994.9 251.6"/>
<path d="M967.4 268.2C967.5 270.7 967.8 278.8 968.2 283.2C968.7 287.7 969.6 292.9 969.9 294.9"/>
<path d="M943.3 299.9C944.9 299 950.2 295.4 953.3 294.9C956.3 294.3 960.8 295.2 961.6 296.5C962.4 297.9 960.8 301.3 958.3 303.2C955.8 305.1 948.5 307.4 946.6 308.2"/>
<path d="M946.6 308.2L951.6 333.2"/>
<path d="M980.6 309.7C980.5 310 980.4 310.4 980.2 310.7C980 311 979.8 311.3 979.6 311.6C979.4 311.9 979.2 312.2 979 312.4C978.8 312.7 978.5 312.9 978.3 313.1C978 313.4 977.8 313.5 977.5 313.7C977.3 313.8 977 314 976.7 314.1C976.5 314.2 976.2 314.2 975.9 314.3C975.7 314.3 975.4 314.3 975.1 314.3C974.9 314.3 974.6 314.2 974.4 314.1C974.2 314 973.9 313.9 973.7 313.8C973.5 313.6 973.3 313.5 973.1 313.3C973 313.1 972.8 312.8 972.7 312.6C972.5 312.4 972.4 312.1 972.3 311.8C972.2 311.5 972.1 311.2 972.1 310.9C972 310.6 972 310.2 972 309.9C972 309.5 972 309.2 972 308.8C972 308.5 972.1 308.1 972.2 307.8C972.3 307.4 972.4 307.1 972.5 306.7C972.6 306.4 972.8 306 972.9 305.7C973.1 305.4 973.3 305.1 973.5 304.8C973.7 304.5 973.9 304.2 974.1 303.9C974.4 303.7 974.6 303.4 974.8 303.2C975.1 303 975.3 302.8 975.6 302.7C975.9 302.5 976.1 302.4 976.4 302.3C976.7 302.2 976.9 302.1 977.2 302.1C977.5 302.1 977.7 302.1 978 302.1C978.2 302.1 978.5 302.2 978.7 302.2C979 302.3 979.2 302.4 979.4 302.6C979.6 302.7 979.8 302.9 980 303.1C980.2 303.3 980.3 303.5 980.5 303.8C980.6 304 980.7 304.3 980.8 304.6C980.9 304.9 981 305.2 981.1 305.5C981.1 305.8 981.2 306.2 981.2 306.5C981.2 306.8 981.2 307.2 981.1 307.5C981.1 307.9 981 308.3 980.9 308.6C980.9 309 980.8 309.3 980.6 309.7Z"/>
<path d="M922.5 297.4C922.9 300 924 308.9 925 313.2C925.9 317.5 926.4 320.1 928.3 323.2C930.2 326.2 933.8 327.9 936.6 331.5C939.4 335.1 943.3 340.5 944.9 344.8C946.6 349.1 946.3 355.2 946.6 357.3"/>
<path d="M925.8 303.2C926.5 305.4 929 312.6 930 316.5C930.9 320.4 931.3 324.8 931.6 326.5"/>
<path d="M915 340.2C914.9 341 914.8 341.7 914.7 342.4C914.6 343.1 914.4 343.8 914.3 344.5C914.1 345.1 913.9 345.8 913.8 346.4C913.6 347 913.3 347.6 913.1 348.1C912.9 348.7 912.6 349.2 912.4 349.6C912.1 350.1 911.8 350.5 911.5 350.8C911.3 351.1 911 351.4 910.7 351.6C910.4 351.9 910.1 352 909.8 352.1C909.5 352.2 909.2 352.3 908.9 352.2C908.6 352.2 908.3 352.1 908.1 352C907.8 351.8 907.5 351.6 907.3 351.4C907 351.1 906.8 350.7 906.6 350.4C906.3 350 906.1 349.5 906 349.1C905.8 348.6 905.6 348 905.5 347.5C905.3 346.9 905.2 346.3 905.1 345.7C905 345 905 344.3 904.9 343.7C904.9 343 904.9 342.3 904.9 341.5C904.9 340.8 904.9 340.1 905 339.4C905.1 338.7 905.2 337.9 905.3 337.2C905.4 336.5 905.5 335.8 905.7 335.2C905.8 334.5 906 333.8 906.2 333.2C906.4 332.6 906.6 332 906.9 331.5C907.1 331 907.4 330.5 907.6 330C907.9 329.6 908.2 329.2 908.4 328.8C908.7 328.5 909 328.2 909.3 328C909.6 327.8 909.9 327.6 910.2 327.5C910.5 327.4 910.8 327.4 911.1 327.4C911.4 327.4 911.6 327.5 911.9 327.6C912.2 327.8 912.5 328 912.7 328.3C913 328.5 913.2 328.9 913.4 329.3C913.6 329.6 913.8 330.1 914 330.6C914.2 331 914.4 331.6 914.5 332.2C914.6 332.7 914.7 333.3 914.8 334C914.9 334.6 915 335.3 915 336C915.1 336.7 915.1 337.4 915.1 338.1C915.1 338.8 915 339.5 915 340.2Z"/>
<path d="M922.7 357.4C922.5 357.1 921.9 356.1 921.6 355.4C921.2 354.6 920.9 353.9 920.7 353.1C920.5 352.3 920.3 351.5 920.1 350.7C920 349.9 919.9 349.1 919.8 348.3C919.8 347.4 919.8 346.6 919.9 345.8C919.9 345 920.1 344.3 920.2 343.5C920.4 342.8 920.6 342 920.8 341.3C921.1 340.7 921.4 340 921.8 339.4C922.1 338.8 922.5 338.3 922.9 337.8C923.3 337.3 923.8 336.8 924.3 336.5C924.8 336.1 925.3 335.8 925.8 335.5C926.4 335.3 926.9 335.1 927.5 335C928.1 334.9 928.7 334.9 929.2 334.9C929.8 335 930.4 335.1 931 335.3C931.6 335.5 932.2 335.7 932.7 336C933.3 336.4 933.9 336.7 934.4 337.2C934.9 337.6 935.4 338.1 935.9 338.7C936.4 339.2 936.8 339.9 937.2 340.5C937.7 341.1 938 341.8 938.4 342.6C938.7 343.3 939 344.1 939.2 344.8C939.5 345.6 939.7 346.4 939.8 347.2C939.9 348 940 348.9 940.1 349.7C940.1 350.5 940.1 351.3 940 352.1C940 352.9 939.9 353.7 939.7 354.4C939.5 355.2 939.2 356.2 939.1 356.6"/>
<path d="M1054.8 326.5L1054.8 357.3"/>
<path d="M1034.8 334.8L1034.8 357.3"/>
<path d="M1091.4 341.5L1126.4 324L1133 329.8L1136 328.2"/>
<path d="M1091.4 341.5L1093.9 357.3"/>
<path d="M1093.9 352.5L1136 335"/>
<path d="M1093.9 359.1L1136 340"/>
<path d="M1062.3 330C1062.1 331.7 1061.2 336.9 1061.5 340C1061.7 343 1063.1 346.4 1063.9 348.3C1064.8 350.3 1066 349.7 1066.4 351.6C1066.9 353.6 1066.4 358.6 1066.4 360C1067.3 360.2 1069.2 362.2 1071.4 361.6C1073.7 361.1 1076.7 359.7 1079.8 356.6C1082.8 353.6 1087.8 345.7 1089.7 343.3C1091.7 341 1091.1 342.6 1091.4 342.5"/>
<path d="M970.9 295C970.6 296.3 969.9 299.7 969.2 302.5C968.5 305.3 967.4 308.9 966.7 311.7C966 314.5 965.4 317 965.1 319.2C964.7 321.5 964.7 324.1 964.6 325.1C964.3 326.2 963 329.5 962.6 331.8C962.1 334 961.9 336.1 961.7 338.4C961.6 340.7 962 343.2 961.7 345.5C961.4 347.9 960.9 350.9 960.1 352.6C959.2 354.4 958 354.9 956.7 356C955.5 357.1 953.2 358.8 952.5 359.3"/>
<path d="M965.1 325.1C965.6 325.4 967.1 326.8 968.4 327.2C969.7 327.5 972.2 327.2 973 327.2C973.3 326.5 974 324.7 975.1 323.4C976.1 322.2 977.7 320.3 979.3 319.6C980.8 319 982.7 319.4 984.3 319.6C985.8 319.9 986.9 320.9 988.5 321.3C990 321.7 992.6 322 993.5 322.2"/>
<path d="M993.5 322.2C993.3 322.9 993 325.1 992.6 326.7C992.2 328.3 991.9 330.4 991 331.8C990 333.2 988.6 333.8 986.8 335.1C985 336.4 982.5 337.8 980.1 339.3C977.7 340.7 974.7 342.9 972.6 343.9C970.5 344.8 969.4 344.8 967.6 345.1C965.8 345.4 962.7 345.5 961.7 345.5"/>
<path d="M993.5 322.2C994 321.5 995.1 319.4 996.8 318C998.5 316.6 1001.1 315.3 1003.5 313.8C1005.9 312.3 1008.8 310.5 1011 309.2C1013.2 307.9 1014.8 307.2 1016.9 305.9C1018.9 304.5 1022.4 302 1023.5 301.3"/>
<path d="M1025.2 301.3L1025.2 309.2C1024.4 310.2 1022.1 313.4 1020.2 315.1C1018.3 316.7 1015.7 317.3 1013.5 318.8C1011.3 320.3 1009.3 322.2 1006.8 324.2C1004.3 326.3 1000.4 329 998.5 330.9C996.5 332.9 995.7 335.1 995.1 335.9"/>
<path d="M995.1 335.9C993.5 336.8 988.3 339.6 985.1 341.4C981.9 343.2 978.2 345.3 975.9 346.8C973.7 348.3 972.9 348.9 971.7 350.1C970.6 351.4 970.5 353.3 969.2 354.3C968 355.4 966.2 355.7 964.2 356.4C962.3 357.1 959.5 358 957.5 358.5C955.6 359 953.4 359.2 952.5 359.3"/>
<path d="M995.1 335.9C995.2 337.3 995 342.1 995.6 344.3C996.1 346.5 997.4 348 998.5 349.3C999.5 350.6 1001.3 351.4 1001.8 351.8"/>
<path d="M1012.7 332.2L1004.3 339.3C1004.3 340.3 1004.7 343 1004.3 345.1C1004 347.2 1002.6 350.7 1002.2 351.8"/>
<path d="M1001.8 351.8C1002.7 351.3 1005.3 350 1006.8 348.5C1008.4 346.9 1009.3 344.8 1011 342.6C1012.7 340.4 1014.8 336.8 1016.9 335.1C1018.9 333.4 1021.6 333 1023.5 332.2C1025.5 331.3 1027.2 330.4 1028.6 330.1C1029.9 329.7 1030.2 330.4 1031.9 330.1C1033.6 329.8 1036.1 329.5 1038.6 328.4C1041.1 327.4 1044.7 325.2 1046.9 323.8C1049.2 322.4 1050 321.2 1051.9 320.1C1053.9 318.9 1057.4 317.3 1058.5 316.7"/>
<path d="M1021.9 320.1C1021.7 320.7 1020.8 322.7 1021 323.8C1021.3 324.9 1022.4 325.8 1023.5 326.7C1024.7 327.7 1027 329.2 1027.7 329.7"/>
<path d="M1021.9 320.1C1023.5 318.5 1028.8 313.2 1031.9 310.9C1035 308.5 1037.9 307.3 1040.3 305.9C1042.6 304.5 1044.3 302.9 1046.1 302.5C1047.9 302.1 1049.7 303.1 1051.1 303.4C1052.5 303.6 1053.9 304.1 1054.5 304.2C1054.3 305.4 1054 310.2 1053.6 311.7C1053.3 313.2 1052.6 312.8 1052.4 313C1053.1 313 1055.9 313 1057 313C1058 313 1058.2 313 1058.5 313"/>
<path d="M1027.7 299.2C1027.6 299.9 1026.6 302.2 1026.9 303.4C1027.2 304.5 1028.3 306 1029.4 306.3C1030.5 306.6 1032.9 305.2 1033.6 305C1035.1 304.2 1039.7 301.7 1042.8 300C1045.8 298.3 1050.4 295.8 1051.9 295"/>
<path d="M1027.7 299.2C1028.4 298.8 1030.5 297.4 1031.9 296.7C1033.3 296 1035.4 295.3 1036.1 295"/>
<path d="M985.1 295C985.5 295.8 986.5 298.1 987.6 300C988.7 302 990.7 305.2 991.8 306.7C992.9 308.2 993 308.8 994.3 309.2C995.6 309.6 997.2 309.8 999.3 309.2C1001.4 308.6 1004.5 307.1 1006.8 305.9C1009.2 304.6 1011.4 303.1 1013.5 301.7C1015.6 300.3 1017.7 298.6 1019.4 297.5C1021 296.4 1022.8 295.4 1023.5 295"/>
<path d="M986.8 295C987.3 295.3 988.9 296.5 990.1 296.7C991.4 296.9 993.5 296.5 994.3 296.3C995.1 296 995 295.2 995.1 295"/>
<path d="M957.5 307.1C957.5 308.6 958 313.7 957.1 315.9C956.3 318.1 953.3 319.7 952.5 320.5"/>
<path d="M957.1 315.9C958 316.6 961.4 318.5 962.6 320.1C963.7 321.6 963.9 324.2 964.2 325.1"/>
<path d="M940 314.2C940.4 315.6 941.6 319.8 942.5 322.6C943.4 325.4 944.9 329.5 945.4 330.9"/>
<path d="M940 365.2C941 364.6 943.8 362.9 945.8 361.8C947.9 360.8 951.4 359.4 952.5 358.9"/>
<path d="M940 370.6C940.8 370.1 943.8 368.7 945 367.7C946.3 366.6 947.1 364.9 947.5 364.3"/>
<path d="M1002.2 351.8C1003.4 350.7 1007.7 346.8 1009.3 345.1C1010.9 343.5 1010 343.1 1011.8 341.8C1013.7 340.5 1016.9 338.6 1020.2 337.2C1023.5 335.8 1028.7 334.3 1031.9 333.4C1035.1 332.6 1036.9 333.3 1039.4 332.2C1041.9 331.1 1044.7 328.5 1046.9 326.7C1049.2 325 1050.9 323 1052.8 321.7C1054.7 320.5 1057.5 319.6 1058.5 319.2"/>
<path d="M1054.9 364.3L1039.4 373.9"/>
<path d="M1126.9 270C1126.4 270.6 1124.3 271.9 1123.6 273.3C1122.9 274.7 1123 277.2 1122.7 278.4C1122.5 279.5 1122 279.7 1121.9 280C1122 281.1 1122 285.5 1122.3 286.7C1122.6 288 1123.4 287.4 1123.6 287.5L1123.6 325.1"/>
<path d="M1058.5 316.7C1059.3 316.1 1062.2 314.4 1063.4 313C1064.7 311.6 1064.1 310.8 1065.9 308.4C1067.7 306.1 1071.8 300.9 1074.3 298.8C1076.8 296.7 1078.6 296.7 1081 295.9C1083.3 295.1 1086.5 294.3 1088.5 293.8C1090.4 293.3 1092 293.1 1092.7 293C1094.2 292.1 1098.9 289.1 1101.8 287.5C1104.8 286 1107.8 285 1110.2 283.8C1112.6 282.6 1114.2 281.1 1116 280.4C1117.9 279.7 1120.6 279.7 1121.5 279.6"/>
<path d="M1059.2 319.3C1059.9 318.7 1061.9 317.2 1063.4 315.5C1064.9 313.9 1066.5 311.6 1068.4 309.3C1070.4 307 1072.9 303.5 1075.1 301.7C1077.3 300 1079.3 299.5 1081.8 298.8C1084.3 298.1 1087.6 298.1 1090.2 297.6C1092.7 297 1094.3 296.5 1096.8 295.5C1099.3 294.5 1102.7 292.8 1105.2 291.7C1107.7 290.6 1109.8 290 1111.9 288.8C1114 287.6 1116 286.2 1117.7 284.6C1119.4 283.1 1121.2 280.4 1121.9 279.6"/>
<path d="M1064.3 307.6L1075.1 297.2"/>
<path d="M1052.6 313C1052.8 312 1053.9 309.2 1054.2 306.8C1054.5 304.3 1054.2 299.8 1054.2 298.4C1054.5 297.8 1054.4 296.1 1055.9 295.1C1057.4 294 1061.3 293.3 1063.4 292.1C1065.5 291 1066.9 289.1 1068.4 288.4C1070 287.6 1071.1 287.7 1072.6 287.5C1074.1 287.4 1076.4 287.5 1077.2 287.5C1077.1 288.2 1077.1 290.2 1076.8 291.7C1076.5 293.3 1076.1 295.5 1075.5 296.7C1075 297.9 1073.8 298.5 1073.4 298.8"/>
<path d="M1052.6 313C1053.4 312.9 1056 312.7 1057.6 312.2C1059.1 311.7 1060.5 310.7 1061.7 310.1C1063 309.5 1064.5 308.7 1065.1 308.4"/>
<path d="M1077.2 287.5C1077.3 287 1077.4 285.7 1078 284.2C1078.7 282.7 1079.5 280.2 1081 278.4C1082.4 276.5 1085 274.7 1086.8 273.3C1088.6 271.9 1091 270.6 1091.8 270"/>
<path d="M1030 312.6C1031.1 311.8 1034.7 309 1036.7 307.6C1038.6 306.2 1040 305.2 1041.7 304.3C1043.4 303.3 1045.2 302.4 1046.7 302.2C1048.2 302 1049.6 302.5 1050.9 303C1052.1 303.5 1053.7 304.7 1054.2 305.1"/>
<path d="M1030 276.3L1040 282.9"/>
<path d="M1030 271.7L1034.2 270.8L1047.5 277.5"/>
<path d="M1042.5 281.3L1050.1 277.9L1063.4 270"/>
<path d="M1075.9 270L1080.1 274.2C1081.5 273.6 1086.5 271.5 1088.5 270.8C1090.4 270.1 1091.3 270.1 1091.8 270"/>
<path d="M1072.6 270L1075.5 276.3"/>
<path d="M1067.6 310.9L1067.6 326"/>
<path d="M1079.3 309.3L1079.3 321"/>
<path d="M1093.5 300.1L1093.5 325.1"/>
<path d="M1107.7 294.2L1107.7 330.6"/>
<path d="M1108.5 281.3L1112.7 280.9"/>
<path d="M1117.7 273.3C1117.4 274.3 1116.9 277.9 1116 279.2C1115.2 280.4 1113.3 280.6 1112.7 280.9"/>
<path d="M1096.4 266.6L1108.1 264.9L1108.9 281.6"/>
<path d="M1112.2 281.2L1111.4 261.6L1132.2 249.9L1132.2 256.6"/>
<path d="M1121 273.2C1121.1 272.7 1118.9 271.8 1121.4 269.9C1123.9 268 1133.6 263 1136 261.6"/>
<path d="M1067.6 326L1072.6 322.2C1073.7 322 1076.2 321 1079.3 321C1082.4 321 1089 322 1091 322.2C1091.5 323 1093.9 325.3 1094.3 326.8C1094.7 328.3 1094.2 328.6 1093.5 331C1092.8 333.4 1090.7 339.3 1090.2 341C1089.2 342 1086.5 346 1084.3 346.9C1082.1 347.8 1079.6 346.9 1076.8 346.4C1074 346 1069.1 344.7 1067.6 344.4C1066.8 343.7 1063.1 342 1062.6 340.2C1062 338.4 1063.4 335.9 1064.3 333.5C1065.1 331.1 1067 327.2 1067.6 326"/>
<path d="M1085 329.8C1085.3 330.1 1085.5 330.5 1085.8 330.9C1086 331.3 1086.1 331.8 1086.3 332.2C1086.4 332.6 1086.5 333.1 1086.6 333.5C1086.7 333.9 1086.7 334.4 1086.7 334.8C1086.7 335.2 1086.7 335.7 1086.6 336.1C1086.6 336.5 1086.5 336.9 1086.3 337.3C1086.2 337.6 1086 338 1085.8 338.3C1085.6 338.7 1085.4 339 1085.1 339.2C1084.9 339.5 1084.6 339.8 1084.3 340C1084 340.2 1083.6 340.4 1083.3 340.5C1082.9 340.7 1082.5 340.8 1082.2 340.9C1081.8 341 1081.4 341 1081 341C1080.6 341 1080.2 341 1079.8 340.9C1079.4 340.8 1078.9 340.7 1078.5 340.5C1078.1 340.4 1077.7 340.2 1077.4 340C1077 339.8 1076.6 339.5 1076.2 339.2C1075.9 338.9 1075.6 338.6 1075.2 338.3C1074.9 338 1074.6 337.6 1074.4 337.2C1074.1 336.9 1073.9 336.5 1073.7 336C1073.5 335.6 1073.3 335.2 1073.1 334.8C1073 334.4 1072.9 333.9 1072.8 333.5C1072.7 333 1072.7 332.6 1072.7 332.2C1072.7 331.7 1072.7 331.3 1072.8 330.9C1072.9 330.5 1073 330.1 1073.1 329.7C1073.2 329.4 1073.4 329 1073.6 328.7C1073.8 328.3 1074 328 1074.3 327.7C1074.6 327.5 1074.8 327.2 1075.2 327C1075.5 326.8 1075.8 326.6 1076.2 326.4C1076.5 326.3 1076.9 326.2 1077.3 326.1C1077.6 326 1078 326 1078.4 326C1078.8 326 1079.2 326 1079.7 326.1C1080.1 326.2 1080.5 326.3 1080.9 326.5C1081.3 326.6 1081.7 326.8 1082.1 327C1082.4 327.2 1082.8 327.5 1083.2 327.8C1083.5 328 1083.9 328.3 1084.2 328.7C1084.5 329 1084.8 329.4 1085 329.8Z"/>
<path d="M780.8 330C780.8 334.2 780.4 346.6 780.8 355C781.2 363.3 782.5 373 783.3 379.9C784.1 386.9 785 393 785.8 396.6C786.6 400.2 787.9 400.7 788.3 401.6"/>
<path d="M792.5 330L792.5 350L824.9 365.8"/>
<path d="M814.9 330L814.9 360.8"/>
<path d="M780.8 354.1C784 355.4 794.8 358.7 800 361.6C805.1 364.5 808.7 368.6 811.6 371.6C814.5 374.7 816.5 377.7 817.4 379.9C818.4 382.2 817.4 384.1 817.4 384.9"/>
<path d="M826.6 381.6C826.2 380.2 824.4 375.9 824.1 373.3C823.8 370.6 824.5 368 824.9 365.8C825.3 363.6 824.6 361.5 826.6 360C828.5 358.4 833.2 356.3 836.6 356.3C839.9 356.3 843.5 357.7 846.6 360C849.6 362.2 852.8 366.1 854.9 369.9C857 373.8 858.6 379.4 859 383.3C859.5 387.1 858.9 390.6 857.4 393.2C855.9 395.9 852.8 398.2 849.9 399.1C847 399.9 843 400 839.9 398.2C836.9 396.4 833 389.9 831.6 388.3"/>
<path d="M859.9 387.4L898.2 408.2"/>
<path d="M801.6 413.2C804.7 413.5 814.1 415 819.9 414.9C825.8 414.7 833 413.5 836.6 412.4C840.2 411.3 840.6 408 841.6 408.2C842.5 408.5 842.3 413.1 842.4 414.1"/>
<path d="M822.4 401.6L836.6 409.9L842.4 414.1L859 425.7"/>
<path d="M859.9 409.9C860.7 409.3 863.5 407 864.9 406.6C866.3 406.1 867.6 407.3 868.2 407.4C868.3 408.9 868.2 413.9 869 416.6C869.9 419.2 871.7 422 873.2 423.2C874.7 424.5 877.4 423.9 878.2 424"/>
<path d="M879 424L879 413.2L883.2 412.4L886.5 414.9L886.5 446.5"/>
<path d="M859.9 409.9L862.4 444.8L878.2 451.5L886.5 447.3L898.2 452.3L913.1 459.8"/>
<path d="M879 424L879 450.7"/>
<path d="M886.5 414.9L909 428.2"/>
<path d="M895.7 420.7L895.7 429L909 435.7L909 424L903.2 426.5L895.7 420.7"/>
<path d="M909 435.7L916.5 434L916.5 444.8"/>
<path d="M898.2 452.3C898 451.4 897.1 448.5 897.3 446.5C897.6 444.6 898.6 441.9 899.8 440.7C901.1 439.4 904 439.3 904.8 439"/>
<path d="M904.8 439L919.8 446.5"/>
<path d="M921.8 454.5C921.7 454.9 921.6 455.2 921.4 455.6C921.3 456 921.1 456.4 920.9 456.7C920.7 457 920.5 457.4 920.2 457.7C920 458 919.8 458.2 919.5 458.5C919.2 458.8 919 459 918.7 459.2C918.4 459.4 918.1 459.5 917.8 459.7C917.5 459.8 917.2 459.9 916.9 460C916.6 460 916.3 460 916 460C915.7 460 915.4 460 915.2 459.9C914.9 459.8 914.6 459.7 914.4 459.6C914.1 459.5 913.8 459.3 913.6 459.1C913.4 458.9 913.2 458.6 913 458.4C912.8 458.1 912.6 457.8 912.5 457.5C912.3 457.2 912.2 456.9 912.1 456.5C912 456.2 911.9 455.8 911.9 455.4C911.8 455.1 911.8 454.7 911.8 454.3C911.8 453.9 911.9 453.5 911.9 453.1C912 452.7 912 452.3 912.1 451.9C912.3 451.5 912.4 451.1 912.5 450.7C912.7 450.4 912.9 450 913.1 449.6C913.3 449.3 913.5 449 913.7 448.7C913.9 448.4 914.2 448.1 914.4 447.8C914.7 447.6 915 447.4 915.3 447.2C915.5 447 915.8 446.8 916.1 446.7C916.4 446.5 916.7 446.4 917 446.4C917.3 446.3 917.6 446.3 917.9 446.3C918.2 446.3 918.5 446.3 918.8 446.4C919.1 446.5 919.3 446.6 919.6 446.7C919.8 446.9 920.1 447.1 920.3 447.3C920.5 447.5 920.8 447.7 920.9 448C921.1 448.2 921.3 448.5 921.5 448.8C921.6 449.1 921.7 449.5 921.8 449.8C921.9 450.2 922 450.5 922.1 450.9C922.1 451.3 922.1 451.7 922.1 452.1C922.1 452.5 922.1 452.9 922 453.3C922 453.7 921.9 454.1 921.8 454.5Z"/>
<path d="M923.1 452.3C927.6 451.1 943.4 447.2 949.8 444.8C956.1 442.5 957 439.9 961.4 438.2C965.8 436.5 973.9 435.4 976.4 434.9"/>
<path d="M959.7 439L971.4 434"/>
<path d="M925.2 405L926.5 411.7L926 413.8L918.5 419.6L913.5 421.7L911.4 417.6L911 411.3"/>
<path d="M917.3 409.2L918.5 420.1"/>
<path d="M913.9 423L916 421.7L918.5 420.1"/>
<path d="M913.9 423L915.2 424.7L920.6 427.2L920.6 432.2L916.4 433.8"/>
<path d="M898.2 389.1L901.5 395.7L908.1 395.7"/>
<path d="M902.3 395.7L902.3 405.7L911.5 408.2L924.8 404.9"/>
<path d="M898.2 408.2L903.2 405.7"/>
<path d="M869 372.4C869.7 373.1 871.7 375.6 873.2 376.6C874.7 377.6 877.2 376.9 878.2 378.3C879.2 379.7 879.2 382.7 879 384.9C878.9 387.1 877.2 389.9 877.4 391.6C877.5 393.2 879.4 394.4 879.9 394.9C881.7 395.5 888.7 399.8 890.7 398.2C892.6 396.7 891.4 387.8 891.5 385.8"/>
<path d="M879.9 356.6C881 355.8 884.8 352.6 886.5 351.6C888.2 350.7 889.4 350 889.8 350.8C890.3 351.6 889.1 355.7 889 356.6"/>
<path d="M879.9 360.8C880.7 359.8 882.6 355.8 884.8 355C887.1 354.1 890.4 354.7 893.2 355.8C895.9 356.9 899.8 359.5 901.5 361.6C903.2 363.7 903.2 366.6 903.2 368.3C903.2 369.9 901.8 371.1 901.5 371.6"/>
<path d="M864 330L864 349.1"/>
<path d="M876.5 346.6L899.8 342.5L899.8 330"/>
<path d="M869.9 343.3L876.5 346.6"/>
<path d="M904.8 330C905 332.2 904.8 339.6 905.7 343.3C906.5 347.1 908.4 352.5 909.8 352.5C911.2 352.5 913.1 347.1 914 343.3C914.8 339.6 914.7 332.2 914.8 330"/>
<path d="M919.8 343.3C920.1 345 920.1 350.5 921.5 353.3C922.9 356.1 925.6 358.7 928.1 360C930.6 361.2 934.5 362.2 936.4 360.8C938.4 359.4 939.8 355.1 939.8 351.6C939.8 348.2 938.4 342.5 936.4 340C934.5 337.5 930.5 336.9 928.1 336.7C925.8 336.4 923.7 337.2 922.3 338.3C920.9 339.4 920.2 342.5 919.8 343.3"/>
<path d="M1091.4 342.5C1091.7 344.8 1093.4 352.6 1093.1 356.6C1092.8 360.7 1090.9 364.4 1089.7 366.6C1088.6 368.8 1087 369.4 1086.4 369.9"/>
<path d="M1084.8 363.3C1082.8 364.1 1077.3 366.3 1073.1 368.3C1068.9 370.2 1064.2 372.4 1059.8 374.9C1055.3 377.4 1050.1 381 1046.5 383.3C1042.9 385.5 1040.9 387.4 1038.1 388.3C1035.4 389.1 1032.3 387.7 1029.8 388.3C1027.3 388.8 1025 390.2 1023.2 391.6C1021.4 393 1019.8 395.2 1019 396.6C1018.2 398 1018.3 399.4 1018.2 399.9C1015.7 401.6 1008.7 406.4 1003.2 409.9C997.6 413.4 987.9 418.9 984.9 420.7"/>
<path d="M1086.4 369.9C1084.8 370.2 1080.3 370.2 1076.4 371.6C1072.5 373 1067.6 375.8 1063.1 378.3C1058.7 380.8 1054 384.4 1049.8 386.6C1045.6 388.8 1040.4 389.9 1038.1 391.6C1035.9 393.2 1037.6 395.1 1036.5 396.6C1035.4 398.1 1033.7 399.8 1031.5 400.7C1029.3 401.7 1025.7 401.7 1023.2 402.4C1020.7 403.1 1017.6 404.5 1016.5 404.9L988.2 422.4"/>
<path d="M1034.8 330L1034.8 376.6"/>
<path d="M1015.7 340C1015.7 346.4 1015.3 371.1 1015.7 378.3C1016.1 385.5 1016.4 382.2 1018.2 383.3C1020 384.4 1024 385.2 1026.5 384.9C1029 384.6 1031.8 382.8 1033.2 381.6C1034.5 380.3 1034.5 378.1 1034.8 377.4"/>
<path d="M1009 345.8L1009 386.6"/>
<path d="M1054.8 330L1054.8 363.3L1066.4 360"/>
<path d="M1015.7 378.3C1016.9 378.7 1020.5 380.6 1023.2 380.8C1025.8 380.9 1029.5 379.8 1031.5 379.1C1033.4 378.4 1034.3 377 1034.8 376.6"/>
<path d="M1003.2 390.8C1004.6 390.6 1009.3 389.4 1011.5 389.9C1013.7 390.5 1015.3 393 1016.5 394.1C1017.8 395.2 1018.6 396.2 1019 396.6"/>
<path d="M999 351.6L999 401.6C998.3 401.8 997 402.8 994.9 403.2C992.8 403.7 989 403.4 986.6 404.1C984.1 404.8 981.8 406.1 979.9 407.4C978 408.6 976.7 410.7 974.9 411.6C973.1 412.4 970 412.3 969.1 412.4"/>
<path d="M990.7 365L990.7 388.3"/>
<path d="M979.6 373.3L979.6 394.9"/>
<path d="M964.6 372.4L964.6 409.9"/>
<path d="M952.9 379.9L952.9 403.2"/>
<path d="M939.9 393.2C941.1 392.4 944.4 389.5 946.6 388.3C948.8 387 952.2 386.2 953.3 385.8C953.3 384.8 952.4 381.9 953.3 379.9C954.1 378 954.6 376.9 958.3 374.1C961.9 371.3 970.2 365.2 974.9 363.3C979.6 361.3 983.5 363.4 986.6 362.5C989.6 361.5 990.7 359.3 993.2 357.5C995.7 355.7 999 353.6 1001.5 351.6C1004 349.7 1006 347.9 1008.2 345.8C1010.4 343.7 1012.6 340.8 1014.8 339.2C1017.1 337.5 1017.6 336.9 1021.5 335.8C1025.4 334.7 1034.5 333.5 1038.1 332.5C1041.8 331.5 1042.3 330.4 1043.1 330"/>
<path d="M958.2 367.3C958.1 367.8 958 368.2 957.8 368.6C957.6 369 957.4 369.4 957.2 369.7C957 370.1 956.7 370.4 956.5 370.7C956.2 371.1 955.9 371.4 955.6 371.6C955.3 371.9 955 372.1 954.7 372.3C954.3 372.5 954 372.7 953.6 372.8C953.3 373 952.9 373.1 952.6 373.1C952.2 373.2 951.9 373.2 951.5 373.2C951.2 373.2 950.8 373.1 950.5 373C950.2 372.9 949.8 372.8 949.5 372.6C949.2 372.5 948.9 372.3 948.6 372.1C948.4 371.8 948.1 371.6 947.9 371.3C947.6 371 947.4 370.7 947.2 370.3C947 370 946.9 369.6 946.8 369.2C946.6 368.9 946.5 368.5 946.4 368.1C946.4 367.7 946.3 367.2 946.3 366.8C946.3 366.4 946.3 365.9 946.4 365.5C946.4 365.1 946.5 364.7 946.6 364.2C946.8 363.8 946.9 363.4 947.1 363C947.2 362.6 947.4 362.2 947.7 361.9C947.9 361.5 948.1 361.1 948.4 360.8C948.7 360.5 948.9 360.2 949.2 359.9C949.5 359.7 949.9 359.4 950.2 359.2C950.5 359 950.9 358.9 951.2 358.7C951.6 358.6 951.9 358.5 952.3 358.5C952.6 358.4 953 358.4 953.3 358.4C953.7 358.4 954 358.5 954.4 358.6C954.7 358.6 955 358.8 955.3 358.9C955.7 359.1 956 359.3 956.2 359.5C956.5 359.7 956.8 360 957 360.3C957.2 360.6 957.5 360.9 957.6 361.2C957.8 361.6 958 361.9 958.1 362.3C958.2 362.7 958.3 363.1 958.4 363.5C958.5 363.9 958.5 364.3 958.5 364.8C958.5 365.2 958.5 365.6 958.5 366.1C958.4 366.5 958.3 366.9 958.2 367.3Z"/>
<path d="M925.8 367.5L946.6 362.5"/>
<path d="M925.8 367.5L922.5 384.9"/>
<path d="M923.3 379.9L946.6 367.5"/>
<path d="M926.6 385.8L947.4 371.6"/>
<path d="M920 343.3C920.3 345 920.3 350.5 921.6 353.3C923 356.1 925.8 358.7 928.3 360C930.8 361.2 934.7 362.2 936.6 360.8C938.6 359.4 939.9 355.1 939.9 351.6C939.9 348.2 938.6 342.5 936.6 340C934.7 337.5 930.7 336.9 928.3 336.7C925.9 336.4 923.9 337.2 922.5 338.3C921.1 339.4 920.4 342.5 920 343.3"/>
<path d="M915 340.4C914.9 340.8 914.8 341.9 914.7 342.6C914.6 343.3 914.4 344 914.3 344.6C914.1 345.3 913.9 346 913.8 346.6C913.6 347.2 913.3 347.8 913.1 348.3C912.9 348.8 912.6 349.3 912.4 349.8C912.1 350.2 911.8 350.6 911.5 351C911.3 351.3 911 351.6 910.7 351.8C910.4 352 910.1 352.2 909.8 352.3C909.5 352.4 909.2 352.4 908.9 352.4C908.6 352.4 908.3 352.3 908.1 352.2C907.8 352 907.5 351.8 907.3 351.5C907 351.3 906.8 350.9 906.6 350.5C906.3 350.2 906.1 349.7 906 349.2C905.8 348.8 905.6 348.2 905.5 347.6C905.3 347.1 905.2 346.5 905.1 345.8C905 345.2 905 344.5 904.9 343.8C904.9 343.1 904.9 342.4 904.9 341.7C904.9 341 905 339.9 905 339.6"/>
<path d="M939.1 413.2L939.1 436.5L946.6 429.9"/>
<path d="M946.6 429.9C946.2 428.8 944.1 425.2 944.1 423.2C944.1 421.3 946.2 419 946.6 418.2"/>
<path d="M946.6 429.9L956.6 434.9"/>
<path d="M954.1 428.2C954.2 429 954 432.2 954.9 433.2C955.9 434.2 958.4 434.6 959.9 434C961.4 433.5 963.5 431 964.1 429.9C964.6 428.8 963.4 427.8 963.2 427.4"/>
<path d="M956.6 424.9C956.5 425.7 955.3 428.8 955.8 429.9C956.2 431 958.1 431.7 959.1 431.5C960.1 431.4 961.2 429.5 961.6 429"/>
<path d="M923.3 452.3C927.7 451.1 943.6 447.2 949.9 444.8C956.3 442.5 957.1 439.9 961.6 438.2C966 436.5 974.1 435.4 976.6 434.9"/>
<path d="M959.9 439L971.6 434"/>
</g>
<g fill="none" stroke="#000" stroke-width="2" stroke-linecap="round" stroke-linejoin="round">
<path d="M371.2 596.4C371.6 594.9 372 592.6 373.7 587.4C375.4 582.1 378.5 572.6 381.2 564.9C383.9 557.2 388.2 546.2 389.9 541.2C391.7 536.2 391 536.8 391.8 535C392.6 533.1 393.8 531.3 394.9 530C396.1 528.6 396.8 527.9 398.7 526.8C400.6 525.8 403.5 525 406.2 523.7C408.9 522.5 412.4 520.9 414.9 519.4C417.4 517.8 419.1 515.5 421.1 514.4C423.2 513.2 425.1 512.8 427.4 512.5C429.7 512.2 432.4 512.1 434.9 512.5C437.4 512.9 439.9 513.9 442.4 515C444.9 516 447.4 517.1 449.9 518.7C452.4 520.4 454.9 522.7 457.4 525C459.8 527.3 462.4 529.9 464.8 532.5C467.2 535.1 469.6 537.7 471.7 540.6C473.8 543.5 475.6 546.7 477.3 549.9C479.1 553.2 481 556.8 482.3 559.9C483.6 563 484.4 565.3 485.2 568.7C486 572 486.7 576.4 487.1 579.9C487.5 583.4 487.7 586.8 487.6 589.9C487.4 593 486.5 597.2 486.3 598.6L413 758.7C412.6 759.3 411.8 761 410.4 762.4C409.1 763.9 407 765.7 404.8 767.4C402.6 769.1 400.2 770.4 397.3 772.4C394.4 774.4 390.7 777.3 387.3 779.3C384 781.2 380.3 783.1 377.3 784.3C374.4 785.4 372.8 786 369.9 786.4C366.9 786.8 363 786.8 359.9 786.8C356.7 786.8 354 786.8 351.1 786.4C348.2 786 345.7 785.4 342.4 784.3C339.1 783.1 335.3 781.7 331.1 779.3C327 776.9 322 773.7 317.4 769.9C312.8 766.1 308.3 761.2 303.7 756.2C299.1 751.2 294.3 746.2 289.9 739.9C285.6 733.7 280.8 725.4 277.5 718.7C274.1 712.1 271.9 705.4 270 700C268.1 694.6 267.2 690.1 266.2 686.1C265.3 682.1 264.9 679.5 264.3 676.1C263.8 672.8 263.1 669.7 262.9 666.1C262.6 662.6 262.6 658.4 262.9 654.9C263.1 651.4 263.7 648 264.3 644.9C265 641.8 265.7 639 266.8 636.2C268 633.4 269.6 630.5 271.2 628.1C272.8 625.7 274.3 623.7 276.2 621.8C278.1 619.9 279.7 618.5 282.4 616.8C285.2 615.2 289.5 613.5 292.4 611.8C295.3 610.2 298.1 608.2 299.9 606.8C301.8 605.5 303 604.2 303.7 603.7C305.5 603.5 308.5 603 314.9 602.2C321.4 601.4 333 600 342.4 599C351.7 598 366.3 596.7 371.1 596.2"/>
<path d="M524.6 548.4C524.3 547.5 523.4 545.4 522.5 542.6C521.6 539.8 520.3 535.5 519.2 531.7C518.1 528 516.8 523.6 515.9 520C514.9 516.4 513.8 512.2 513.3 510C512.9 507.8 513.5 508.8 513.3 506.8C513.2 504.9 512.4 501.5 512.5 498.5C512.6 495.4 513.2 491.5 513.8 488.4C514.3 485.4 514.9 482.7 515.9 480.1C516.8 477.5 517.7 475.1 519.2 472.6C520.7 470.1 523 467.4 525 465.1C527.1 462.7 529.5 460.1 531.7 458.4C533.9 456.6 536.3 455.9 538.4 454.6C540.5 453.3 541.9 451.8 544.2 450.4C546.6 449.1 550 447.7 552.6 446.7C555.3 445.7 557.8 445 560.1 444.6C562.5 444.2 564.6 444.1 566.8 444.2C569 444.2 571.3 444.5 573.5 445C575.7 445.5 578.2 446.5 580.2 447.1C582.1 447.7 584 448.4 585.2 448.8C586.4 449.1 586.9 449.1 587.3 449.2"/>
<path d="M587.3 449.2C587.6 449 588.6 448.4 589.4 448.2C590.1 448 590.3 447.8 591.9 447.8C593.4 447.7 596.3 447.6 598.5 447.9C600.8 448.2 602.9 448.8 605.2 449.6C607.6 450.4 610.3 451.6 612.8 452.9C615.3 454.3 617.7 455.9 620.3 457.5C622.8 459.1 625.9 461.2 628 462.6C630 464 631.2 464.6 632.7 465.9C634.2 467.2 635.4 468.6 636.8 470.1C638.2 471.6 639.3 472.7 641 475.1C642.7 477.5 645.1 481.5 646.9 484.3C648.7 487.1 650.4 489.2 651.9 491.8C653.4 494.4 654.6 497.2 656 500.2C657.4 503.2 659 507 660.2 510C661.5 513 662.7 515.6 663.6 518.4C664.5 521.1 665.2 523.9 665.7 526.7C666.1 529.5 666.4 532.3 666.5 535.1C666.6 537.8 666.7 540.6 666.5 543.4C666.3 546.2 665.7 549.3 665.2 551.8C664.8 554.3 663.8 557.3 663.6 558.5C662.7 559.4 660.2 562.1 658.5 564.3C656.9 566.5 654.9 569.5 653.5 571.8C652.1 574.2 651.2 576.3 650.2 578.5C649.2 580.7 648.4 583.3 647.7 585.2C647 587.1 646.9 588.5 646.1 590.1C645.3 591.8 644 593.6 642.8 595.1C641.5 596.7 640.1 598.2 638.6 599.3C637.1 600.4 635.3 601.1 633.6 601.8C631.9 602.5 629.4 603.2 628.6 603.5"/>
<path d="M628.6 603.5C627.9 603.9 625.5 605.1 624.4 606C623.3 606.9 623.2 607.9 621.9 608.9C620.6 609.9 618.8 610.9 616.9 611.8C614.9 612.7 612.7 613.8 610.2 614.3C607.7 614.8 604.6 614.8 601.9 614.8C599.1 614.9 596.3 615.1 593.5 614.8C590.7 614.4 587.9 613.6 585.1 612.7C582.4 611.8 579.8 611 576.8 609.3C573.7 607.7 570 605 566.8 602.6C563.6 600.3 560.5 597.8 557.6 595.1C554.6 592.5 551.7 589.6 549.2 586.8C546.7 584 544.6 581.2 542.5 578.4C540.4 575.6 538.3 572.6 536.7 570.1C535 567.6 533.2 564.5 532.5 563.4"/>
<path d="M556.8 454.2L568.5 453.6"/>
<path d="M556.8 503.5L563.5 503.7"/>
<path d="M576.8 572.2L586.9 571.4"/>
<path d="M602.6 566.4L597.6 574.3"/>
<path d="M789.3 476.2C789.4 475.4 789.2 472.8 789.9 471.2C790.6 469.7 792.2 467.9 793.6 466.9C795.1 465.8 797 465.1 798.6 464.7C800.3 464.4 802 464.5 803.6 465C805.3 465.4 807.3 466.2 808.6 467.5C810 468.7 810.8 470.7 811.7 472.5C812.7 474.2 813.3 476.3 814.2 478.1C815.2 479.9 815.6 481.4 817.4 483.1C819.1 484.8 823.6 487.2 824.8 488.1C826.9 489 828.6 489.8 837.3 493.7C846 497.6 866.2 506.1 877 511.2C887.9 516.3 895.2 520.5 902.4 524.3C909.5 528.2 916.9 532.7 919.8 534.3C921.1 535.5 924.8 538.8 927.3 541.2C929.8 543.6 932.3 546 934.8 548.7C937.3 551.4 940.4 554.5 942.3 557.4C944.2 560.3 945 563.3 946 566.2C947.1 569.1 948 571.8 948.5 574.9C949.1 578 949.3 581.8 949.2 584.9C949.1 588 948.7 590.9 947.9 593.6C947.2 596.3 946.2 599 944.8 601.1C943.5 603.2 941.9 604.7 939.8 606.1C937.7 607.5 934.8 609 932.3 609.6C929.8 610.2 926.1 609.6 924.8 609.6L884.9 599.9"/>
<path d="M861.2 593.9C858.5 593.3 848.7 591.7 844.9 590.5C841.2 589.3 840.4 588.1 838.7 586.8C837 585.4 836 584.2 834.9 582.4C833.9 580.6 832.9 577.2 832.5 576.1L796.8 491.2"/>
<path d="M728.7 516.9C728.1 516.8 726 516.2 724.9 515.9C723.9 515.6 723.4 515.2 722.4 515.2C721.4 515.3 720.1 515.7 719 516.3C717.9 516.9 716.8 517.5 716 518.6C715.3 519.7 714.5 521.4 714.3 522.9C714.2 524.3 714.6 526.1 715.2 527.5C715.8 528.9 717 530.3 717.7 531.3C718.5 532.3 719 532.9 719.8 533.4C720.7 534 722.3 534.3 722.8 534.5C723.8 534.5 727.3 534.5 728.7 534.3C730.2 534.1 731.2 533.6 731.7 533.4C731.9 532.9 732.5 531.6 732.8 530.5C733 529.3 732.9 527.3 733 526.7"/>
<path d="M728.7 516.9C728.9 517.4 729.4 518.7 730 519.9C730.6 521.1 731.6 523 732.1 524.1C732.6 525.3 732.8 526.2 733 526.7"/>
<path d="M728.7 516.9L745.2 506.3"/>
<path d="M745.2 506.3C745.8 506.3 747.7 506 748.6 506.3C749.5 506.7 750.2 507.7 750.7 508.5C751.3 509.2 751.6 509.9 751.8 511C752 512.1 752 514.3 751.8 515.2C751.6 516.2 750.6 516.3 750.3 516.5"/>
<path d="M733 526.7L750.3 516.5"/>
<path d="M385.9 453.4C385.3 453.3 383.2 452.7 382.1 452.4C381.1 452.1 380.6 451.7 379.6 451.7C378.6 451.8 377.3 452.2 376.2 452.8C375.1 453.4 374 454 373.2 455.1C372.5 456.2 371.7 457.9 371.5 459.4C371.4 460.8 371.8 462.6 372.4 464C373 465.4 374.2 466.8 374.9 467.8C375.7 468.8 376.2 469.4 377 469.9C377.9 470.5 379.5 470.8 380 471C381 471 384.5 471 385.9 470.8C387.4 470.6 388.4 470.1 388.9 469.9C389.1 469.4 389.7 468.1 390 467C390.2 465.8 390.1 463.8 390.2 463.2"/>
<path d="M385.9 453.4C386.1 453.9 386.6 455.2 387.2 456.4C387.8 457.6 388.8 459.5 389.3 460.6C389.8 461.8 390 462.7 390.2 463.2"/>
<path d="M385.9 453.4L402.4 442.8"/>
<path d="M402.4 442.8C403 442.8 404.9 442.5 405.8 442.8C406.7 443.2 407.4 444.2 407.9 445C408.5 445.7 408.8 446.4 409 447.5C409.2 448.6 409.2 450.8 409 451.7C408.8 452.7 407.8 452.8 407.5 453"/>
<path d="M390.2 463.2L407.5 453"/>
<path d="M633.2 729.9C633.3 728.8 633.8 727.6 634.8 726.7C635.7 725.9 638 725.4 638.8 724.8C639.6 724.3 638.9 723.5 639.5 723.3C640 723 641.1 723 642 723.3C642.9 723.5 644.1 724.2 644.8 724.8C645.5 725.5 645.9 726.1 646.4 727C646.8 727.9 647.3 729 647.6 730.2C648 731.3 648.6 732.9 648.6 733.9C648.6 735 648.3 735.7 647.6 736.5C646.9 737.2 645.6 738 644.5 738.3C643.3 738.7 642 738.7 640.7 738.7C639.5 738.7 637.8 738.9 636.9 738.3C636.1 737.8 635.9 736 635.4 735.2C634.9 734.4 634.5 734.2 634.1 733.3C633.8 732.4 633.1 731 633.2 729.9Z"/>
<path d="M645.4 725.2L663.3 714.5"/>
<path d="M648.6 731.1L666.8 722"/>
<path d="M663.3 714.5C663.7 714.5 665.1 714 665.8 714.5C666.5 715 667.1 716.7 667.4 717.6C667.7 718.6 667.5 719.4 667.4 720.1C667.3 720.9 666.9 721.7 666.8 722"/>
<path d="M753.8 657.3C753.5 656.3 752.5 653.5 752.1 651.5C751.7 649.4 751.2 646.9 751.3 644.8C751.4 642.7 752 640.5 752.5 638.9C753.1 637.3 753.4 636.3 754.6 635.2C755.9 634 758 633.4 760.1 632.2C762.1 631.1 765.6 628.8 766.7 628.1L766.3 625.1C766.8 624.9 768.3 624.2 769.3 623.5C770.2 622.8 771.3 621.4 771.8 621"/>
<path d="M771.8 621L764.7 617.2L766.3 614.5L773 619.7L774.7 620.1L773.4 616.8L775.9 615.1L781.8 611.4L785.1 611.2"/>
<path d="M785.1 611.2C786.2 611.9 789.6 614.1 791.8 615.5C794 617 796.5 618.3 798.5 619.7C800.4 621.1 801.8 622.3 803.5 623.9C805.2 625.5 807.7 628.4 808.5 629.3"/>
<path d="M808.9 629.6C809.4 629.2 810.9 627.8 811.9 627.2C812.8 626.7 813.8 626.3 814.8 626.4C815.8 626.5 817.1 626.8 817.7 627.6C818.3 628.5 818.6 630.3 818.5 631.4C818.5 632.5 818.1 633.5 817.3 634.3C816.5 635.2 814.5 636.3 813.5 636.4C812.6 636.6 812 635.4 811.7 635.2"/>
<path d="M810.6 631.4C810.9 632.2 811.6 634.6 812.3 636.4C812.9 638.2 813.9 640 814.4 642.3C814.9 644.5 815.1 647.4 815.2 649.8C815.3 652.2 815.1 654.7 814.8 656.5C814.5 658.3 813.7 659.9 813.5 660.6C812.3 661.4 808.5 663.6 806 665.2C803.5 666.9 800.1 669.6 798.5 670.7C796.9 671.7 796.8 671.4 796.4 671.5"/>
<path d="M756.3 675.5C756.2 676.8 755.6 680.4 755.5 683.4C755.3 686.4 755.3 690.4 755.5 693.4C755.7 696.5 756 699 756.7 701.8C757.5 704.6 758.7 707.3 760.1 710.1C761.5 712.9 763.3 716 765.1 718.5C766.9 721 769 723.2 770.9 725.2C772.9 727.1 775 728.9 776.8 730.2C778.6 731.4 779.8 732.2 781.8 732.7C783.7 733.2 786.5 733.2 788.5 733.1C790.4 733 791.8 732.8 793.5 731.8C795.2 730.9 796.8 729.2 798.5 727.7C800.2 726.1 802.1 724.3 803.5 722.7C804.9 721 806.1 719.5 806.8 717.6C807.6 715.8 807.9 713.9 808.1 711.8C808.3 709.7 808.4 707.6 808.1 705.1C807.8 702.6 807.1 699.4 806 696.8C805 694.1 803.2 691.3 801.8 689.2C800.4 687.2 798.8 685.3 797.7 684.2C796.5 683.2 795.6 683.2 795.2 683"/>
<path d="M795.6 670L795.2 683"/>
<path d="M814.4 660C813 660.8 808.7 663.3 806 665C803.4 666.7 800.1 669.1 798.5 670C796.9 671 796.8 670.7 796.4 670.9"/>
<path d="M1027.7 329.8L1034.4 329.8"/>
</g>
<g fill="none" stroke="#000" stroke-width="1.5" stroke-linecap="round" stroke-linejoin="round">
<path d="M554.9 487.9C554.9 488.1 555 488.4 555.1 488.7C555.1 488.9 555.2 489.2 555.2 489.4C555.3 489.7 555.3 489.9 555.3 490.2C555.3 490.4 555.3 490.6 555.2 490.9C555.2 491.1 555.1 491.3 555.1 491.5C555 491.7 554.9 491.9 554.9 492.1C554.8 492.2 554.7 492.4 554.6 492.5C554.4 492.7 554.3 492.8 554.2 492.9C554 493 553.9 493.1 553.7 493.1C553.6 493.2 553.4 493.2 553.2 493.2C553.1 493.2 552.9 493.2 552.7 493.2C552.6 493.2 552.4 493.1 552.2 493C552 493 551.8 492.9 551.7 492.7C551.5 492.6 551.3 492.5 551.1 492.3C551 492.2 550.8 492 550.6 491.8C550.5 491.6 550.3 491.4 550.2 491.2C550.1 491 549.9 490.8 549.8 490.6C549.7 490.3 549.6 490.1 549.5 489.8C549.4 489.6 549.4 489.3 549.3 489.1C549.2 488.8 549.2 488.6 549.2 488.3C549.1 488.1 549.1 487.8 549.1 487.6C549.1 487.4 549.1 487.1 549.2 486.9C549.2 486.7 549.2 486.5 549.3 486.2C549.4 486 549.4 485.9 549.5 485.7C549.6 485.5 549.7 485.4 549.8 485.2C549.9 485.1 550.1 485 550.2 484.9C550.3 484.8 550.5 484.7 550.6 484.6C550.8 484.6 551 484.5 551.1 484.5C551.3 484.5 551.5 484.5 551.7 484.6C551.8 484.6 552 484.6 552.2 484.7C552.4 484.8 552.5 484.9 552.7 485C552.9 485.1 553.1 485.3 553.2 485.4C553.4 485.6 553.6 485.7 553.7 485.9C553.9 486.1 554 486.3 554.2 486.5C554.3 486.7 554.4 486.9 554.5 487.2C554.7 487.4 554.8 487.7 554.9 487.9Z"/>
<path d="M532.7 514.2C532.8 514.5 532.9 514.7 532.9 515C533 515.2 533.1 515.5 533.1 515.7C533.1 516 533.1 516.2 533.1 516.5C533.1 516.7 533.1 516.9 533.1 517.2C533.1 517.4 533 517.6 532.9 517.8C532.9 518 532.8 518.2 532.7 518.4C532.6 518.5 532.5 518.7 532.4 518.8C532.3 519 532.2 519.1 532 519.2C531.9 519.3 531.7 519.4 531.6 519.4C531.4 519.5 531.3 519.5 531.1 519.5C530.9 519.5 530.8 519.5 530.6 519.5C530.4 519.5 530.2 519.4 530.1 519.3C529.9 519.3 529.7 519.2 529.5 519.1C529.3 518.9 529.2 518.8 529 518.7C528.8 518.5 528.7 518.3 528.5 518.1C528.4 518 528.2 517.8 528.1 517.6C527.9 517.3 527.8 517.1 527.7 516.9C527.6 516.6 527.5 516.4 527.4 516.2C527.3 515.9 527.2 515.7 527.2 515.4C527.1 515.2 527 514.9 527 514.7C527 514.4 527 514.2 527 513.9C527 513.7 527 513.4 527 513.2C527 513 527.1 512.8 527.2 512.6C527.2 512.4 527.3 512.2 527.4 512C527.5 511.8 527.6 511.7 527.7 511.5C527.8 511.4 527.9 511.3 528.1 511.2C528.2 511.1 528.4 511 528.5 510.9C528.7 510.9 528.8 510.9 529 510.8C529.2 510.8 529.3 510.8 529.5 510.9C529.7 510.9 529.9 511 530 511C530.2 511.1 530.4 511.2 530.6 511.3C530.8 511.4 530.9 511.6 531.1 511.7C531.3 511.9 531.4 512 531.6 512.2C531.7 512.4 531.9 512.6 532 512.8C532.2 513 532.3 513.3 532.4 513.5C532.5 513.7 532.6 514 532.7 514.2Z"/>
<path d="M593.7 509.2C593.8 509.4 593.9 509.7 593.9 510C594 510.2 594 510.5 594.1 510.7C594.1 511 594.1 511.2 594.1 511.5C594.1 511.7 594.1 511.9 594.1 512.2C594 512.4 594 512.6 593.9 512.8C593.9 513 593.8 513.2 593.7 513.4C593.6 513.5 593.5 513.7 593.4 513.8C593.3 514 593.2 514.1 593 514.2C592.9 514.3 592.7 514.4 592.6 514.4C592.4 514.5 592.3 514.5 592.1 514.5C591.9 514.5 591.7 514.5 591.6 514.5C591.4 514.5 591.2 514.4 591 514.3C590.9 514.3 590.7 514.2 590.5 514C590.3 513.9 590.2 513.8 590 513.6C589.8 513.5 589.7 513.3 589.5 513.1C589.3 513 589.2 512.7 589.1 512.5C588.9 512.3 588.8 512.1 588.7 511.9C588.6 511.6 588.5 511.4 588.4 511.1C588.3 510.9 588.2 510.6 588.1 510.4C588.1 510.1 588 509.9 588 509.6C588 509.4 588 509.1 588 508.9C588 508.7 588 508.4 588 508.2C588 508 588.1 507.8 588.1 507.6C588.2 507.4 588.3 507.2 588.4 507C588.5 506.8 588.6 506.7 588.7 506.5C588.8 506.4 588.9 506.3 589.1 506.2C589.2 506.1 589.3 506 589.5 505.9C589.6 505.9 589.8 505.8 590 505.8C590.1 505.8 590.3 505.8 590.5 505.9C590.7 505.9 590.9 505.9 591 506C591.2 506.1 591.4 506.2 591.6 506.3C591.7 506.4 591.9 506.6 592.1 506.7C592.3 506.9 592.4 507 592.6 507.2C592.7 507.4 592.9 507.6 593 507.8C593.2 508 593.3 508.3 593.4 508.5C593.5 508.7 593.6 509 593.7 509.2Z"/>
<path d="M613.8 560.8C613.8 561.1 613.9 561.3 614 561.6C614 561.8 614.1 562.1 614.1 562.3C614.2 562.6 614.2 562.8 614.2 563.1C614.2 563.3 614.2 563.6 614.1 563.8C614.1 564 614 564.2 614 564.4C613.9 564.6 613.8 564.8 613.8 565C613.7 565.2 613.6 565.3 613.4 565.4C613.3 565.6 613.2 565.7 613.1 565.8C612.9 565.9 612.8 566 612.6 566C612.5 566.1 612.3 566.1 612.1 566.1C612 566.2 611.8 566.1 611.6 566.1C611.4 566.1 611.3 566 611.1 566C610.9 565.9 610.7 565.8 610.6 565.7C610.4 565.6 610.2 565.4 610 565.3C609.9 565.1 609.7 564.9 609.5 564.8C609.4 564.6 609.2 564.4 609.1 564.2C609 563.9 608.8 563.7 608.7 563.5C608.6 563.3 608.5 563 608.4 562.8C608.3 562.5 608.3 562.3 608.2 562C608.1 561.8 608.1 561.5 608.1 561.3C608 561 608 560.8 608 560.5C608 560.3 608 560 608 559.8C608.1 559.6 608.1 559.4 608.2 559.2C608.2 559 608.3 558.8 608.4 558.6C608.5 558.4 608.6 558.3 608.7 558.1C608.8 558 609 557.9 609.1 557.8C609.2 557.7 609.4 557.6 609.5 557.6C609.7 557.5 609.9 557.5 610 557.5C610.2 557.4 610.4 557.4 610.5 557.5C610.7 557.5 610.9 557.6 611.1 557.6C611.3 557.7 611.4 557.8 611.6 557.9C611.8 558 612 558.2 612.1 558.3C612.3 558.5 612.5 558.7 612.6 558.8C612.8 559 612.9 559.2 613.1 559.4C613.2 559.6 613.3 559.9 613.4 560.1C613.6 560.3 613.7 560.6 613.8 560.8Z"/>
<path d="M553.6 564.2C553.7 564.4 553.8 564.7 553.8 564.9C553.9 565.2 553.9 565.4 554 565.7C554 565.9 554 566.2 554 566.4C554 566.7 554 566.9 554 567.1C553.9 567.3 553.9 567.6 553.8 567.8C553.8 568 553.7 568.2 553.6 568.3C553.5 568.5 553.4 568.7 553.3 568.8C553.2 568.9 553.1 569 552.9 569.1C552.8 569.2 552.6 569.3 552.5 569.4C552.3 569.4 552.2 569.5 552 569.5C551.8 569.5 551.6 569.5 551.5 569.5C551.3 569.4 551.1 569.4 550.9 569.3C550.8 569.2 550.6 569.1 550.4 569C550.2 568.9 550.1 568.8 549.9 568.6C549.7 568.5 549.6 568.3 549.4 568.1C549.2 567.9 549.1 567.7 549 567.5C548.8 567.3 548.7 567.1 548.6 566.8C548.5 566.6 548.4 566.4 548.3 566.1C548.2 565.9 548.1 565.6 548 565.4C548 565.1 547.9 564.9 547.9 564.6C547.9 564.4 547.9 564.1 547.9 563.9C547.9 563.6 547.9 563.4 547.9 563.2C547.9 562.9 548 562.7 548 562.5C548.1 562.3 548.2 562.1 548.3 562C548.4 561.8 548.5 561.6 548.6 561.5C548.7 561.3 548.8 561.2 549 561.1C549.1 561 549.2 561 549.4 560.9C549.5 560.8 549.7 560.8 549.9 560.8C550 560.8 550.2 560.8 550.4 560.8C550.6 560.9 550.8 560.9 550.9 561C551.1 561.1 551.3 561.2 551.5 561.3C551.6 561.4 551.8 561.5 552 561.7C552.2 561.8 552.3 562 552.5 562.2C552.6 562.4 552.8 562.6 552.9 562.8C553.1 563 553.2 563.2 553.3 563.4C553.4 563.7 553.5 563.9 553.6 564.2Z"/>
<path d="M593.2 587.9C593.3 588.1 593.4 588.4 593.5 588.6C593.5 588.9 593.6 589.1 593.6 589.4C593.6 589.6 593.7 589.9 593.7 590.1C593.7 590.4 593.6 590.6 593.6 590.8C593.6 591.1 593.5 591.3 593.5 591.5C593.4 591.7 593.3 591.9 593.2 592C593.1 592.2 593 592.4 592.9 592.5C592.8 592.6 592.7 592.8 592.6 592.9C592.4 593 592.3 593 592.1 593.1C592 593.2 591.8 593.2 591.6 593.2C591.5 593.2 591.3 593.2 591.1 593.2C590.9 593.1 590.7 593.1 590.6 593C590.4 592.9 590.2 592.8 590 592.7C589.9 592.6 589.7 592.5 589.5 592.3C589.3 592.2 589.2 592 589 591.8C588.9 591.6 588.7 591.4 588.6 591.2C588.5 591 588.3 590.8 588.2 590.6C588.1 590.3 588 590.1 587.9 589.8C587.8 589.6 587.7 589.3 587.7 589.1C587.6 588.8 587.6 588.6 587.5 588.3C587.5 588.1 587.5 587.8 587.5 587.6C587.5 587.3 587.5 587.1 587.5 586.9C587.6 586.7 587.6 586.4 587.7 586.2C587.7 586 587.8 585.8 587.9 585.7C588 585.5 588.1 585.3 588.2 585.2C588.3 585.1 588.4 585 588.6 584.9C588.7 584.8 588.9 584.7 589 584.6C589.2 584.6 589.3 584.5 589.5 584.5C589.7 584.5 589.9 584.5 590 584.5C590.2 584.6 590.4 584.6 590.6 584.7C590.7 584.8 590.9 584.9 591.1 585C591.3 585.1 591.5 585.2 591.6 585.4C591.8 585.5 592 585.7 592.1 585.9C592.3 586.1 592.4 586.3 592.5 586.5C592.7 586.7 592.8 586.9 592.9 587.2C593 587.4 593.1 587.6 593.2 587.9Z"/>
<path d="M593.5 578.4L596.8 576.7L603.5 566.7L605.2 567.1L598.5 576.7"/>
<path d="M716.9 520.7L722 520.7"/>
<path d="M722 520.7C722.7 521.8 725.6 525.6 726.6 527.1C727.6 528.6 727.8 528.6 727.9 529.6C728 530.6 727.2 532.4 727 533"/>
<path d="M374.1 457.2L379.2 457.2"/>
<path d="M379.2 457.2C379.9 458.3 382.8 462.1 383.8 463.6C384.8 465.1 385 465.1 385.1 466.1C385.2 467.1 384.4 468.9 384.2 469.5"/>
<path d="M640.1 726.1C640.5 726.8 642.1 728.4 642.6 730.2C643.1 732 643.1 735.7 643.2 736.8"/>
<path d="M641.7 725.2C642.2 726 644.2 728.4 644.8 730.2C645.4 732 645.3 734.9 645.4 735.8"/>
<path d="M640 731.6C640 731.7 640.1 731.9 640.1 732C640.1 732.1 640.2 732.3 640.2 732.4C640.2 732.6 640.2 732.7 640.2 732.8C640.2 733 640.2 733.1 640.1 733.2C640.1 733.4 640.1 733.5 640 733.6C640 733.7 640 733.8 639.9 733.9C639.8 734 639.8 734.1 639.7 734.2C639.6 734.3 639.5 734.3 639.5 734.4C639.4 734.5 639.3 734.5 639.2 734.5C639.1 734.6 639 734.6 638.9 734.6C638.8 734.6 638.7 734.6 638.6 734.6C638.5 734.6 638.4 734.6 638.2 734.5C638.1 734.5 638 734.4 637.9 734.4C637.8 734.3 637.7 734.2 637.6 734.2C637.5 734.1 637.4 734 637.3 733.9C637.2 733.8 637.2 733.7 637.1 733.6C637 733.4 636.9 733.3 636.9 733.2C636.8 733.1 636.7 732.9 636.7 732.8C636.6 732.6 636.6 732.5 636.6 732.4C636.5 732.2 636.5 732.1 636.5 731.9C636.5 731.8 636.5 731.7 636.5 731.5C636.5 731.4 636.5 731.3 636.5 731.1C636.5 731 636.6 730.9 636.6 730.8C636.7 730.6 636.7 730.5 636.8 730.4C636.8 730.3 636.9 730.3 637 730.2C637 730.1 637.1 730 637.2 730C637.3 729.9 637.4 729.9 637.5 729.8C637.6 729.8 637.7 729.8 637.8 729.8C637.9 729.7 638 729.7 638.1 729.8C638.2 729.8 638.3 729.8 638.4 729.8C638.5 729.9 638.6 729.9 638.7 730C638.8 730.1 638.9 730.1 639 730.2C639.1 730.3 639.2 730.4 639.3 730.5C639.4 730.6 639.5 730.7 639.6 730.8C639.7 730.9 639.7 731.1 639.8 731.2C639.9 731.3 639.9 731.4 640 731.6Z"/>
<path d="M657 721.7L664.9 719"/>
<path d="M796.8 662.3C796.9 663.2 797.3 666.2 797.2 667.3C797.2 668.4 796.8 668.6 796.4 669C796.1 669.4 795.4 669.7 795.2 669.8"/>
<path d="M776.4 615.5L779.3 618.9L782.6 623.1"/>
<path d="M773.3 656.5C773.4 656.9 773.4 657.2 773.5 657.6C773.5 657.9 773.5 658.3 773.5 658.6C773.5 658.9 773.5 659.3 773.5 659.6C773.4 659.9 773.3 660.2 773.2 660.5C773.1 660.8 773 661.1 772.9 661.4C772.7 661.7 772.6 661.9 772.4 662.2C772.2 662.4 772 662.6 771.8 662.8C771.6 663 771.4 663.1 771.1 663.2C770.9 663.4 770.6 663.5 770.4 663.5C770.1 663.6 769.9 663.6 769.6 663.6C769.3 663.7 769.1 663.6 768.8 663.6C768.5 663.5 768.2 663.5 768 663.3C767.7 663.2 767.4 663.1 767.2 662.9C766.9 662.8 766.7 662.6 766.4 662.4C766.2 662.2 766 661.9 765.8 661.7C765.6 661.4 765.4 661.1 765.2 660.8C765 660.5 764.9 660.2 764.7 659.9C764.6 659.6 764.5 659.2 764.4 658.9C764.3 658.6 764.2 658.2 764.2 657.9C764.1 657.5 764.1 657.2 764.1 656.9C764.1 656.5 764.2 656.2 764.2 655.8C764.3 655.5 764.3 655.2 764.4 654.9C764.5 654.6 764.7 654.3 764.8 654C764.9 653.8 765.1 653.5 765.3 653.3C765.4 653.1 765.6 652.8 765.9 652.7C766.1 652.5 766.3 652.3 766.5 652.2C766.8 652.1 767 652 767.3 651.9C767.5 651.8 767.8 651.8 768.1 651.8C768.3 651.8 768.6 651.8 768.9 651.9C769.2 651.9 769.4 652 769.7 652.1C770 652.2 770.2 652.3 770.5 652.5C770.7 652.7 771 652.9 771.2 653.1C771.5 653.3 771.7 653.5 771.9 653.8C772.1 654 772.3 654.3 772.5 654.6C772.6 654.9 772.8 655.2 772.9 655.5C773.1 655.9 773.2 656.2 773.3 656.5Z"/>
<path d="M770.4 656.8C770.5 656.9 770.5 657.1 770.5 657.3C770.6 657.5 770.6 657.7 770.6 657.8C770.6 658 770.6 658.2 770.6 658.4C770.6 658.5 770.5 658.7 770.5 658.9C770.5 659 770.4 659.2 770.3 659.3C770.3 659.4 770.2 659.6 770.1 659.7C770.1 659.8 770 659.9 769.9 660C769.8 660.1 769.7 660.2 769.6 660.2C769.5 660.3 769.4 660.3 769.2 660.4C769.1 660.4 769 660.4 768.9 660.4C768.8 660.4 768.6 660.4 768.5 660.4C768.4 660.3 768.2 660.3 768.1 660.2C768 660.2 767.9 660.1 767.7 660C767.6 659.9 767.5 659.8 767.4 659.7C767.3 659.6 767.2 659.4 767.1 659.3C767 659.2 766.9 659 766.8 658.9C766.7 658.7 766.6 658.5 766.6 658.4C766.5 658.2 766.4 658 766.4 657.8C766.4 657.7 766.3 657.5 766.3 657.3C766.3 657.1 766.2 656.9 766.2 656.8C766.2 656.6 766.2 656.4 766.3 656.2C766.3 656.1 766.3 655.9 766.3 655.7C766.4 655.6 766.4 655.4 766.5 655.3C766.5 655.2 766.6 655 766.7 654.9C766.8 654.8 766.9 654.7 767 654.6C767 654.5 767.2 654.4 767.3 654.4C767.4 654.3 767.5 654.3 767.6 654.2C767.7 654.2 767.8 654.2 768 654.2C768.1 654.2 768.2 654.2 768.3 654.2C768.5 654.3 768.6 654.3 768.7 654.4C768.8 654.4 769 654.5 769.1 654.6C769.2 654.7 769.3 654.8 769.4 654.9C769.5 655 769.7 655.2 769.8 655.3C769.9 655.4 769.9 655.6 770 655.7C770.1 655.9 770.2 656.1 770.3 656.2C770.3 656.4 770.4 656.6 770.4 656.8Z"/>
<path d="M763.4 653.1L765.1 664.8L773.4 665.2L775.9 661.5"/>
<path d="M762.2 670C763.2 671 766.5 674.3 768.4 675.9C770.3 677.4 771.8 678.5 773.4 679.2C775.1 679.9 776.8 680.3 778.4 680.1C780.1 679.8 782.1 679.1 783.5 678C784.8 676.8 786 675 786.8 673.4C787.6 671.8 788.2 669.2 788.5 668.4"/>
<path d="M774.2 709.5C774.3 709.8 774.4 710.1 774.4 710.4C774.5 710.7 774.5 711 774.6 711.3C774.6 711.6 774.6 712 774.6 712.3C774.5 712.6 774.5 712.9 774.4 713.2C774.4 713.4 774.3 713.7 774.2 714C774 714.2 773.9 714.5 773.8 714.7C773.6 714.9 773.4 715.1 773.3 715.3C773.1 715.5 772.9 715.7 772.7 715.8C772.4 715.9 772.2 716.1 772 716.1C771.7 716.2 771.5 716.3 771.2 716.3C771 716.4 770.7 716.4 770.5 716.3C770.2 716.3 769.9 716.3 769.7 716.2C769.4 716.1 769.2 716 768.9 715.9C768.7 715.8 768.4 715.6 768.2 715.4C767.9 715.3 767.7 715.1 767.5 714.8C767.3 714.6 767.1 714.4 766.9 714.1C766.7 713.9 766.5 713.6 766.4 713.3C766.2 713 766.1 712.7 766 712.4C765.9 712.1 765.8 711.8 765.7 711.5C765.7 711.2 765.6 710.9 765.6 710.6C765.6 710.3 765.6 710 765.6 709.7C765.6 709.4 765.7 709.1 765.7 708.8C765.8 708.5 765.9 708.2 766 707.9C766.1 707.7 766.3 707.4 766.4 707.2C766.6 707 766.7 706.8 766.9 706.6C767.1 706.4 767.3 706.3 767.5 706.1C767.7 706 768 705.9 768.2 705.8C768.4 705.7 768.7 705.6 768.9 705.6C769.2 705.6 769.5 705.6 769.7 705.6C770 705.6 770.2 705.7 770.5 705.7C770.8 705.8 771 705.9 771.3 706C771.5 706.2 771.8 706.3 772 706.5C772.2 706.7 772.5 706.9 772.7 707.1C772.9 707.3 773.1 707.5 773.3 707.8C773.5 708 773.6 708.3 773.8 708.6C773.9 708.9 774.1 709.2 774.2 709.5Z"/>
</g>
<g fill="none" stroke="#000" stroke-width="5" stroke-linecap="round" stroke-linejoin="round">
<path d="M657.7 717.9L663.9 715"/>
</g>
<g fill="none" stroke="#000" stroke-width="1.8" stroke-linecap="round" stroke-linejoin="round">
<path d="M780.1 679.4C779.1 679.4 776.2 680.1 774.3 679.4C772.3 678.8 770.4 677.2 768.4 675.7C766.4 674.2 763.2 671.2 762.2 670.3"/>
</g>
<g fill="none" stroke="#000" stroke-width="1.6" stroke-linecap="round" stroke-linejoin="round">
<path d="M776.1 655.5C776.2 655.9 776.3 656.4 776.4 656.9C776.4 657.4 776.5 657.9 776.4 658.3C776.4 658.8 776.4 659.3 776.3 659.7C776.2 660.2 776.1 660.7 775.9 661.1C775.7 661.5 775.5 661.9 775.3 662.3C775.1 662.7 774.8 663 774.6 663.4C774.3 663.7 774 664 773.6 664.3C773.3 664.5 772.9 664.7 772.6 664.9C772.2 665.1 771.8 665.3 771.4 665.4C771 665.5 770.6 665.5 770.2 665.6C769.8 665.6 769.4 665.6 768.9 665.5C768.5 665.5 768.1 665.4 767.7 665.2C767.3 665.1 766.9 664.9 766.5 664.7C766.1 664.4 765.7 664.2 765.4 663.9C765 663.6 764.7 663.3 764.4 662.9C764.1 662.6 763.8 662.2 763.5 661.8C763.3 661.4 763.1 661 762.9 660.5C762.7 660.1 762.5 659.6 762.4 659.1C762.3 658.7 762.2 658.2 762.1 657.7C762.1 657.2 762 656.7 762.1 656.3C762.1 655.8 762.1 655.3 762.2 654.9C762.3 654.4 762.4 653.9 762.6 653.5C762.8 653.1 763 652.7 763.2 652.3C763.4 651.9 763.7 651.6 764 651.2C764.2 650.9 764.5 650.6 764.9 650.3C765.2 650.1 765.6 649.9 765.9 649.7C766.3 649.5 766.7 649.3 767.1 649.2C767.5 649.1 767.9 649.1 768.3 649C768.7 649 769.2 649 769.6 649.1C770 649.2 770.4 649.3 770.8 649.4C771.2 649.5 771.6 649.7 772 649.9C772.4 650.2 772.8 650.4 773.1 650.7C773.5 651 773.8 651.3 774.1 651.7C774.4 652 774.7 652.4 775 652.8C775.2 653.2 775.4 653.6 775.6 654.1C775.8 654.5 776 655 776.1 655.5Z"/>
</g>
<g fill="none" stroke="#000" stroke-width="1.3" stroke-linecap="round" stroke-linejoin="round">
<path d="M772.3 710.3C772.4 710.5 772.4 710.7 772.5 710.9C772.5 711.1 772.5 711.3 772.6 711.5C772.6 711.7 772.6 711.9 772.6 712.1C772.6 712.3 772.6 712.5 772.5 712.6C772.5 712.8 772.5 713 772.4 713.1C772.4 713.3 772.3 713.4 772.2 713.6C772.2 713.7 772.1 713.8 772 714C771.9 714.1 771.8 714.2 771.7 714.2C771.5 714.3 771.4 714.4 771.3 714.4C771.2 714.5 771 714.5 770.9 714.5C770.8 714.5 770.6 714.5 770.5 714.5C770.3 714.5 770.2 714.4 770 714.4C769.9 714.3 769.7 714.3 769.6 714.2C769.5 714.1 769.3 714 769.2 713.9C769 713.7 768.9 713.6 768.8 713.5C768.7 713.3 768.5 713.2 768.4 713C768.3 712.8 768.2 712.7 768.1 712.5C768 712.3 768 712.1 767.9 711.9C767.8 711.7 767.8 711.5 767.7 711.3C767.7 711.1 767.6 710.9 767.6 710.8C767.6 710.6 767.6 710.4 767.6 710.2C767.6 710 767.6 709.8 767.6 709.6C767.7 709.4 767.7 709.3 767.8 709.1C767.8 709 767.9 708.8 767.9 708.7C768 708.5 768.1 708.4 768.2 708.3C768.3 708.2 768.4 708.1 768.5 708C768.6 707.9 768.8 707.9 768.9 707.8C769 707.8 769.2 707.8 769.3 707.7C769.4 707.7 769.6 707.7 769.7 707.8C769.9 707.8 770 707.8 770.1 707.9C770.3 707.9 770.4 708 770.6 708.1C770.7 708.2 770.9 708.3 771 708.4C771.1 708.5 771.3 708.6 771.4 708.8C771.5 708.9 771.6 709.1 771.7 709.2C771.9 709.4 772 709.6 772 709.8C772.1 709.9 772.2 710.1 772.3 710.3Z"/>
</g>
<path d="M387.17 439.96Q387.17 442.4 385.85 443.81Q384.53 445.22 382.2 445.22Q379.59 445.22 378.22 443.28Q376.84 441.35 376.84 437.65Q376.84 433.65 378.27 431.5Q379.7 429.36 382.35 429.36Q385.84 429.36 386.75 432.5L384.87 432.84Q384.29 430.96 382.33 430.96Q380.64 430.96 379.72 432.53Q378.8 434.1 378.8 437.07Q379.33 436.07 380.3 435.56Q381.28 435.04 382.54 435.04Q384.67 435.04 385.92 436.37Q387.17 437.7 387.17 439.96ZM385.17 440.05Q385.17 438.37 384.35 437.46Q383.53 436.56 382.07 436.56Q380.69 436.56 379.84 437.36Q378.99 438.16 378.99 439.57Q378.99 441.36 379.87 442.5Q380.75 443.63 382.13 443.63Q383.55 443.63 384.36 442.68Q385.17 441.72 385.17 440.05Z" fill="#000"/>
<path d="M670.32 587.38Q670.32 589.82 668.87 591.22Q667.42 592.62 664.85 592.62Q662.69 592.62 661.37 591.68Q660.05 590.74 659.7 588.95L661.69 588.73Q662.31 591.01 664.89 591.01Q666.48 591.01 667.38 590.05Q668.27 589.1 668.27 587.42Q668.27 585.97 667.37 585.07Q666.47 584.17 664.94 584.17Q664.14 584.17 663.45 584.43Q662.76 584.68 662.07 585.28H660.15L660.66 576.99H669.42V578.66H662.45L662.16 583.55Q663.44 582.57 665.34 582.57Q667.62 582.57 668.97 583.9Q670.32 585.24 670.32 587.38Z" fill="#000"/>
<path d="M728.47 551.15Q728.47 553.28 727.12 554.45Q725.76 555.62 723.25 555.62Q720.9 555.62 719.51 554.56Q718.12 553.51 717.85 551.44L719.89 551.25Q720.28 553.99 723.25 553.99Q724.73 553.99 725.58 553.26Q726.43 552.52 726.43 551.08Q726.43 549.82 725.46 549.12Q724.49 548.41 722.67 548.41H721.55V546.7H722.62Q724.24 546.7 725.13 546Q726.02 545.29 726.02 544.05Q726.02 542.81 725.3 542.09Q724.57 541.38 723.14 541.38Q721.83 541.38 721.03 542.05Q720.23 542.71 720.1 543.93L718.12 543.77Q718.33 541.88 719.69 540.82Q721.04 539.76 723.16 539.76Q725.48 539.76 726.76 540.84Q728.05 541.91 728.05 543.84Q728.05 545.32 727.22 546.24Q726.4 547.16 724.82 547.49V547.54Q726.55 547.72 727.51 548.7Q728.47 549.67 728.47 551.15Z" fill="#000"/>
<path d="M817.73 721.8V720.41Q818.28 719.13 819.09 718.15Q819.89 717.17 820.78 716.38Q821.66 715.59 822.53 714.91Q823.4 714.23 824.1 713.55Q824.8 712.88 825.24 712.13Q825.67 711.39 825.67 710.45Q825.67 709.18 824.92 708.48Q824.18 707.78 822.86 707.78Q821.6 707.78 820.78 708.46Q819.97 709.15 819.83 710.38L817.81 710.2Q818.03 708.35 819.38 707.25Q820.73 706.16 822.86 706.16Q825.19 706.16 826.44 707.26Q827.69 708.36 827.69 710.38Q827.69 711.28 827.28 712.16Q826.87 713.05 826.06 713.94Q825.25 714.82 822.97 716.68Q821.71 717.71 820.96 718.54Q820.22 719.36 819.89 720.13H827.93V721.8Z" fill="#000"/>
<path d="M462.64 695.21V698.7H460.78V695.21H453.51V693.68L460.57 683.29H462.64V693.66H464.8V695.21ZM460.78 685.51Q460.75 685.58 460.47 686.09Q460.19 686.6 460.04 686.81L456.1 692.63L455.5 693.44L455.33 693.66H460.78Z" fill="#000"/>
<path d="M664.03 738.49Q661.67 742.1 660.7 744.14Q659.72 746.19 659.24 748.18Q658.75 750.17 658.75 752.3H656.69Q656.69 749.35 657.94 746.08Q659.2 742.82 662.13 738.56H653.85V736.89H664.03Z" fill="#000"/>
<path d="M955 573.2L955 571.2C957 570.6 958.4 569.2 959.2 568L961 568L961 584L959 584L959 571.3C958 572.2 956.6 572.9 955 573.2Z" fill="#000"/>
</svg></body></html>
